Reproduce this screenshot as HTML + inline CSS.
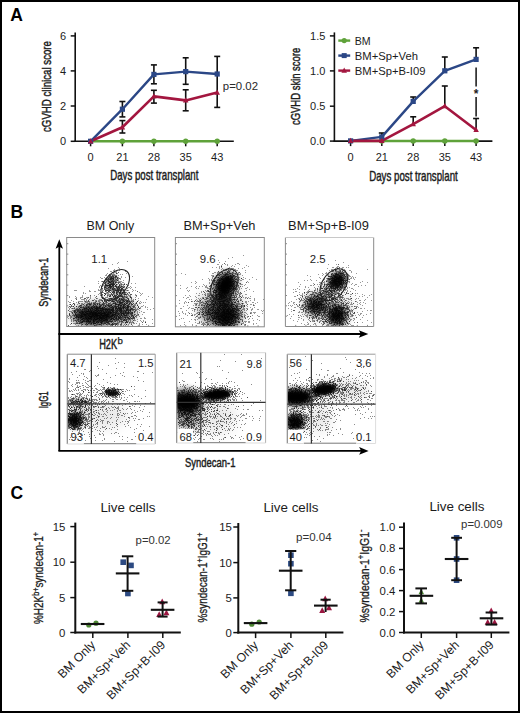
<!DOCTYPE html>
<html><head><meta charset="utf-8"><title>figure</title>
<style>html,body{margin:0;padding:0;background:#fff;}svg{display:block;}text{font-family:"Liberation Sans",sans-serif;}</style>
</head><body>
<svg width="520" height="713" viewBox="0 0 520 713" font-family="Liberation Sans, sans-serif" fill="#1c1c1c">
<defs><filter id="soft" x="-5%" y="-5%" width="110%" height="110%"><feGaussianBlur stdDeviation="0.4"/></filter><filter id="b1_2" x="-50%" y="-50%" width="200%" height="200%"><feGaussianBlur stdDeviation="1.2"/></filter><filter id="b1_4" x="-50%" y="-50%" width="200%" height="200%"><feGaussianBlur stdDeviation="1.4"/></filter><filter id="b1_7" x="-50%" y="-50%" width="200%" height="200%"><feGaussianBlur stdDeviation="1.7"/></filter><filter id="b1_8" x="-50%" y="-50%" width="200%" height="200%"><feGaussianBlur stdDeviation="1.8"/></filter><filter id="b2_0" x="-50%" y="-50%" width="200%" height="200%"><feGaussianBlur stdDeviation="2.0"/></filter><filter id="b2_5" x="-50%" y="-50%" width="200%" height="200%"><feGaussianBlur stdDeviation="2.5"/></filter><filter id="b2_7" x="-50%" y="-50%" width="200%" height="200%"><feGaussianBlur stdDeviation="2.7"/></filter><filter id="b2_9" x="-50%" y="-50%" width="200%" height="200%"><feGaussianBlur stdDeviation="2.9"/></filter><filter id="b3_1" x="-50%" y="-50%" width="200%" height="200%"><feGaussianBlur stdDeviation="3.1"/></filter><filter id="b3_4" x="-50%" y="-50%" width="200%" height="200%"><feGaussianBlur stdDeviation="3.4"/></filter><filter id="b3_6" x="-50%" y="-50%" width="200%" height="200%"><feGaussianBlur stdDeviation="3.6"/></filter><filter id="b4_0" x="-50%" y="-50%" width="200%" height="200%"><feGaussianBlur stdDeviation="4.0"/></filter><filter id="b5_0" x="-50%" y="-50%" width="200%" height="200%"><feGaussianBlur stdDeviation="5.0"/></filter><filter id="b5_4" x="-50%" y="-50%" width="200%" height="200%"><feGaussianBlur stdDeviation="5.4"/></filter><filter id="b5_9" x="-50%" y="-50%" width="200%" height="200%"><feGaussianBlur stdDeviation="5.9"/></filter><filter id="b6_3" x="-50%" y="-50%" width="200%" height="200%"><feGaussianBlur stdDeviation="6.3"/></filter><clipPath id="c66_237"><rect x="66.7" y="237.5" width="87.99999999999999" height="89.0"/></clipPath><clipPath id="c175_237"><rect x="175.4" y="237.5" width="88.9" height="89.30000000000001"/></clipPath><clipPath id="c285_237"><rect x="285.4" y="237.5" width="88.30000000000001" height="89.0"/></clipPath><clipPath id="c67_354"><rect x="67.3" y="354.2" width="87.89999999999999" height="89.80000000000001"/></clipPath><clipPath id="c176_352"><rect x="176.7" y="352.7" width="88.90000000000003" height="90.30000000000001"/></clipPath><clipPath id="c287_354"><rect x="287.3" y="354.2" width="88.30000000000001" height="89.30000000000001"/></clipPath></defs>
<rect x="0" y="0" width="520" height="713" fill="#fff"/>
<text x="10.3" y="20.5" font-size="17.5" font-weight="bold" fill="#000">A</text>
<text x="10.6" y="217.5" font-size="17.5" font-weight="bold" fill="#000">B</text>
<text x="10.6" y="498.6" font-size="17.5" font-weight="bold" fill="#000">C</text>
<line x1="75.2" y1="32.4" x2="75.2" y2="142.10000000000002" stroke="#111" stroke-width="1.6"/>
<line x1="70.7" y1="35.9" x2="75.2" y2="35.9" stroke="#111" stroke-width="1.5"/>
<text x="66.0" y="39.8" font-size="11" text-anchor="end">6</text>
<line x1="70.7" y1="70.9" x2="75.2" y2="70.9" stroke="#111" stroke-width="1.5"/>
<text x="66.0" y="74.80000000000001" font-size="11" text-anchor="end">4</text>
<line x1="70.7" y1="106.0" x2="75.2" y2="106.0" stroke="#111" stroke-width="1.5"/>
<text x="66.0" y="109.9" font-size="11" text-anchor="end">2</text>
<line x1="70.7" y1="141.3" x2="75.2" y2="141.3" stroke="#111" stroke-width="1.5"/>
<text x="66.0" y="145.20000000000002" font-size="11" text-anchor="end">0</text>
<line x1="74.4" y1="141.3" x2="233.8" y2="141.3" stroke="#111" stroke-width="1.6"/>
<line x1="90.6" y1="141.3" x2="90.6" y2="146.3" stroke="#111" stroke-width="1.5"/>
<text x="90.6" y="161.0" font-size="11" text-anchor="middle">0</text>
<line x1="122.4" y1="141.3" x2="122.4" y2="146.3" stroke="#111" stroke-width="1.5"/>
<text x="122.4" y="161.0" font-size="11" text-anchor="middle">21</text>
<line x1="153.9" y1="141.3" x2="153.9" y2="146.3" stroke="#111" stroke-width="1.5"/>
<text x="153.9" y="161.0" font-size="11" text-anchor="middle">28</text>
<line x1="185.7" y1="141.3" x2="185.7" y2="146.3" stroke="#111" stroke-width="1.5"/>
<text x="185.7" y="161.0" font-size="11" text-anchor="middle">35</text>
<line x1="217.2" y1="141.3" x2="217.2" y2="146.3" stroke="#111" stroke-width="1.5"/>
<text x="217.2" y="161.0" font-size="11" text-anchor="middle">43</text>
<text x="110.2" y="180.4" font-size="14.5" textLength="88.2" lengthAdjust="spacingAndGlyphs" stroke="#1c1c1c" stroke-width="0.45">Days post transplant</text>
<text x="50.8" y="86.5" font-size="13.2" text-anchor="middle" textLength="91.0" lengthAdjust="spacingAndGlyphs" transform="rotate(-90 50.8 86.5)" stroke="#1c1c1c" stroke-width="0.45">cGVHD clinical score</text>
<polyline points="90.6,141.2 122.4,141.2 153.9,141.2 185.7,141.2 217.2,141.2" fill="none" stroke="#5fa23a" stroke-width="2.6" stroke-linejoin="round"/>
<circle cx="122.4" cy="141.2" r="2.7" fill="#5fa23a"/>
<circle cx="153.9" cy="141.2" r="2.7" fill="#5fa23a"/>
<circle cx="185.7" cy="141.2" r="2.7" fill="#5fa23a"/>
<circle cx="217.2" cy="141.2" r="2.7" fill="#5fa23a"/>
<line x1="122.4" y1="101.5" x2="122.4" y2="116.9" stroke="#111" stroke-width="1.6"/>
<line x1="119.4" y1="101.5" x2="125.4" y2="101.5" stroke="#111" stroke-width="1.6"/>
<line x1="119.4" y1="116.9" x2="125.4" y2="116.9" stroke="#111" stroke-width="1.6"/>
<line x1="153.9" y1="64.9" x2="153.9" y2="83.8" stroke="#111" stroke-width="1.6"/>
<line x1="150.9" y1="64.9" x2="156.9" y2="64.9" stroke="#111" stroke-width="1.6"/>
<line x1="150.9" y1="83.8" x2="156.9" y2="83.8" stroke="#111" stroke-width="1.6"/>
<line x1="185.7" y1="57.8" x2="185.7" y2="84.3" stroke="#111" stroke-width="1.6"/>
<line x1="182.7" y1="57.8" x2="188.7" y2="57.8" stroke="#111" stroke-width="1.6"/>
<line x1="182.7" y1="84.3" x2="188.7" y2="84.3" stroke="#111" stroke-width="1.6"/>
<line x1="217.2" y1="56.4" x2="217.2" y2="107.4" stroke="#111" stroke-width="1.6"/>
<line x1="214.2" y1="56.4" x2="220.2" y2="56.4" stroke="#111" stroke-width="1.6"/>
<line x1="214.2" y1="107.4" x2="220.2" y2="107.4" stroke="#111" stroke-width="1.6"/>
<line x1="122.4" y1="120.6" x2="122.4" y2="133.0" stroke="#111" stroke-width="1.6"/>
<line x1="119.4" y1="120.6" x2="125.4" y2="120.6" stroke="#111" stroke-width="1.6"/>
<line x1="119.4" y1="133.0" x2="125.4" y2="133.0" stroke="#111" stroke-width="1.6"/>
<line x1="153.9" y1="90.3" x2="153.9" y2="103.1" stroke="#111" stroke-width="1.6"/>
<line x1="150.9" y1="90.3" x2="156.9" y2="90.3" stroke="#111" stroke-width="1.6"/>
<line x1="150.9" y1="103.1" x2="156.9" y2="103.1" stroke="#111" stroke-width="1.6"/>
<line x1="185.7" y1="89.8" x2="185.7" y2="110.8" stroke="#111" stroke-width="1.6"/>
<line x1="182.7" y1="89.8" x2="188.7" y2="89.8" stroke="#111" stroke-width="1.6"/>
<line x1="182.7" y1="110.8" x2="188.7" y2="110.8" stroke="#111" stroke-width="1.6"/>
<polyline points="90.6,141.3 122.4,109.2 153.9,74.4 185.7,71.6 217.2,74.0" fill="none" stroke="#2b4786" stroke-width="2.4" stroke-linejoin="round"/>
<polyline points="90.6,141.3 122.4,127.3 153.9,96.4 185.7,100.4 217.2,92.6" fill="none" stroke="#a3163f" stroke-width="2.6" stroke-linejoin="round"/>
<rect x="88.00" y="138.70" width="5.2" height="5.2" fill="#2b4786"/>
<rect x="119.80" y="106.60" width="5.2" height="5.2" fill="#2b4786"/>
<rect x="151.30" y="71.80" width="5.2" height="5.2" fill="#2b4786"/>
<rect x="183.10" y="69.00" width="5.2" height="5.2" fill="#2b4786"/>
<rect x="214.60" y="71.40" width="5.2" height="5.2" fill="#2b4786"/>
<polygon points="90.60,138.17 93.35,143.39 87.85,143.39" fill="#a3163f"/>
<polygon points="122.40,124.16 125.15,129.39 119.65,129.39" fill="#a3163f"/>
<polygon points="153.90,93.27 156.65,98.49 151.15,98.49" fill="#a3163f"/>
<polygon points="185.70,97.27 188.45,102.49 182.95,102.49" fill="#a3163f"/>
<polygon points="217.20,89.46 219.95,94.69 214.45,94.69" fill="#a3163f"/>
<text x="222.8" y="90.2" font-size="11.2" textLength="35.2" lengthAdjust="spacingAndGlyphs" fill="#2a2a2a">p=0.02</text>
<line x1="334.4" y1="32.4" x2="334.4" y2="141.9" stroke="#111" stroke-width="1.6"/>
<line x1="329.9" y1="35.9" x2="334.4" y2="35.9" stroke="#111" stroke-width="1.5"/>
<text x="325.4" y="39.8" font-size="11" text-anchor="end">1.5</text>
<line x1="329.9" y1="70.9" x2="334.4" y2="70.9" stroke="#111" stroke-width="1.5"/>
<text x="325.4" y="74.80000000000001" font-size="11" text-anchor="end">1.0</text>
<line x1="329.9" y1="106.2" x2="334.4" y2="106.2" stroke="#111" stroke-width="1.5"/>
<text x="325.4" y="110.10000000000001" font-size="11" text-anchor="end">0.5</text>
<line x1="329.9" y1="141.1" x2="334.4" y2="141.1" stroke="#111" stroke-width="1.5"/>
<text x="325.4" y="145.0" font-size="11" text-anchor="end">0.0</text>
<line x1="333.59999999999997" y1="141.1" x2="492.4" y2="141.1" stroke="#111" stroke-width="1.6"/>
<line x1="350.6" y1="141.1" x2="350.6" y2="146.1" stroke="#111" stroke-width="1.5"/>
<text x="350.6" y="161.0" font-size="11" text-anchor="middle">0</text>
<line x1="381.8" y1="141.1" x2="381.8" y2="146.1" stroke="#111" stroke-width="1.5"/>
<text x="381.8" y="161.0" font-size="11" text-anchor="middle">21</text>
<line x1="413.2" y1="141.1" x2="413.2" y2="146.1" stroke="#111" stroke-width="1.5"/>
<text x="413.2" y="161.0" font-size="11" text-anchor="middle">28</text>
<line x1="444.8" y1="141.1" x2="444.8" y2="146.1" stroke="#111" stroke-width="1.5"/>
<text x="444.8" y="161.0" font-size="11" text-anchor="middle">35</text>
<line x1="476.1" y1="141.1" x2="476.1" y2="146.1" stroke="#111" stroke-width="1.5"/>
<text x="476.1" y="161.0" font-size="11" text-anchor="middle">43</text>
<text x="369.2" y="180.6" font-size="14.5" textLength="88.6" lengthAdjust="spacingAndGlyphs" stroke="#1c1c1c" stroke-width="0.45">Days post transplant</text>
<text x="300.3" y="86.4" font-size="13.4" text-anchor="middle" textLength="77.4" lengthAdjust="spacingAndGlyphs" transform="rotate(-90 300.3 86.4)" stroke="#1c1c1c" stroke-width="0.45">cGVHD skin score</text>
<polyline points="350.6,141.0 381.8,141.0 413.2,141.0 444.8,141.0 476.1,141.0" fill="none" stroke="#5fa23a" stroke-width="2.6" stroke-linejoin="round"/>
<circle cx="381.8" cy="141.0" r="2.7" fill="#5fa23a"/>
<circle cx="413.2" cy="141.0" r="2.7" fill="#5fa23a"/>
<circle cx="444.8" cy="141.0" r="2.7" fill="#5fa23a"/>
<circle cx="476.1" cy="141.0" r="2.7" fill="#5fa23a"/>
<line x1="381.8" y1="133.0" x2="381.8" y2="136.9" stroke="#111" stroke-width="1.6"/>
<line x1="378.8" y1="133.0" x2="384.8" y2="133.0" stroke="#111" stroke-width="1.6"/>
<line x1="413.2" y1="97.0" x2="413.2" y2="101.4" stroke="#111" stroke-width="1.6"/>
<line x1="410.2" y1="97.0" x2="416.2" y2="97.0" stroke="#111" stroke-width="1.6"/>
<line x1="444.8" y1="57.0" x2="444.8" y2="70.8" stroke="#111" stroke-width="1.6"/>
<line x1="441.8" y1="57.0" x2="447.8" y2="57.0" stroke="#111" stroke-width="1.6"/>
<line x1="476.1" y1="47.8" x2="476.1" y2="59.4" stroke="#111" stroke-width="1.6"/>
<line x1="473.1" y1="47.8" x2="479.1" y2="47.8" stroke="#111" stroke-width="1.6"/>
<line x1="413.2" y1="116.8" x2="413.2" y2="124.2" stroke="#111" stroke-width="1.6"/>
<line x1="410.2" y1="116.8" x2="416.2" y2="116.8" stroke="#111" stroke-width="1.6"/>
<line x1="444.8" y1="86.0" x2="444.8" y2="106.2" stroke="#111" stroke-width="1.6"/>
<line x1="441.8" y1="86.0" x2="447.8" y2="86.0" stroke="#111" stroke-width="1.6"/>
<line x1="476.1" y1="118.5" x2="476.1" y2="130.0" stroke="#111" stroke-width="1.6"/>
<line x1="473.1" y1="118.5" x2="479.1" y2="118.5" stroke="#111" stroke-width="1.6"/>
<polyline points="350.6,140.9 381.8,136.9 413.2,101.4 444.8,70.8 476.1,59.4" fill="none" stroke="#2b4786" stroke-width="2.4" stroke-linejoin="round"/>
<polyline points="350.6,140.9 381.8,140.9 413.2,124.2 444.8,106.2 476.1,130.0" fill="none" stroke="#a3163f" stroke-width="2.6" stroke-linejoin="round"/>
<rect x="348.00" y="138.30" width="5.2" height="5.2" fill="#2b4786"/>
<rect x="379.20" y="134.30" width="5.2" height="5.2" fill="#2b4786"/>
<rect x="410.60" y="98.80" width="5.2" height="5.2" fill="#2b4786"/>
<rect x="442.20" y="68.20" width="5.2" height="5.2" fill="#2b4786"/>
<rect x="473.50" y="56.80" width="5.2" height="5.2" fill="#2b4786"/>
<polygon points="350.60,137.77 353.35,142.99 347.85,142.99" fill="#a3163f"/>
<polygon points="381.80,137.77 384.55,142.99 379.05,142.99" fill="#a3163f"/>
<polygon points="413.20,121.06 415.95,126.29 410.45,126.29" fill="#a3163f"/>
<polygon points="444.80,103.06 447.55,108.29 442.05,108.29" fill="#a3163f"/>
<polygon points="476.10,126.86 478.85,132.09 473.35,132.09" fill="#a3163f"/>
<line x1="476.1" y1="67.5" x2="476.1" y2="86.5" stroke="#111" stroke-width="1.5"/>
<line x1="476.1" y1="97.0" x2="476.1" y2="116.5" stroke="#111" stroke-width="1.5"/>
<text x="476.1" y="98.2" font-size="12" text-anchor="middle" font-weight="bold">*</text>
<line x1="338.3" y1="40.6" x2="350.2" y2="40.6" stroke="#5fa23a" stroke-width="2.4"/>
<circle cx="344.2" cy="40.6" r="2.6" fill="#5fa23a"/>
<text x="354.8" y="44.5" font-size="11.2" textLength="15.9" lengthAdjust="spacingAndGlyphs">BM</text>
<line x1="338.3" y1="55.6" x2="350.2" y2="55.6" stroke="#2b4786" stroke-width="2.4"/>
<rect x="341.70" y="53.10" width="5" height="5" fill="#2b4786"/>
<text x="354.8" y="59.5" font-size="11.2" textLength="63.2" lengthAdjust="spacingAndGlyphs">BM+Sp+Veh</text>
<line x1="338.3" y1="70.6" x2="350.2" y2="70.6" stroke="#a3163f" stroke-width="2.4"/>
<polygon points="344.20,67.46 346.95,72.69 341.45,72.69" fill="#a3163f"/>
<text x="354.8" y="74.5" font-size="11.2" textLength="70.6" lengthAdjust="spacingAndGlyphs">BM+Sp+B-I09</text>
<text x="86.5" y="230.0" font-size="13" textLength="47.8" lengthAdjust="spacingAndGlyphs">BM Only</text>
<text x="183.4" y="230.0" font-size="13" textLength="72.0" lengthAdjust="spacingAndGlyphs">BM+Sp+Veh</text>
<text x="288.1" y="230.0" font-size="13" textLength="80.8" lengthAdjust="spacingAndGlyphs">BM+Sp+B-I09</text>
<line x1="59.3" y1="245.2" x2="59.3" y2="451.0" stroke="#000" stroke-width="1.8"/>
<path d="M59.3 239.2 L55.599999999999994 248.7 L59.3 246.7 L63.0 248.7 Z" fill="#000"/>
<line x1="58.4" y1="334.0" x2="362.3" y2="334.0" stroke="#000" stroke-width="1.8"/>
<path d="M368.3 334.0 L358.8 330.2 L360.8 334.0 L358.8 337.8 Z" fill="#000"/>
<line x1="58.4" y1="450.9" x2="362.6" y2="450.9" stroke="#000" stroke-width="1.8"/>
<path d="M368.6 450.9 L359.1 447.09999999999997 L361.1 450.9 L359.1 454.7 Z" fill="#000"/>
<text x="47.8" y="282.2" font-size="13.2" text-anchor="middle" textLength="49.0" lengthAdjust="spacingAndGlyphs" transform="rotate(-90 47.8 282.2)" stroke="#1c1c1c" stroke-width="0.45">Syndecan-1</text>
<text x="99.2" y="348.8" font-size="13.8" textLength="18.0" lengthAdjust="spacingAndGlyphs" fill="#1c1c1c" stroke="#1c1c1c" stroke-width="0.45">H2K</text>
<text x="117.4" y="343.6" font-size="9.6" fill="#1c1c1c" stroke="#1c1c1c" stroke-width="0.25">b</text>
<text x="47.9" y="399.8" font-size="13.4" text-anchor="middle" textLength="17.0" lengthAdjust="spacingAndGlyphs" transform="rotate(-90 47.9 399.8)" stroke="#1c1c1c" stroke-width="0.45">IgG1</text>
<text x="185.0" y="467.3" font-size="13.0" textLength="50.4" lengthAdjust="spacingAndGlyphs" stroke="#1c1c1c" stroke-width="0.45">Syndecan-1</text>
<g clip-path="url(#c66_237)">
<ellipse cx="108" cy="309" rx="26.0" ry="11.7" transform="rotate(0 108 309)" fill="#000" fill-opacity="0.12" filter="url(#b4_0)"/>
<ellipse cx="95" cy="315.5" rx="22.5" ry="10.0" transform="rotate(0 95 315.5)" fill="#000" fill-opacity="0.9" filter="url(#b3_6)"/>
<ellipse cx="124" cy="312" rx="10.8" ry="10.8" transform="rotate(0 124 312)" fill="#000" fill-opacity="0.55" filter="url(#b4_0)"/>
<ellipse cx="119" cy="300" rx="9.6" ry="8.4" transform="rotate(0 119 300)" fill="#000" fill-opacity="0.2" filter="url(#b3_1)"/>
<ellipse cx="111" cy="282" rx="8.4" ry="4.6" transform="rotate(-55 111 282)" fill="#000" fill-opacity="0.45" filter="url(#b1_7)"/>
<ellipse cx="119" cy="290" rx="6.6" ry="5.4" transform="rotate(0 119 290)" fill="#000" fill-opacity="0.2" filter="url(#b2_0)"/>
<path d="M108 311h1M102 300h1M98 300h1M109 321h1M98 303h1M117 312h1M110 300h1M107 315h1M81 304h1M69 297h1M71 306h1M82 311h1M111 307h1M107 310h1M77 304h1M88 301h1M129 301h1M107 316h1M96 307h1M110 309h1M83 309h1M135 295h1M125 310h1M123 298h1M109 314h1M104 315h1M106 315h1M136 302h1M112 304h1M110 298h1M125 319h1M81 301h1M120 291h1M98 308h1M133 315h1M101 305h1M102 322h1M99 306h1M115 307h1M104 298h1M107 305h1M131 314h1M101 318h1M107 314h1M82 312h1M74 290h1M101 300h1M91 303h1M112 313h1M104 307h1M122 313h1M87 308h1M108 299h1M113 301h1M127 310h1M109 303h1M105 291h1M85 312h1M73 315h1M91 316h1M110 295h1M132 321h1M106 306h1M104 300h1M129 304h1M106 301h1M95 297h1M133 307h1M127 309h1M94 306h1M96 309h1M100 306h1M80 301h1M141 302h1M86 312h1M136 295h1M103 303h1M72 315h1M107 309h1M92 313h1M97 307h1M85 298h1M134 304h1M113 308h1M99 304h1M120 306h1M104 309h1M131 315h1M115 303h1M80 317h1M127 307h1M118 316h1M124 317h1M98 322h1M83 316h1M117 316h1M145 322h1M85 293h1M124 299h1M75 290h1M113 309h1M103 309h1M90 295h1M75 313h1M106 312h1M88 303h1M111 301h1M115 312h1M148 296h1M125 308h1M107 295h1M98 315h1M106 309h1M102 319h1M107 289h1M94 291h1M134 309h1M84 300h1M130 310h1M108 308h1M108 316h1M119 310h1M87 313h1M94 318h1M82 307h1M107 297h1M142 322h1M115 285h1M109 299h1M102 307h1M131 312h1M107 322h1M96 305h1M71 323h1M127 317h1M121 309h1M112 306h1M138 314h1M106 303h1M95 323h1M118 309h1M101 299h1M106 316h1M76 306h1M90 316h1M92 314h1M138 306h1M95 310h1M107 300h1M87 311h1M83 299h1M133 300h1M129 322h1M113 313h1M147 307h1M96 296h1M108 322h1M127 300h1M90 304h1M113 307h1M112 311h1M102 308h1M112 308h1M119 309h1M74 312h1M69 296h1M125 315h1M105 293h1M100 302h1M112 301h1M84 308h1M130 318h1M118 307h1M100 305h1M82 296h1M123 307h1M112 318h1M73 301h1M111 312h1M100 318h1M112 298h1M89 316h1M117 291h1M134 314h1M134 305h1M102 298h1M139 303h1M111 293h1M100 317h1M82 318h1M114 299h1M97 304h1M107 304h1M91 306h1M87 297h1M77 309h1M95 300h1M125 304h1M137 301h1M115 306h1M104 314h1M107 299h1M105 309h1M107 293h1M121 299h1M71 308h1M130 295h1M86 302h1M91 302h1M119 302h1M116 300h1M83 292h1M145 306h1M111 309h1M146 299h1M76 299h1M81 315h1M124 300h1M80 305h1M135 283h1M118 299h1M128 299h1M102 295h1M88 321h1M124 305h1M90 291h1M100 308h1M106 308h1M85 308h1M107 320h1M145 307h1M92 308h1M95 302h1M106 299h1M120 308h1M93 300h1M103 304h1M80 309h1M81 303h1M102 290h1M109 310h1M104 305h1M100 300h1M102 304h1M109 298h1M112 310h1M105 305h1M119 294h1M117 311h1M113 312h1M120 312h1M112 295h1M118 319h1M128 311h1M76 317h1M105 286h1M115 295h1M82 303h1M133 305h1M113 324h1M139 308h1M103 297h1M94 312h1M115 309h1M127 302h1M119 318h1M115 299h1M75 314h1M106 311h1M74 305h1M96 301h1M125 312h1M95 308h1M123 284h1M105 313h1M121 324h1M130 311h1M114 316h1M97 308h1M104 308h1M111 321h1M88 307h1M104 316h1M128 295h1M89 312h1M94 295h1M128 313h1M117 304h1M128 306h1M129 300h1M90 310h1M93 315h1M113 300h1M109 305h1M126 303h1M99 319h1M138 307h1M88 310h1M117 301h1M75 296h1M121 302h1M105 310h1M120 305h1M117 300h1M100 299h1M130 308h1M93 305h1M103 315h1M103 305h1M132 313h1M121 304h1M146 324h1M119 315h1M104 312h1M121 305h1M93 306h1M95 305h1M113 319h1M147 309h1M71 300h1M83 304h1M109 290h1M114 295h1M101 308h1M97 303h1M74 308h1M134 315h1M94 321h1M102 309h1M99 308h1M86 305h1M153 308h1M103 313h1M122 298h1M103 317h1M113 310h1M139 302h1M109 304h1M137 291h1M94 304h1M121 314h1M135 294h1M123 306h1M94 313h1M89 290h1M100 295h1M95 312h1M114 323h1M104 295h1M92 300h1M83 312h1M95 291h1M121 307h1M120 309h1M132 312h1M78 307h1M102 310h1M80 323h1M73 306h1M106 302h1M107 317h1M98 301h1M88 300h1M98 290h1M79 305h1M110 307h1M72 304h1M123 314h1M120 303h1M84 301h1M136 310h1M131 304h1M123 304h1M132 304h1M108 309h1M134 311h1M123 311h1M111 325h1M89 308h1M117 315h1M99 311h1M105 298h1M88 306h1M111 299h1M131 313h1M98 310h1M99 321h1M95 319h1M97 316h1M113 311h1M82 313h1M116 304h1M116 310h1M88 322h1M116 312h1M102 321h1M83 318h1M94 311h1M86 316h1M87 324h1M116 320h1M135 308h1M109 312h1M106 321h1M108 314h1M103 320h1M93 323h1M76 323h1M90 308h1M78 302h1M94 319h1M113 314h1M113 315h1M93 320h1M114 312h1M90 314h1M96 308h1M103 308h1M88 318h1M96 315h1M89 301h1M90 297h1M101 309h1M106 304h1M100 312h1M126 317h1M109 315h1M126 299h1M89 322h1M88 309h1M79 312h1M82 322h1M110 312h1M74 303h1M82 297h1M108 310h1M116 306h1M110 324h1M81 307h1M93 302h1M121 296h1M99 313h1M115 298h1M94 309h1M97 317h1M78 310h1M109 318h1M136 303h1M109 317h1M91 311h1M108 312h1M87 305h1M94 308h1M91 323h1M101 319h1M101 315h1M108 306h1M81 311h1M82 316h1M82 324h1M80 297h1M81 299h1M94 323h1M100 315h1M101 320h1M83 307h1M95 307h1M93 316h1M137 308h1M102 323h1M86 308h1M76 312h1M84 313h1M124 297h1M88 317h1M85 317h1M106 322h1M86 322h1M116 324h1M120 314h1M91 322h1M70 317h1M94 322h1M112 314h1M91 308h1M102 313h1M94 303h1M79 303h1M99 303h1M106 324h1M119 320h1M106 317h1M111 324h1M101 295h1M77 317h1M116 311h1M99 318h1M82 321h1M98 321h1M94 314h1M117 318h1M84 311h1M104 320h1M120 318h1M73 303h1M123 308h1M117 320h1M125 323h1M93 313h1M96 316h1M85 315h1M123 301h1M93 321h1M84 320h1M98 294h1M81 317h1M122 317h1M95 313h1M143 321h1M117 319h1M72 313h1M100 322h1M102 318h1M81 305h1M71 305h1M86 300h1M70 302h1M98 318h1M131 303h1M91 312h1M74 304h1M101 317h1M70 307h1M83 320h1M105 301h1M89 318h1M84 298h1M89 321h1M123 297h1M142 306h1M112 325h1M112 316h1M74 320h1M82 295h1M145 321h1M127 308h1M122 315h1M73 314h1M94 325h1M80 312h1M111 305h1M89 304h1M78 306h1M137 319h1M87 301h1M87 304h1M92 307h1M96 319h1M69 308h1M78 321h1M125 322h1M83 293h1M76 316h1M68 310h1M116 316h1M137 309h1M99 300h1M78 319h1M93 307h1M88 311h1M86 321h1M106 310h1M78 317h1M79 308h1M87 321h1M90 321h1M143 305h1M118 310h1M82 310h1M92 316h1M131 324h1M93 319h1M102 301h1M101 314h1M97 311h1M75 311h1M112 315h1M95 314h1M95 306h1M106 314h1M82 315h1M109 311h1M134 320h1M96 314h1M89 311h1M94 316h1M73 320h1M85 324h1M99 324h1M97 318h1M81 316h1M125 318h1M83 314h1M110 308h1M91 324h1M76 308h1M84 314h1M132 317h1M121 317h1M105 303h1M90 298h1M90 318h1M72 308h1M100 316h1M79 315h1M116 307h1M122 322h1M68 301h1M71 312h1M96 298h1M76 315h1M105 320h1M86 309h1M101 323h1M97 325h1M117 314h1M120 316h1M71 320h1M107 313h1M109 308h1M90 307h1M82 301h1M109 324h1M79 314h1M70 304h1M136 316h1M83 321h1M127 319h1M73 318h1M119 311h1M81 323h1M97 306h1M115 321h1M111 319h1M77 322h1M75 298h1M79 317h1M86 323h1M81 324h1M81 312h1M129 318h1M115 325h1M84 310h1M77 320h1M105 314h1M77 316h1M123 313h1M75 323h1M100 324h1M95 325h1M110 321h1M104 318h1M99 317h1M126 314h1M89 305h1M133 317h1M105 317h1M90 296h1M105 319h1M85 321h1M115 316h1M100 314h1M120 315h1M132 308h1M107 307h1M127 312h1M93 322h1M117 306h1M88 304h1M97 314h1M87 319h1M77 314h1M76 321h1M101 313h1M75 309h1M81 306h1M83 311h1M111 310h1M126 320h1M75 315h1M107 319h1M85 314h1M71 317h1M86 304h1M80 320h1M107 312h1M118 324h1M99 301h1M125 317h1M117 310h1M91 315h1M102 303h1M101 310h1M133 316h1M76 309h1M101 311h1M104 319h1M121 315h1M128 307h1M88 319h1M121 310h1M105 312h1M74 323h1M126 308h1M89 323h1M84 319h1M81 297h1M129 312h1M94 320h1M116 323h1M93 309h1M90 319h1M108 317h1M99 302h1M107 292h1M95 303h1M85 316h1M78 309h1M86 315h1M115 305h1M122 319h1M110 320h1M118 313h1M89 307h1M82 319h1M82 309h1M74 311h1M69 313h1M78 316h1M128 320h1M89 302h1M69 302h1M96 310h1M80 322h1M77 323h1M90 313h1M100 310h1M97 322h1M112 323h1M69 314h1M80 310h1M112 309h1M128 305h1M100 309h1M122 307h1M91 307h1M89 306h1M91 310h1M87 316h1M86 311h1M109 316h1M109 309h1M115 313h1M84 286h1M96 300h1M99 312h1M91 314h1M85 310h1M78 325h1M91 319h1M124 313h1M114 319h1M91 304h1M70 318h1M89 303h1M106 320h1M98 320h1M121 306h1M108 305h1M98 313h1M96 313h1M110 317h1M89 314h1M87 322h1M90 317h1M87 303h1M107 318h1M73 321h1M87 317h1M105 315h1M86 306h1M90 309h1M101 294h1M97 309h1M119 313h1M81 313h1M130 321h1M114 314h1M99 316h1M80 298h1M82 299h1M110 316h1M73 323h1M81 314h1M68 307h1M80 311h1M111 315h1M95 315h1M107 311h1M115 319h1M97 315h1M104 323h1M96 306h1M132 319h1M76 297h1M96 312h1M87 298h1M84 321h1M85 301h1M84 318h1M96 324h1M86 319h1M105 306h1M99 307h1M95 304h1M121 313h1M123 315h1M101 322h1M99 305h1M118 312h1M89 291h1M113 322h1M109 323h1M88 323h1M80 318h1M87 302h1M67 317h1M72 312h1M97 321h1M83 306h1M102 316h1M110 305h1M75 317h1M133 320h1M79 321h1M141 318h1M121 319h1M106 319h1M104 321h1M73 319h1M92 322h1M112 320h1M73 308h1M104 313h1M108 321h1M75 310h1M69 304h1M113 323h1M88 320h1M116 313h1M74 318h1M103 307h1M129 310h1M130 306h1M70 316h1M116 309h1M124 319h1M87 307h1M123 312h1M84 303h1M73 311h1M91 318h1M104 317h1M98 307h1M77 310h1M90 305h1M97 310h1M128 310h1M121 308h1M131 316h1M114 306h1M126 305h1M115 311h1M81 322h1M80 315h1M76 314h1M77 315h1M77 311h1M87 309h1M70 306h1M115 310h1M114 317h1M94 299h1M71 321h1M120 317h1M90 312h1M105 318h1M99 315h1M121 323h1M80 307h1M91 317h1M85 309h1M108 301h1M107 302h1M141 294h1M111 313h1M109 306h1M90 323h1M115 318h1M67 315h1M81 310h1M110 311h1M85 306h1M105 323h1M79 309h1M119 317h1M90 324h1M88 313h1M86 299h1M84 309h1M93 303h1M97 313h1M112 324h1M101 312h1M100 320h1M90 303h1M76 302h1M99 320h1M103 306h1M74 310h1M111 316h1M111 304h1M93 311h1M136 315h1M127 305h1M105 316h1M92 306h1M70 324h1M81 319h1M94 317h1M116 318h1M119 322h1M76 310h1M132 314h1M152 323h1M103 311h1M112 321h1M114 315h1M119 321h1M84 305h1M81 321h1M108 313h1M110 313h1M96 318h1M104 322h1M96 322h1M118 323h1M103 323h1M89 313h1M102 315h1M124 320h1M79 323h1M142 314h1M68 325h1M96 317h1M106 318h1M123 320h1M101 325h1M99 299h1M95 320h1M117 309h1M72 306h1M116 317h1M73 310h1M78 314h1M115 323h1M86 325h1M78 303h1M93 312h1M81 325h1M122 304h1M118 314h1M69 306h1M84 307h1M92 310h1M121 318h1M103 312h1M77 308h1M126 301h1M94 315h1M93 314h1M86 314h1M94 307h1M98 309h1M104 301h1M93 324h1M134 306h1M78 315h1M102 317h1M98 312h1M87 318h1M76 320h1M97 324h1M78 320h1M71 316h1M88 315h1M130 296h1M101 321h1M88 297h1M115 315h1M126 312h1M70 315h1M86 313h1M86 318h1M80 313h1M110 319h1M85 318h1M78 301h1M111 318h1M87 320h1M100 307h1M92 312h1M108 303h1M76 318h1M117 324h1M105 321h1M79 306h1M79 316h1M76 298h1M100 321h1M103 316h1M78 323h1M137 312h1M74 315h1M96 311h1M95 316h1M79 322h1M110 310h1M115 304h1M75 324h1M91 313h1M108 315h1M103 310h1M106 293h1M69 311h1M83 308h1M132 315h1M121 312h1M126 321h1M90 311h1M141 321h1M86 320h1M72 310h1M103 318h1M79 310h1M80 306h1M115 308h1M107 321h1M104 304h1M114 307h1M110 302h1M80 316h1M86 297h1M75 320h1M108 323h1M105 311h1M101 324h1M78 318h1M126 324h1M110 306h1M87 306h1M118 317h1M86 310h1M85 302h1M89 299h1M122 316h1M85 311h1M126 322h1M97 319h1M95 301h1M132 325h1M98 324h1M118 318h1M69 309h1M88 314h1M100 313h1M96 325h1M82 314h1M124 307h1M90 322h1M90 320h1M111 308h1M79 301h1M99 310h1M114 298h1M111 306h1M86 317h1M124 324h1M93 304h1M137 305h1M86 324h1M92 309h1M71 319h1M108 324h1M86 307h1M95 317h1M89 315h1M69 315h1M79 311h1M93 317h1M89 319h1M85 307h1M136 309h1M74 316h1M127 322h1M97 323h1M82 304h1M83 313h1M113 303h1M108 318h1M122 321h1M116 308h1M105 308h1M102 320h1M127 318h1M92 315h1M70 311h1M110 325h1M68 318h1M76 322h1M84 315h1M78 311h1M75 312h1M112 299h1M97 298h1M87 314h1M76 290h1M84 299h1M80 321h1M110 304h1M74 307h1M71 311h1M117 322h1M96 321h1M86 301h1M94 310h1M85 319h1M128 318h1M126 307h1M127 321h1M131 308h1M130 307h1M136 317h1M125 302h1M128 312h1M125 306h1M123 309h1M126 296h1M114 297h1M127 306h1M115 324h1M111 322h1M135 309h1M123 317h1M126 310h1M127 313h1M114 303h1M126 294h1M116 297h1M114 310h1M130 322h1M117 325h1M130 313h1M130 319h1M112 312h1M117 323h1M128 304h1M123 300h1M123 316h1M125 294h1M117 313h1M123 325h1M132 318h1M127 315h1M139 324h1M122 302h1M141 306h1M133 309h1M120 302h1M145 318h1M130 297h1M130 309h1M123 310h1M118 297h1M125 311h1M131 294h1M119 316h1M133 290h1M124 298h1M113 317h1M107 308h1M118 304h1M126 313h1M107 324h1M120 310h1M103 319h1M132 306h1M124 315h1M138 309h1M100 304h1M116 314h1M128 317h1M116 319h1M140 307h1M118 308h1M135 316h1M129 313h1M144 312h1M128 294h1M118 305h1M125 300h1M124 314h1M114 296h1M117 308h1M107 323h1M118 306h1M105 322h1M127 316h1M122 318h1M129 319h1M128 300h1M130 302h1M119 301h1M124 311h1M121 325h1M131 305h1M132 301h1M130 317h1M114 321h1M108 304h1M126 300h1M137 321h1M111 298h1M136 323h1M119 308h1M120 321h1M125 299h1M116 299h1M113 318h1M105 294h1M132 309h1M117 298h1M127 301h1M113 306h1M128 301h1M122 292h1M131 301h1M133 318h1M123 299h1M114 320h1M109 320h1M128 315h1M134 307h1M140 320h1M120 325h1M128 321h1M124 304h1M142 293h1M121 321h1M142 324h1M134 318h1M130 312h1M140 308h1M126 315h1M101 304h1M114 305h1M129 316h1M123 305h1M129 296h1M140 318h1M134 312h1M123 280h1M129 306h1M134 323h1M120 324h1M139 316h1M122 308h1M125 307h1M134 317h1M150 309h1M118 322h1M131 318h1M96 303h1M125 320h1M138 315h1M121 320h1M120 307h1M124 303h1M121 311h1M122 312h1M124 312h1M117 321h1M132 310h1M105 290h1M137 311h1M114 324h1M122 290h1M121 322h1M135 320h1M129 309h1M129 303h1M137 315h1M109 313h1M124 316h1M126 297h1M124 301h1M122 311h1M131 322h1M130 320h1M144 317h1M132 322h1M129 323h1M119 303h1M125 325h1M126 295h1M135 305h1M116 303h1M120 319h1M119 299h1M111 317h1M135 304h1M126 302h1M128 324h1M126 316h1M126 309h1M124 293h1M104 303h1M115 314h1M115 317h1M112 307h1M124 310h1M123 322h1M116 315h1M122 297h1M135 314h1M133 323h1M133 299h1M139 325h1M127 293h1M126 319h1M139 310h1M139 323h1M121 303h1M136 296h1M120 295h1M120 311h1M130 303h1M125 313h1M133 322h1M145 302h1M135 310h1M135 303h1M135 299h1M109 307h1M135 297h1M101 292h1M122 296h1M125 316h1M132 316h1M131 297h1M134 319h1M138 298h1M131 309h1M137 314h1M110 296h1M141 311h1M129 295h1M140 301h1M118 320h1M113 305h1M119 304h1M128 308h1M131 298h1M123 318h1M103 302h1M128 298h1M130 301h1M120 313h1M143 312h1M115 320h1M131 323h1M140 303h1M140 295h1M119 314h1M131 300h1M122 303h1M130 314h1M128 314h1M128 319h1M123 319h1M126 311h1M137 313h1M143 302h1M103 321h1M119 300h1M138 300h1M119 293h1M143 320h1M116 298h1M113 289h1M115 300h1M118 291h1M105 302h1M112 303h1M116 289h1M124 296h1M127 303h1M122 300h1M119 298h1M120 292h1M132 302h1M114 291h1M112 300h1M113 296h1M121 293h1M130 294h1M122 299h1M105 300h1M114 284h1M117 293h1M120 304h1M110 294h1M120 289h1M124 306h1M125 293h1M128 302h1M122 301h1M124 294h1M115 297h1M114 302h1M128 309h1M115 296h1M116 291h1M124 295h1M118 288h1M101 286h1M131 287h1M122 310h1M133 306h1M137 304h1M115 290h1M117 297h1M113 302h1M135 307h1M133 303h1M118 290h1M119 285h1M116 290h1M113 297h1M109 300h1M110 287h1M133 301h1M123 302h1M117 302h1M128 285h1M116 286h1M117 296h1M105 297h1M104 293h1M109 295h1M114 294h1M132 300h1M94 302h1M127 314h1M119 288h1M123 296h1M125 292h1M139 292h1M118 301h1M119 296h1M107 296h1M119 305h1M120 300h1M121 289h1M116 301h1M118 300h1M117 292h1M114 292h1M122 289h1M101 297h1M113 298h1M115 302h1M125 277h1M114 301h1M116 295h1M108 295h1M118 292h1M129 292h1M109 301h1M135 290h1M132 291h1M129 302h1M120 296h1M123 290h1M106 305h1M122 288h1M123 294h1M116 293h1M120 301h1M131 283h1M118 302h1M128 292h1M122 306h1M116 287h1M116 292h1M110 303h1M131 299h1M129 287h1M108 293h1M127 297h1M116 294h1M108 294h1M110 292h1M119 307h1M125 296h1M121 283h1M133 310h1M140 293h1M121 298h1M127 298h1M121 300h1M120 299h1M113 299h1M114 300h1M108 280h1M111 291h1M124 291h1M109 289h1M135 287h1M120 293h1M110 299h1M124 292h1M122 295h1M112 294h1M127 296h1M101 293h1M112 288h1M106 290h1M117 294h1M130 288h1M125 297h1M116 296h1M113 291h1M114 288h1M121 288h1M135 311h1M111 278h1M109 277h1M115 282h1M105 275h1M113 278h1M111 290h1M109 296h1M112 289h1M106 279h1M112 282h1M116 281h1M108 288h1M112 277h1M103 285h1M116 279h1M103 284h1M110 271h1M108 279h1M103 292h1M114 286h1M119 268h1M117 278h1M105 283h1M115 272h1M109 281h1M108 281h1M117 280h1M104 281h1M106 278h1M111 288h1M121 269h1M108 289h1M99 293h1M118 275h1M99 286h1M113 277h1M109 286h1M102 281h1M111 276h1M102 285h1M109 279h1M112 278h1M113 275h1M101 281h1M108 290h1M118 262h1M107 288h1M110 278h1M105 278h1M112 285h1M116 272h1M110 284h1M116 276h1M108 287h1M112 275h1M105 282h1M112 287h1M105 289h1M110 279h1M114 277h1M113 288h1M118 281h1M117 277h1M107 279h1M104 283h1M113 272h1M105 281h1M103 281h1M113 285h1M108 282h1M109 275h1M112 283h1M105 284h1M111 280h1M110 283h1M108 278h1M119 278h1M110 289h1M115 281h1M114 269h1M110 275h1M110 282h1M117 284h1M116 271h1M104 282h1M115 276h1M113 279h1M107 281h1M109 287h1M116 284h1M106 285h1M110 290h1M116 273h1M107 273h1M104 280h1M111 281h1M110 288h1M111 286h1M111 279h1M102 291h1M114 274h1M111 277h1M102 278h1M110 286h1M102 289h1M113 276h1M107 286h1M110 276h1M108 283h1M104 277h1M105 280h1M121 277h1M120 274h1M111 284h1M105 285h1M118 283h1M117 287h1M117 263h1M107 280h1M113 284h1M115 277h1M111 282h1M113 282h1M108 291h1M118 272h1M109 292h1M100 277h1M116 282h1M99 290h1M104 286h1M106 275h1M102 292h1M107 290h1M111 283h1M118 280h1M111 287h1M108 285h1M114 275h1M114 283h1M115 278h1M112 291h1M106 291h1M106 289h1M106 288h1M117 282h1M112 264h1M127 261h1M122 274h1M110 285h1M113 281h1M102 288h1M106 286h1M109 282h1M107 278h1M119 287h1M102 294h1M101 278h1M112 272h1M104 287h1M109 284h1M107 285h1M112 290h1M115 283h1M108 298h1M106 280h1M118 286h1M109 276h1M113 287h1M104 289h1M116 288h1M113 286h1M116 277h1M112 281h1M107 283h1M120 281h1M111 271h1M116 275h1M118 282h1M106 282h1M114 281h1M101 287h1M110 281h1M115 279h1M113 280h1M113 270h1M112 274h1M112 276h1M117 273h1M104 285h1M106 281h1M109 278h1M112 286h1M105 288h1M110 277h1M109 285h1M104 288h1M125 271h1M115 280h1M113 273h1M107 277h1M118 267h1M100 285h1M112 284h1M122 282h1M115 286h1M106 284h1M112 280h1M120 279h1M113 274h1M103 290h1M113 283h1M114 272h1M98 289h1M99 287h1M112 279h1M106 287h1M109 288h1M119 270h1M108 268h1M118 278h1M115 275h1M126 273h1M102 286h1M105 287h1M114 280h1M111 274h1M109 291h1M108 275h1M98 283h1M121 276h1M116 280h1M110 280h1M106 292h1M108 277h1M109 274h1M118 279h1M114 270h1M118 277h1M106 274h1M107 294h1M126 287h1M119 289h1M119 282h1M117 288h1M120 282h1M120 286h1M117 290h1M122 284h1M124 283h1M119 284h1M115 288h1M126 284h1M112 292h1M124 289h1M119 295h1M124 287h1M111 294h1M113 294h1M124 286h1M113 293h1M126 292h1M115 289h1M121 281h1M124 284h1M120 290h1M121 286h1M118 289h1M117 289h1M121 295h1M120 287h1M123 287h1M120 278h1M113 292h1M126 290h1M119 292h1M120 298h1M119 290h1M113 290h1M132 289h1M127 288h1M120 285h1M128 287h1M109 294h1M118 295h1M120 284h1M118 287h1M114 289h1M117 279h1M106 297h1M114 290h1M127 290h1M123 289h1M122 287h1M121 292h1M117 286h1M121 284h1M108 292h1M116 285h1M121 290h1M122 286h1M127 294h1M119 281h1M123 285h1M111 289h1M123 291h1M114 293h1M123 282h1M121 287h1M124 290h1M121 285h1M120 283h1M123 293h1M128 290h1M119 286h1M123 286h1M129 293h1M121 291h1M130 286h1M103 324h1M152 297h1M144 318h1M152 319h1M98 281h1M68 316h1M100 289h1M139 312h1M77 319h1M132 276h1M102 297h1" stroke="#000" stroke-width="1" stroke-opacity="0.4" transform="translate(0 .5)" filter="url(#soft)"/>
<path d="M108 311h1M102 300h1M109 321h1M110 300h1M107 315h1M71 306h1M82 311h1M111 307h1M107 310h1M88 301h1M129 301h1M107 316h1M96 307h1M110 309h1M123 298h1M104 315h1M106 315h1M136 302h1M110 298h1M120 291h1M98 308h1M101 305h1M99 306h1M115 307h1M104 298h1M107 305h1M131 314h1M101 318h1M107 314h1M82 312h1M101 300h1M91 303h1M104 307h1M122 313h1M113 301h1M127 310h1M109 303h1M105 291h1M85 312h1M91 316h1M110 295h1M104 300h1M129 304h1M106 301h1M133 307h1M127 309h1M94 306h1M96 309h1M100 306h1M136 295h1M103 303h1M107 309h1M92 313h1M97 307h1M85 298h1M113 308h1M99 304h1M120 306h1M104 309h1M131 315h1M115 303h1M80 317h1M127 307h1M118 316h1M124 317h1M98 322h1M145 322h1M124 299h1M113 309h1M103 309h1M90 295h1M75 313h1M106 312h1M88 303h1M111 301h1M115 312h1M125 308h1M107 295h1M98 315h1M106 309h1M102 319h1M134 309h1M130 310h1M108 308h1M108 316h1M119 310h1M87 313h1M94 318h1M142 322h1M115 285h1M109 299h1M102 307h1M131 312h1M107 322h1M71 323h1M127 317h1M121 309h1M112 306h1M138 314h1M95 323h1M106 316h1M76 306h1M90 316h1M92 314h1M138 306h1M95 310h1M107 300h1M87 311h1M129 322h1M96 296h1M108 322h1M127 300h1M90 304h1M113 307h1M112 311h1M102 308h1M112 308h1M119 309h1M74 312h1M125 315h1M105 293h1M112 301h1M84 308h1M118 307h1M100 305h1M123 307h1M112 318h1M111 312h1M100 318h1M112 298h1M89 316h1M117 291h1M134 314h1M102 298h1M111 293h1M100 317h1M114 299h1M97 304h1M77 309h1M125 304h1M137 301h1M115 306h1M104 314h1M107 299h1M105 309h1M121 299h1M119 302h1M116 300h1M111 309h1M76 299h1M81 315h1M80 305h1M128 299h1M88 321h1M124 305h1M100 308h1M106 308h1M85 308h1M107 320h1M92 308h1M95 302h1M120 308h1M93 300h1M103 304h1M80 309h1M109 310h1M102 304h1M109 298h1M112 310h1M105 305h1M119 294h1M117 311h1M113 312h1M120 312h1M112 295h1M118 319h1M128 311h1M76 317h1M105 286h1M115 295h1M113 324h1M139 308h1M94 312h1M115 309h1M127 302h1M119 318h1M115 299h1M75 314h1M106 311h1M96 301h1M125 312h1M95 308h1M105 313h1M121 324h1M130 311h1M114 316h1M97 308h1M111 321h1M88 307h1M104 316h1M128 313h1M117 304h1M128 306h1M90 310h1M93 315h1M109 305h1M126 303h1M99 319h1M138 307h1M88 310h1M117 301h1M121 302h1M105 310h1M120 305h1M93 305h1M103 315h1M103 305h1M132 313h1M119 315h1M104 312h1M121 305h1M113 319h1M83 304h1M109 290h1M114 295h1M101 308h1M97 303h1M74 308h1M94 321h1M102 309h1M99 308h1M86 305h1M103 313h1M103 317h1M113 310h1M137 291h1M94 304h1M121 314h1M123 306h1M94 313h1M95 312h1M114 323h1M104 295h1M92 300h1M83 312h1M120 309h1M132 312h1M102 310h1M73 306h1M106 302h1M88 300h1M110 307h1M123 314h1M120 303h1M131 304h1M123 304h1M132 304h1M108 309h1M134 311h1M123 311h1M89 308h1M117 315h1M88 306h1M111 299h1M131 313h1M98 310h1M95 319h1M97 316h1M113 311h1M82 313h1M116 304h1M116 310h1M116 312h1M102 321h1M83 318h1M87 324h1M116 320h1M109 312h1M106 321h1M108 314h1M103 320h1M93 323h1M76 323h1M78 302h1M113 314h1M113 315h1M93 320h1M114 312h1M90 314h1M96 308h1M103 308h1M88 318h1M96 315h1M106 304h1M100 312h1M89 322h1M88 309h1M79 312h1M82 322h1M110 312h1M116 306h1M81 307h1M121 296h1M99 313h1M78 310h1M136 303h1M109 317h1M91 311h1M108 312h1M91 323h1M101 319h1M101 315h1M108 306h1M81 311h1M82 316h1M82 324h1M94 323h1M101 320h1M83 307h1M86 308h1M76 312h1M88 317h1M85 317h1M106 322h1M116 324h1M112 314h1M91 308h1M102 313h1M94 303h1M79 303h1M99 303h1M106 324h1M106 317h1M111 324h1M101 295h1M116 311h1M82 321h1M94 314h1M84 311h1M104 320h1M120 318h1M73 303h1M123 308h1M93 313h1M96 316h1M85 315h1M123 301h1M93 321h1M81 317h1M95 313h1M117 319h1M72 313h1M100 322h1M102 318h1M81 305h1M71 305h1M98 318h1M131 303h1M91 312h1M74 304h1M101 317h1M70 307h1M83 320h1M105 301h1M89 318h1M84 298h1M89 321h1M123 297h1M112 325h1M112 316h1M127 308h1M94 325h1M80 312h1M111 305h1M89 304h1M87 304h1M96 319h1M78 321h1M125 322h1M76 316h1M68 310h1M116 316h1M78 319h1M93 307h1M88 311h1M86 321h1M78 317h1M79 308h1M87 321h1M90 321h1M118 310h1M92 316h1M131 324h1M93 319h1M102 301h1M101 314h1M97 311h1M75 311h1M112 315h1M95 314h1M106 314h1M109 311h1M96 314h1M89 311h1M94 316h1M85 324h1M99 324h1M97 318h1M81 316h1M125 318h1M83 314h1M84 314h1M121 317h1M90 318h1M72 308h1M100 316h1M116 307h1M96 298h1M76 315h1M105 320h1M101 323h1M120 316h1M107 313h1M109 308h1M109 324h1M70 304h1M83 321h1M73 318h1M119 311h1M115 321h1M111 319h1M86 323h1M129 318h1M115 325h1M105 314h1M77 316h1M123 313h1M100 324h1M110 321h1M104 318h1M99 317h1M126 314h1M133 317h1M105 317h1M105 319h1M100 314h1M132 308h1M127 312h1M93 322h1M117 306h1M97 314h1M87 319h1M76 321h1M101 313h1M111 310h1M126 320h1M107 319h1M85 314h1M86 304h1M80 320h1M125 317h1M117 310h1M101 310h1M133 316h1M76 309h1M101 311h1M121 315h1M128 307h1M121 310h1M129 312h1M116 323h1M107 292h1M78 309h1M115 305h1M118 313h1M82 319h1M82 309h1M74 311h1M69 313h1M96 310h1M80 322h1M77 323h1M90 313h1M100 310h1M112 323h1M69 314h1M112 309h1M128 305h1M122 307h1M91 307h1M86 311h1M109 309h1M115 313h1M91 319h1M124 313h1M114 319h1M89 303h1M106 320h1M108 305h1M98 313h1M96 313h1M90 317h1M105 315h1M90 309h1M97 309h1M119 313h1M81 313h1M114 314h1M99 316h1M110 316h1M81 314h1M111 315h1M95 315h1M97 315h1M104 323h1M96 306h1M96 312h1M84 321h1M85 301h1M105 306h1M99 307h1M95 304h1M121 313h1M101 322h1M109 323h1M88 323h1M72 312h1M97 321h1M102 316h1M110 305h1M75 317h1M133 320h1M121 319h1M106 319h1M104 313h1M108 321h1M75 310h1M88 320h1M116 313h1M74 318h1M129 310h1M124 319h1M123 312h1M98 307h1M77 310h1M128 310h1M121 308h1M131 316h1M114 306h1M115 311h1M81 322h1M80 315h1M77 311h1M114 317h1M120 317h1M90 312h1M99 315h1M121 323h1M80 307h1M91 317h1M109 306h1M115 318h1M110 311h1M105 323h1M119 317h1M84 309h1M93 303h1M97 313h1M112 324h1M100 320h1M74 310h1M111 316h1M111 304h1M93 311h1M136 315h1M127 305h1M92 306h1M81 319h1M116 318h1M103 311h1M112 321h1M119 321h1M108 313h1M110 313h1M96 322h1M89 313h1M102 315h1M124 320h1M79 323h1M68 325h1M106 318h1M123 320h1M117 309h1M116 317h1M115 323h1M93 312h1M122 304h1M118 314h1M69 306h1M126 301h1M93 314h1M94 307h1M104 301h1M134 306h1M102 317h1M98 312h1M88 315h1M130 296h1M101 321h1M88 297h1M115 315h1M126 312h1M86 313h1M86 318h1M110 319h1M111 318h1M87 320h1M92 312h1M108 303h1M79 306h1M103 316h1M74 315h1M110 310h1M115 304h1M132 315h1M121 312h1M126 321h1M103 318h1M115 308h1M75 320h1M108 323h1M126 324h1M118 317h1M122 316h1M126 322h1M118 318h1M124 307h1M114 298h1M137 305h1M86 307h1M69 315h1M127 322h1M113 303h1M122 321h1M116 308h1M105 308h1M92 315h1M84 315h1M128 318h1M126 307h1M131 308h1M130 307h1M128 312h1M125 306h1M127 306h1M115 324h1M126 310h1M127 313h1M114 303h1M126 294h1M116 297h1M130 313h1M117 323h1M128 304h1M123 300h1M125 294h1M117 313h1M132 318h1M122 302h1M133 309h1M120 302h1M130 297h1M130 309h1M118 297h1M125 311h1M131 294h1M118 304h1M126 313h1M120 310h1M124 315h1M128 317h1M116 319h1M118 308h1M135 316h1M118 305h1M125 300h1M124 314h1M114 296h1M117 308h1M118 306h1M129 319h1M128 300h1M130 302h1M119 301h1M130 317h1M108 304h1M126 300h1M111 298h1M119 308h1M116 299h1M113 318h1M105 294h1M132 309h1M117 298h1M127 301h1M128 301h1M122 292h1M131 301h1M133 318h1M123 299h1M124 304h1M121 321h1M134 318h1M126 315h1M129 316h1M123 305h1M134 312h1M129 306h1M120 324h1M134 317h1M131 318h1M125 320h1M120 307h1M124 303h1M121 311h1M105 290h1M129 303h1M126 297h1M124 301h1M119 303h1M120 319h1M119 299h1M126 309h1M124 293h1M104 303h1M115 314h1M112 307h1M124 310h1M116 315h1M122 297h1M127 293h1M126 319h1M121 303h1M120 295h1M120 311h1M125 313h1M133 322h1M135 310h1M135 299h1M101 292h1M122 296h1M131 297h1M131 309h1M110 296h1M119 304h1M131 298h1M103 302h1M128 298h1M119 293h1M116 298h1M113 289h1M115 300h1M118 291h1M124 296h1M127 303h1M122 300h1M119 298h1M120 292h1M114 291h1M112 300h1M113 296h1M130 294h1M122 299h1M114 284h1M120 289h1M124 294h1M115 297h1M128 309h1M115 296h1M116 291h1M118 288h1M101 286h1M133 306h1M115 290h1M117 297h1M133 303h1M118 290h1M119 285h1M116 290h1M113 297h1M110 287h1M133 301h1M117 302h1M116 286h1M117 296h1M104 293h1M119 288h1M125 292h1M120 300h1M121 289h1M118 300h1M117 292h1M114 292h1M122 289h1M115 302h1M114 301h1M116 295h1M129 292h1M120 296h1M123 290h1M122 288h1M116 293h1M120 301h1M116 287h1M116 292h1M110 292h1M119 307h1M121 298h1M127 298h1M108 280h1M109 289h1M120 293h1M124 292h1M112 294h1M112 288h1M106 290h1M117 294h1M113 291h1M114 288h1M121 288h1M111 278h1M109 277h1M115 282h1M113 278h1M109 296h1M112 289h1M106 279h1M116 279h1M108 279h1M117 278h1M105 283h1M109 281h1M108 281h1M117 280h1M104 281h1M106 278h1M108 289h1M113 277h1M109 286h1M102 281h1M111 276h1M109 279h1M112 278h1M108 290h1M107 288h1M110 278h1M112 285h1M110 284h1M116 276h1M108 287h1M112 275h1M105 282h1M105 289h1M110 279h1M113 288h1M117 277h1M107 279h1M104 283h1M113 285h1M112 283h1M105 284h1M108 278h1M119 278h1M110 275h1M110 282h1M115 276h1M113 279h1M109 287h1M116 284h1M106 285h1M110 290h1M116 273h1M111 281h1M110 288h1M111 286h1M111 279h1M102 291h1M111 277h1M110 286h1M113 276h1M110 276h1M108 283h1M111 284h1M105 285h1M118 283h1M117 287h1M107 280h1M113 284h1M115 277h1M113 282h1M108 291h1M118 272h1M116 282h1M104 286h1M102 292h1M107 290h1M111 283h1M111 287h1M108 285h1M106 288h1M110 285h1M113 281h1M102 288h1M109 282h1M119 287h1M102 294h1M104 287h1M109 284h1M107 285h1M118 286h1M109 276h1M113 287h1M104 289h1M113 286h1M112 281h1M118 282h1M112 276h1M106 281h1M112 286h1M110 277h1M109 285h1M104 288h1M112 284h1M115 286h1M112 280h1M113 283h1M105 287h1M109 291h1M109 274h1M119 289h1M119 282h1M117 288h1M117 290h1M119 284h1M126 284h1M112 292h1M111 294h1M124 286h1M113 293h1M115 289h1M124 284h1M120 290h1M121 286h1M118 289h1M117 289h1M121 295h1M120 287h1M123 287h1M113 292h1M119 292h1M119 290h1M113 290h1M118 295h1M118 287h1M114 289h1M114 290h1M127 290h1M123 289h1M121 284h1M121 290h1M122 286h1M124 290h1M119 286h1" stroke="#000" stroke-width="1" stroke-opacity="0.4" transform="translate(0 .5)" filter="url(#soft)"/>
<path d="M107 315h1M82 311h1M111 307h1M107 310h1M129 301h1M107 316h1M96 307h1M106 315h1M110 298h1M120 291h1M99 306h1M101 318h1M107 314h1M82 312h1M104 307h1M122 313h1M113 301h1M85 312h1M91 316h1M110 295h1M104 300h1M106 301h1M127 309h1M94 306h1M96 309h1M100 306h1M107 309h1M92 313h1M97 307h1M113 308h1M99 304h1M115 303h1M127 307h1M118 316h1M98 322h1M145 322h1M113 309h1M103 309h1M98 315h1M106 309h1M130 310h1M108 316h1M87 313h1M94 318h1M115 285h1M102 307h1M107 322h1M71 323h1M127 317h1M121 309h1M112 306h1M95 323h1M106 316h1M76 306h1M90 316h1M92 314h1M95 310h1M87 311h1M127 300h1M90 304h1M113 307h1M112 311h1M102 308h1M112 308h1M119 309h1M74 312h1M125 315h1M112 301h1M84 308h1M118 307h1M123 307h1M112 318h1M111 312h1M100 318h1M89 316h1M100 317h1M97 304h1M125 304h1M137 301h1M115 306h1M105 309h1M121 299h1M119 302h1M116 300h1M111 309h1M80 305h1M128 299h1M88 321h1M100 308h1M107 320h1M92 308h1M120 308h1M102 304h1M112 310h1M117 311h1M113 312h1M120 312h1M112 295h1M118 319h1M128 311h1M113 324h1M139 308h1M119 318h1M75 314h1M125 312h1M95 308h1M114 316h1M97 308h1M111 321h1M88 307h1M128 313h1M128 306h1M93 315h1M126 303h1M99 319h1M138 307h1M88 310h1M121 302h1M120 305h1M93 305h1M103 315h1M132 313h1M104 312h1M121 305h1M113 319h1M109 290h1M114 295h1M101 308h1M86 305h1M113 310h1M121 314h1M123 306h1M95 312h1M104 295h1M120 309h1M132 312h1M73 306h1M123 314h1M120 303h1M132 304h1M108 309h1M89 308h1M117 315h1M98 310h1M95 319h1M116 304h1M116 310h1M116 312h1M102 321h1M83 318h1M87 324h1M108 314h1M103 320h1M93 323h1M113 315h1M93 320h1M96 308h1M88 318h1M96 315h1M88 309h1M79 312h1M82 322h1M110 312h1M121 296h1M99 313h1M136 303h1M91 311h1M108 312h1M91 323h1M82 316h1M94 323h1M86 308h1M116 324h1M112 314h1M102 313h1M106 317h1M111 324h1M82 321h1M104 320h1M73 303h1M123 308h1M93 321h1M81 317h1M95 313h1M98 318h1M91 312h1M74 304h1M101 317h1M89 318h1M127 308h1M111 305h1M89 304h1M96 319h1M125 322h1M76 316h1M86 321h1M78 317h1M90 321h1M101 314h1M97 311h1M112 315h1M95 314h1M106 314h1M96 314h1M94 316h1M99 324h1M97 318h1M81 316h1M84 314h1M90 318h1M116 307h1M76 315h1M101 323h1M120 316h1M70 304h1M73 318h1M111 319h1M129 318h1M123 313h1M104 318h1M99 317h1M133 317h1M105 319h1M87 319h1M111 310h1M85 314h1M125 317h1M133 316h1M121 315h1M128 307h1M121 310h1M82 319h1M82 309h1M74 311h1M100 310h1M112 323h1M69 314h1M112 309h1M91 307h1M109 309h1M115 313h1M114 319h1M108 305h1M105 315h1M90 309h1M114 314h1M95 315h1M97 315h1M96 306h1M105 306h1M99 307h1M121 313h1M101 322h1M110 305h1M106 319h1M104 313h1M88 320h1M124 319h1M121 308h1M81 322h1M80 307h1M91 317h1M109 306h1M119 317h1M112 324h1M74 310h1M127 305h1M116 318h1M110 313h1M96 322h1M79 323h1M123 320h1M117 309h1M116 317h1M118 314h1M126 301h1M86 318h1M115 304h1M132 315h1M126 321h1M115 308h1M126 324h1M118 317h1M124 307h1M114 298h1M137 305h1M127 322h1M113 303h1M116 308h1M128 318h1M131 308h1M128 312h1M127 306h1M126 310h1M127 313h1M123 300h1M125 294h1M122 302h1M120 302h1M130 297h1M130 309h1M118 297h1M125 311h1M118 304h1M120 310h1M124 315h1M118 308h1M118 305h1M130 302h1M119 301h1M111 298h1M119 308h1M105 294h1M127 301h1M122 292h1M126 315h1M123 305h1M131 318h1M120 307h1M124 303h1M121 311h1M105 290h1M129 303h1M126 297h1M124 301h1M119 299h1M126 309h1M115 314h1M122 296h1M119 304h1M103 302h1M119 293h1M113 289h1M118 291h1M119 298h1M120 292h1M113 296h1M122 299h1M114 284h1M124 294h1M115 297h1M115 296h1M115 290h1M118 290h1M119 285h1M116 290h1M110 287h1M116 286h1M117 296h1M104 293h1M119 288h1M121 289h1M114 292h1M123 290h1M122 288h1M116 293h1M116 287h1M116 292h1M108 280h1M120 293h1M124 292h1M112 288h1M106 290h1M117 294h1M113 291h1M114 288h1M121 288h1M111 278h1M115 282h1M113 278h1M109 296h1M112 289h1M106 279h1M117 278h1M109 281h1M108 281h1M117 280h1M109 286h1M112 278h1M110 278h1M112 285h1M110 284h1M116 276h1M108 287h1M105 282h1M110 279h1M113 285h1M105 284h1M108 278h1M110 282h1M115 276h1M113 279h1M116 284h1M106 285h1M110 290h1M116 273h1M111 281h1M110 288h1M111 286h1M111 277h1M110 286h1M108 283h1M111 284h1M105 285h1M113 284h1M113 282h1M108 291h1M107 290h1M108 285h1M110 285h1M109 282h1M104 287h1M109 284h1M107 285h1M118 286h1M113 287h1M109 285h1M112 284h1M115 286h1M113 283h1M105 287h1M117 288h1M117 290h1M112 292h1M124 284h1M120 290h1M121 286h1M118 289h1M117 289h1M120 287h1M123 287h1M119 292h1M118 287h1M121 290h1" stroke="#000" stroke-width="1" stroke-opacity="0.4" transform="translate(0 .5)" filter="url(#soft)"/>
</g>
<g clip-path="url(#c175_237)">
<ellipse cx="221" cy="306" rx="22.1" ry="16.9" transform="rotate(0 221 306)" fill="#000" fill-opacity="0.2" filter="url(#b5_9)"/>
<ellipse cx="225.5" cy="285" rx="13.3" ry="10.5" transform="rotate(-60 225.5 285)" fill="#000" fill-opacity="1.0" filter="url(#b3_4)"/>
<ellipse cx="220" cy="312" rx="18.0" ry="13.2" transform="rotate(0 220 312)" fill="#000" fill-opacity="0.65" filter="url(#b5_0)"/>
<ellipse cx="227" cy="317" rx="12.0" ry="10.8" transform="rotate(0 227 317)" fill="#000" fill-opacity="0.9" filter="url(#b4_0)"/>
<ellipse cx="222" cy="299" rx="9.6" ry="7.2" transform="rotate(0 222 299)" fill="#000" fill-opacity="0.55" filter="url(#b2_7)"/>
<path d="M202 297h1M230 286h1M235 317h1M215 292h1M213 283h1M243 306h1M209 294h1M230 324h1M200 298h1M192 314h1M219 300h1M209 316h1M194 315h1M224 299h1M206 318h1M250 300h1M211 302h1M201 304h1M209 286h1M199 293h1M231 299h1M207 314h1M230 296h1M210 314h1M226 295h1M224 305h1M239 295h1M235 311h1M204 319h1M235 289h1M253 291h1M206 302h1M233 313h1M219 322h1M227 323h1M179 300h1M203 307h1M222 290h1M202 302h1M217 273h1M236 306h1M220 309h1M204 305h1M238 319h1M228 302h1M207 322h1M229 300h1M185 295h1M189 321h1M224 296h1M241 288h1M218 290h1M192 308h1M221 301h1M224 319h1M196 282h1M252 309h1M247 309h1M245 298h1M238 300h1M235 297h1M197 312h1M244 316h1M199 317h1M232 300h1M179 319h1M235 312h1M191 286h1M238 316h1M229 302h1M227 299h1M215 294h1M225 300h1M237 315h1M202 311h1M239 322h1M183 318h1M241 324h1M183 297h1M243 297h1M241 313h1M196 293h1M213 307h1M237 303h1M236 285h1M228 301h1M203 311h1M253 304h1M208 295h1M254 305h1M231 321h1M239 294h1M237 316h1M229 319h1M211 305h1M212 315h1M209 311h1M202 304h1M214 304h1M223 303h1M217 279h1M239 297h1M216 295h1M237 294h1M229 321h1M248 321h1M231 290h1M242 321h1M235 316h1M222 299h1M203 317h1M225 317h1M225 320h1M238 317h1M197 316h1M222 291h1M233 288h1M212 318h1M228 314h1M198 314h1M223 315h1M221 320h1M226 315h1M244 308h1M238 309h1M230 299h1M234 322h1M220 316h1M228 292h1M224 298h1M253 305h1M221 298h1M225 299h1M206 305h1M208 323h1M202 305h1M210 288h1M249 279h1M245 288h1M186 288h1M243 308h1M212 306h1M205 308h1M246 301h1M223 321h1M254 298h1M226 299h1M210 301h1M211 284h1M188 297h1M212 304h1M232 315h1M219 305h1M252 302h1M213 285h1M228 303h1M253 302h1M235 318h1M249 289h1M247 306h1M219 302h1M215 302h1M182 312h1M222 294h1M227 301h1M250 296h1M219 299h1M217 315h1M231 297h1M219 307h1M214 305h1M209 297h1M222 293h1M206 298h1M213 304h1M207 324h1M236 307h1M237 310h1M217 307h1M238 301h1M228 319h1M242 314h1M229 298h1M223 323h1M213 306h1M208 306h1M215 313h1M219 298h1M216 304h1M213 318h1M232 308h1M201 312h1M200 308h1M222 298h1M207 297h1M255 303h1M218 318h1M201 292h1M216 308h1M237 291h1M226 305h1M212 295h1M181 318h1M197 301h1M248 301h1M231 303h1M232 306h1M213 323h1M217 289h1M216 313h1M203 316h1M194 301h1M223 311h1M220 305h1M211 300h1M226 313h1M231 318h1M240 283h1M210 319h1M233 304h1M223 322h1M236 312h1M244 310h1M233 299h1M206 306h1M178 311h1M237 307h1M217 319h1M220 318h1M257 315h1M225 309h1M222 319h1M195 303h1M232 295h1M219 297h1M228 317h1M245 312h1M209 309h1M230 323h1M186 310h1M191 315h1M228 312h1M210 310h1M240 304h1M221 291h1M240 300h1M209 300h1M207 303h1M242 316h1M244 324h1M206 312h1M198 288h1M205 311h1M208 278h1M221 307h1M231 317h1M224 303h1M210 285h1M214 318h1M218 284h1M234 319h1M202 286h1M203 302h1M208 291h1M199 307h1M215 297h1M205 304h1M202 310h1M196 307h1M218 317h1M203 298h1M197 309h1M231 307h1M211 303h1M208 302h1M233 310h1M182 311h1M220 304h1M199 312h1M239 318h1M219 314h1M241 307h1M222 308h1M233 297h1M208 310h1M187 315h1M228 308h1M250 298h1M222 295h1M203 322h1M235 295h1M240 308h1M212 302h1M206 307h1M221 315h1M222 287h1M207 323h1M239 304h1M218 303h1M221 285h1M223 274h1M224 322h1M184 324h1M228 296h1M195 320h1M225 313h1M216 296h1M235 294h1M235 285h1M205 287h1M242 284h1M202 314h1M250 313h1M232 283h1M206 301h1M218 288h1M205 295h1M238 311h1M225 297h1M216 284h1M226 311h1M224 289h1M203 314h1M238 315h1M234 308h1M196 297h1M191 301h1M198 307h1M218 281h1M232 302h1M238 308h1M218 312h1M233 309h1M213 296h1M214 298h1M224 307h1M223 325h1M240 298h1M180 308h1M240 294h1M225 295h1M181 308h1M218 274h1M231 305h1M224 310h1M213 292h1M213 300h1M212 300h1M225 312h1M209 293h1M252 318h1M195 283h1M206 308h1M229 301h1M193 308h1M230 305h1M212 312h1M219 291h1M222 289h1M236 311h1M204 308h1M241 278h1M194 303h1M196 304h1M180 285h1M211 307h1M226 310h1M239 314h1M232 293h1M258 316h1M232 318h1M256 279h1M226 283h1M209 304h1M214 307h1M207 304h1M200 300h1M197 313h1M213 301h1M240 306h1M188 312h1M213 287h1M254 299h1M253 323h1M210 295h1M242 303h1M223 302h1M204 285h1M247 304h1M222 312h1M243 309h1M209 279h1M234 304h1M222 321h1M221 288h1M187 305h1M200 309h1M198 301h1M195 300h1M212 313h1M243 303h1M237 314h1M233 294h1M210 304h1M222 305h1M225 306h1M213 284h1M234 313h1M205 312h1M227 306h1M189 290h1M205 301h1M201 299h1M226 278h1M221 297h1M237 318h1M184 303h1M239 296h1M215 318h1M216 290h1M208 288h1M229 283h1M237 284h1M221 286h1M224 313h1M213 319h1M226 320h1M208 300h1M217 316h1M218 322h1M238 272h1M216 324h1M179 315h1M204 299h1M224 281h1M223 297h1M229 304h1M208 308h1M246 308h1M235 302h1M230 312h1M225 291h1M201 302h1M202 312h1M237 298h1M208 296h1M262 311h1M219 318h1M259 320h1M199 300h1M201 309h1M221 287h1M191 299h1M231 311h1M219 262h1M211 295h1M214 289h1M212 296h1M217 304h1M218 307h1M213 305h1M225 322h1M224 292h1M190 296h1M219 310h1M238 297h1M206 315h1M240 299h1M226 323h1M225 304h1M184 322h1M212 289h1M218 304h1M239 289h1M244 305h1M240 292h1M226 321h1M222 286h1M214 312h1M196 286h1M224 293h1M189 295h1M245 294h1M220 308h1M191 282h1M216 314h1M245 302h1M215 311h1M246 294h1M231 302h1M214 316h1M206 291h1M215 303h1M228 300h1M245 322h1M234 302h1M222 297h1M213 293h1M215 293h1M235 277h1M225 284h1M220 277h1M224 282h1M216 285h1M215 287h1M229 282h1M225 281h1M236 296h1M224 304h1M227 282h1M210 289h1M213 279h1M236 282h1M227 283h1M228 285h1M234 282h1M233 270h1M218 271h1M216 281h1M246 282h1M219 275h1M224 286h1M233 287h1M212 267h1M228 272h1M231 295h1M215 282h1M219 296h1M239 283h1M221 284h1M229 270h1M233 273h1M223 280h1M221 290h1M224 291h1M223 283h1M222 285h1M220 288h1M227 278h1M216 275h1M203 284h1M232 274h1M230 275h1M214 280h1M225 290h1M221 279h1M223 285h1M227 288h1M226 296h1M217 299h1M221 278h1M221 300h1M227 293h1M228 278h1M231 288h1M220 278h1M229 285h1M227 284h1M211 287h1M226 273h1M216 277h1M220 280h1M232 257h1M216 267h1M232 286h1M220 286h1M218 286h1M228 277h1M229 273h1M235 292h1M227 290h1M233 285h1M220 297h1M213 276h1M217 296h1M229 271h1M226 279h1M215 288h1M231 293h1M224 275h1M229 276h1M210 286h1M219 267h1M217 275h1M223 284h1M209 280h1M224 285h1M220 292h1M225 274h1M219 278h1M231 284h1M242 268h1M236 286h1M227 297h1M218 287h1M231 277h1M222 268h1M211 280h1M230 278h1M212 288h1M230 297h1M222 284h1M227 281h1M231 285h1M232 285h1M220 294h1M224 288h1M221 283h1M229 291h1M214 284h1M234 283h1M224 287h1M220 291h1M235 279h1M234 285h1M237 270h1M222 273h1M236 278h1M236 276h1M237 286h1M226 292h1M225 273h1M229 286h1M223 276h1M234 286h1M225 264h1M215 290h1M230 285h1M231 287h1M219 279h1M239 277h1M228 281h1M218 260h1M222 300h1M218 283h1M235 274h1M240 284h1M218 301h1M212 281h1M233 295h1M233 283h1M230 281h1M222 272h1M229 290h1M219 289h1M241 280h1M217 286h1M228 280h1M248 266h1M246 265h1M222 282h1M228 283h1M222 283h1M219 272h1M229 278h1M212 273h1M222 264h1M226 294h1M212 301h1M226 287h1M223 278h1M234 298h1M229 296h1M226 291h1M226 281h1M222 279h1M217 294h1M219 282h1M234 275h1M225 275h1M230 291h1M223 282h1M219 280h1M209 282h1M209 313h1M232 278h1M222 276h1M236 289h1M229 281h1M214 299h1M221 294h1M239 264h1M225 294h1M236 279h1M228 309h1M232 281h1M230 300h1M213 280h1M242 279h1M235 276h1M227 295h1M239 272h1M228 268h1M208 290h1M223 290h1M226 280h1M224 280h1M226 276h1M233 271h1M225 288h1M215 300h1M209 295h1M234 278h1M214 278h1M227 265h1M226 274h1M224 272h1M226 277h1M230 282h1M238 274h1M211 304h1M220 274h1M235 293h1M231 268h1M219 281h1M232 273h1M217 287h1M220 296h1M217 264h1M220 299h1M240 286h1M227 273h1M220 290h1M225 286h1M227 292h1M230 283h1M236 283h1M231 279h1M240 296h1M217 300h1M238 278h1M223 269h1M236 293h1M222 281h1M218 277h1M218 282h1M225 261h1M229 267h1M228 276h1M235 299h1M234 273h1M226 288h1M234 288h1M222 292h1M234 269h1M238 285h1M219 283h1M234 277h1M235 291h1M235 269h1M228 287h1M248 282h1M214 290h1M218 289h1M223 270h1M207 290h1M240 280h1M234 287h1M232 276h1M231 280h1M214 282h1M238 268h1M216 282h1M218 293h1M229 288h1M233 301h1M237 279h1M234 296h1M236 294h1M225 272h1M236 295h1M222 277h1M230 279h1M235 281h1M230 289h1M230 298h1M226 290h1M232 288h1M215 299h1M218 264h1M222 296h1M231 283h1M221 274h1M225 289h1M219 286h1M227 277h1M237 288h1M214 272h1M222 278h1M213 291h1M224 263h1M231 294h1M218 272h1M221 265h1M227 289h1M216 292h1M221 296h1M231 276h1M218 279h1M233 276h1M221 272h1M244 285h1M219 274h1M226 284h1M225 278h1M228 291h1M219 290h1M233 291h1M230 295h1M218 296h1M213 288h1M225 277h1M241 293h1M239 274h1M221 266h1M228 282h1M234 297h1M220 295h1M212 275h1M236 281h1M230 280h1M217 303h1M247 281h1M221 293h1M226 298h1M219 293h1M224 278h1M220 279h1M228 270h1M245 284h1M208 301h1M233 290h1M226 297h1M199 302h1M236 270h1M236 300h1M238 280h1M228 290h1M217 274h1M227 279h1M219 287h1M223 287h1M233 275h1M210 305h1M234 299h1M227 280h1M231 286h1M241 297h1M247 287h1M244 306h1M232 289h1M223 307h1M223 295h1M223 279h1M225 283h1M214 292h1M235 273h1M232 275h1M238 292h1M229 293h1M232 268h1M216 310h1M217 272h1M216 291h1M231 298h1M213 273h1M235 271h1M207 301h1M217 283h1M230 276h1M225 308h1M214 295h1M232 279h1M231 281h1M212 277h1M199 295h1M224 284h1M226 286h1M205 290h1M238 277h1M217 295h1M238 287h1M224 290h1M219 268h1M236 299h1M231 278h1M213 282h1M235 270h1M235 264h1M211 275h1M227 272h1M218 280h1M227 274h1M236 297h1M209 283h1M234 281h1M218 292h1M234 280h1M217 282h1M220 301h1M232 282h1M235 288h1M209 271h1M229 279h1M231 292h1M233 280h1M234 266h1M220 303h1M230 273h1M245 278h1M219 288h1M233 281h1M228 279h1M223 289h1M227 298h1M220 300h1M224 274h1M215 284h1M227 287h1M228 258h1M215 295h1M212 291h1M228 295h1M245 272h1M202 294h1M228 288h1M229 272h1M227 285h1M219 295h1M203 291h1M237 285h1M237 292h1M215 272h1M223 296h1M225 292h1M227 302h1M228 298h1M233 289h1M221 299h1M213 275h1M221 276h1M243 279h1M218 294h1M232 299h1M217 288h1M217 280h1M222 288h1M234 276h1M216 294h1M224 276h1M229 289h1M220 282h1M242 286h1M224 294h1M237 282h1M227 291h1M219 266h1M216 276h1M245 270h1M209 299h1M228 271h1M239 279h1M221 271h1M224 314h1M223 286h1M235 287h1M238 290h1M242 275h1M213 294h1M243 255h1M219 285h1M207 288h1M232 272h1M232 284h1M217 298h1M232 277h1M225 270h1M224 300h1M218 275h1M214 281h1M227 276h1M240 273h1M227 264h1M244 267h1M228 289h1M225 282h1M231 291h1M206 286h1M242 295h1M236 274h1M243 277h1M230 294h1M232 290h1M226 285h1M231 269h1M201 291h1M221 267h1M212 280h1M236 287h1M240 274h1M233 268h1M232 265h1M212 278h1M223 291h1M227 271h1M237 274h1M238 286h1M231 301h1M212 276h1M219 292h1M233 272h1M216 286h1M230 277h1M239 293h1M221 295h1M215 298h1M236 284h1M225 298h1M238 263h1M228 274h1M231 266h1M206 287h1M217 284h1M233 286h1M237 263h1M223 288h1M229 287h1M207 293h1M230 288h1M230 284h1M227 294h1M231 275h1M230 270h1M216 289h1M211 286h1M231 273h1M239 287h1M237 277h1M213 281h1M233 284h1M239 288h1M231 282h1M204 292h1M211 285h1M234 284h1M218 285h1M233 293h1M233 292h1M238 293h1M234 295h1M218 316h1M221 269h1M215 278h1M227 286h1M224 270h1M225 287h1M226 270h1M230 269h1M229 280h1M211 279h1M238 291h1M238 273h1M223 281h1M217 277h1M238 282h1M241 284h1M204 312h1M208 309h1M224 311h1M217 310h1M217 322h1M204 320h1M235 319h1M217 312h1M194 310h1M224 321h1M222 307h1M207 311h1M222 325h1M220 306h1M218 306h1M216 288h1M196 299h1M227 311h1M222 324h1M204 324h1M242 296h1M203 309h1M188 308h1M240 313h1M204 315h1M225 307h1M223 308h1M208 314h1M228 321h1M242 317h1M237 321h1M214 306h1M237 299h1M229 307h1M248 297h1M226 309h1M227 309h1M200 317h1M215 322h1M226 325h1M189 313h1M207 319h1M207 305h1M245 301h1M207 287h1M245 325h1M231 310h1M232 316h1M208 293h1M234 300h1M233 306h1M194 311h1M219 321h1M224 301h1M242 320h1M224 318h1M215 307h1M191 313h1M213 309h1M245 318h1M209 318h1M197 323h1M223 309h1M251 312h1M242 304h1M225 305h1M229 309h1M216 302h1M201 305h1M212 321h1M199 318h1M226 307h1M214 300h1M209 325h1M188 302h1M211 320h1M228 311h1M179 313h1M225 293h1M216 321h1M207 318h1M231 304h1M262 313h1M225 303h1M198 295h1M180 288h1M212 310h1M234 318h1M221 323h1M221 322h1M227 320h1M218 298h1M225 316h1M217 306h1M263 299h1M219 311h1M209 308h1M212 320h1M202 316h1M202 279h1M232 317h1M213 313h1M236 314h1M197 319h1M229 306h1M251 304h1M255 312h1M237 313h1M207 316h1M240 319h1M253 324h1M228 325h1M232 323h1M223 320h1M238 310h1M228 307h1M194 309h1M218 324h1M199 322h1M209 314h1M198 305h1M246 303h1M237 309h1M251 310h1M218 315h1M210 297h1M195 319h1M220 324h1M208 307h1M219 308h1M210 293h1M195 304h1M216 323h1M254 300h1M241 305h1M201 314h1M234 317h1M223 317h1M212 317h1M211 297h1M226 301h1M203 324h1M199 323h1M206 303h1M207 315h1M192 325h1M205 286h1M224 306h1M218 313h1M236 303h1M215 323h1M230 309h1M224 317h1M238 322h1M211 316h1M241 312h1M239 308h1M223 300h1M230 318h1M205 303h1M213 295h1M223 306h1M211 313h1M199 286h1M235 305h1M242 312h1M208 318h1M216 312h1M206 319h1M246 305h1M223 294h1M194 314h1M224 302h1M213 312h1M233 314h1M214 321h1M207 307h1M229 324h1M227 322h1M223 310h1M229 311h1M199 303h1M233 308h1M229 313h1M204 307h1M202 309h1M241 319h1M234 314h1M259 316h1M222 315h1M205 322h1M222 320h1M227 324h1M200 301h1M215 309h1M192 315h1M249 321h1M237 301h1M249 318h1M188 291h1M227 313h1M250 316h1M192 310h1M200 303h1M207 317h1M216 316h1M215 320h1M217 311h1M209 312h1M205 299h1M246 297h1M203 313h1M196 313h1M192 301h1M230 311h1M230 310h1M217 314h1M208 319h1M208 321h1M257 302h1M196 303h1M205 297h1M201 321h1M230 306h1M212 308h1M220 313h1M232 312h1M215 291h1M249 322h1M195 309h1M184 302h1M200 311h1M225 301h1M215 314h1M217 309h1M183 306h1M231 314h1M197 308h1M214 310h1M252 308h1M185 314h1M216 297h1M195 305h1M196 316h1M232 304h1M195 307h1M222 306h1M220 323h1M230 308h1M203 325h1M224 309h1M232 314h1M233 325h1M216 318h1M214 317h1M213 311h1M208 324h1M228 322h1M199 314h1M207 312h1M238 314h1M185 301h1M208 298h1M189 307h1M197 303h1M185 313h1M195 281h1M236 317h1M224 315h1M203 323h1M180 325h1M202 301h1M213 297h1M212 309h1M210 309h1M244 309h1M196 301h1M222 309h1M183 313h1M254 312h1M204 318h1M200 302h1M222 304h1M231 323h1M207 291h1M244 291h1M219 303h1M246 302h1M197 300h1M230 325h1M209 301h1M204 323h1M187 297h1M231 313h1M198 312h1M233 321h1M215 312h1M235 321h1M191 319h1M209 317h1M201 324h1M198 318h1M233 311h1M237 305h1M193 305h1M253 312h1M232 307h1M213 317h1M220 322h1M246 288h1M252 315h1M215 286h1M221 309h1M247 308h1M236 324h1M251 309h1M202 308h1M247 314h1M227 304h1M199 305h1M203 297h1M209 289h1M227 310h1M215 305h1M223 312h1M228 306h1M226 316h1M230 314h1M241 314h1M233 312h1M211 301h1M217 318h1M239 310h1M211 306h1M239 313h1M199 313h1M202 323h1M245 297h1M221 319h1M254 307h1M250 312h1M187 287h1M233 320h1M198 317h1M220 314h1M207 306h1M229 294h1M224 324h1M219 319h1M205 320h1M196 288h1M228 310h1M221 316h1M208 312h1M236 308h1M229 303h1M226 304h1M207 313h1M195 317h1M229 299h1M202 298h1M199 310h1M241 303h1M214 297h1M217 305h1M228 293h1M195 296h1M210 324h1M221 310h1M179 303h1M207 325h1M214 314h1M231 322h1M203 303h1M235 306h1M233 279h1M241 316h1M226 293h1M258 309h1M217 324h1M217 302h1M239 315h1M250 304h1M248 319h1M232 303h1M207 298h1M222 322h1M238 313h1M212 323h1M187 290h1M199 304h1M208 313h1M208 304h1M206 309h1M211 315h1M223 301h1M249 298h1M241 315h1M221 305h1M239 303h1M236 305h1M228 299h1M191 308h1M235 322h1M216 319h1M226 317h1M218 299h1M203 305h1M231 309h1M230 322h1M230 313h1M216 305h1M205 293h1M207 294h1M228 318h1M208 311h1M210 312h1M194 319h1M200 316h1M236 290h1M221 317h1M223 324h1M240 311h1M209 305h1M196 325h1M214 315h1M210 298h1M211 298h1M245 315h1M189 299h1M229 308h1M224 320h1M202 315h1M218 309h1M204 306h1M241 299h1M229 322h1M236 310h1M220 315h1M207 300h1M229 297h1M207 321h1M226 306h1M241 306h1M216 309h1M241 310h1M247 298h1M242 305h1M237 306h1M186 298h1M197 315h1M212 319h1M206 314h1M205 310h1M207 310h1M220 319h1M221 324h1M240 293h1M224 312h1M186 302h1M213 303h1M221 292h1M231 320h1M237 317h1M250 307h1M219 316h1M213 316h1M210 313h1M246 313h1M205 315h1M199 301h1M237 289h1M207 295h1M210 320h1M212 307h1M211 317h1M229 325h1M204 317h1M211 309h1M257 309h1M251 313h1M195 314h1M236 318h1M216 317h1M248 316h1M204 303h1M229 316h1M245 321h1M223 305h1M245 324h1M196 305h1M232 309h1M235 314h1M201 307h1M215 317h1M234 316h1M219 306h1M234 325h1M237 312h1M247 316h1M229 295h1M246 290h1M197 310h1M218 319h1M234 324h1M231 315h1M232 324h1M218 310h1M227 316h1M240 312h1M223 319h1M227 319h1M226 319h1M247 317h1M244 325h1M234 311h1M220 302h1M233 315h1M202 324h1M243 305h1M244 312h1M234 315h1M246 310h1M227 305h1M211 310h1M254 313h1M219 315h1M206 310h1M221 303h1M234 309h1M232 319h1M233 316h1M232 310h1M220 325h1M223 299h1M240 315h1M232 305h1M232 297h1M233 322h1M222 323h1M242 309h1M205 324h1M228 316h1M215 325h1M225 321h1M225 323h1M220 320h1M238 318h1M228 313h1M228 315h1M242 306h1M228 304h1M234 307h1M219 301h1M222 311h1M229 312h1M244 321h1M225 319h1M228 320h1M221 312h1M225 311h1M222 317h1M232 321h1M248 322h1M222 313h1M229 317h1M215 316h1M228 324h1M218 321h1M223 318h1M215 321h1M206 313h1M231 312h1M226 303h1M234 320h1M238 304h1M227 321h1M237 324h1M213 308h1M231 325h1M227 314h1M256 323h1M244 317h1M219 312h1M245 317h1M217 317h1M231 319h1M218 314h1M195 322h1M222 316h1M205 313h1M238 321h1M217 308h1M236 321h1M226 322h1M215 301h1M231 306h1M243 307h1M242 311h1M235 313h1M239 306h1M235 324h1M235 320h1M241 300h1M243 322h1M244 315h1M224 325h1M215 310h1M246 321h1M230 303h1M253 320h1M216 315h1M213 321h1M222 314h1M234 323h1M227 317h1M224 323h1M230 317h1M225 325h1M213 315h1M206 322h1M205 307h1M229 314h1M222 301h1M236 320h1M201 322h1M218 320h1M226 324h1M239 321h1M198 323h1M227 318h1M222 318h1M235 309h1M226 312h1M236 309h1M224 308h1M233 317h1M223 304h1M226 314h1M239 317h1M233 323h1M221 314h1M209 321h1M231 300h1M215 308h1M238 302h1M241 323h1M219 324h1M223 314h1M192 324h1M229 305h1M225 318h1M236 315h1M217 313h1M235 308h1M229 320h1M220 321h1M236 304h1M243 323h1M225 314h1M242 319h1M219 320h1M224 316h1M234 310h1M207 320h1M199 321h1M214 313h1M238 306h1M244 314h1M213 324h1M237 308h1M225 324h1M242 323h1M230 315h1M213 322h1M236 322h1M238 303h1M218 325h1M230 319h1M242 301h1M223 313h1M221 313h1M224 295h1M228 305h1M213 298h1M223 298h1M216 300h1M213 299h1M224 297h1M217 297h1M205 294h1M209 296h1M214 302h1M219 294h1M210 299h1M220 293h1M217 291h1M215 296h1M230 304h1M220 298h1M221 289h1M222 303h1M237 304h1M225 296h1M210 308h1M228 294h1M210 294h1M206 299h1M227 303h1M230 293h1M218 311h1M222 302h1M223 292h1M221 304h1M209 291h1M212 303h1M220 285h1M232 311h1M227 308h1M216 299h1M217 301h1M216 287h1M226 302h1M223 293h1M214 301h1M218 308h1M209 288h1M206 285h1M210 307h1M207 296h1M236 291h1M209 292h1M215 280h1M198 298h1M235 301h1M216 298h1M211 299h1M216 303h1M227 300h1M212 294h1M237 280h1M218 300h1M199 299h1M229 292h1M231 296h1M208 294h1M214 303h1M204 294h1M219 304h1M206 297h1M230 301h1M226 300h1M261 310h1M212 283h1M205 309h1M236 288h1M213 290h1M210 315h1M257 319h1M195 287h1M252 277h1M181 273h1M263 310h1M185 274h1" stroke="#000" stroke-width="1" stroke-opacity="0.4" transform="translate(0 .5)" filter="url(#soft)"/>
<path d="M230 286h1M235 317h1M215 292h1M213 283h1M230 324h1M219 300h1M224 299h1M211 302h1M209 286h1M231 299h1M207 314h1M230 296h1M210 314h1M226 295h1M224 305h1M239 295h1M235 311h1M204 319h1M235 289h1M206 302h1M219 322h1M227 323h1M203 307h1M222 290h1M236 306h1M220 309h1M204 305h1M238 319h1M228 302h1M229 300h1M224 296h1M221 301h1M224 319h1M247 309h1M235 297h1M244 316h1M229 302h1M227 299h1M225 300h1M239 322h1M241 324h1M213 307h1M236 285h1M228 301h1M203 311h1M231 321h1M237 316h1M229 319h1M212 315h1M214 304h1M223 303h1M216 295h1M237 294h1M231 290h1M242 321h1M235 316h1M222 299h1M225 317h1M225 320h1M222 291h1M233 288h1M212 318h1M228 314h1M198 314h1M223 315h1M221 320h1M226 315h1M238 309h1M230 299h1M220 316h1M228 292h1M224 298h1M253 305h1M221 298h1M225 299h1M206 305h1M210 288h1M212 306h1M223 321h1M226 299h1M210 301h1M212 304h1M232 315h1M219 305h1M228 303h1M235 318h1M219 302h1M215 302h1M222 294h1M227 301h1M219 299h1M219 307h1M214 305h1M222 293h1M206 298h1M213 304h1M207 324h1M236 307h1M237 310h1M217 307h1M238 301h1M228 319h1M229 298h1M223 323h1M213 306h1M208 306h1M215 313h1M219 298h1M216 304h1M213 318h1M232 308h1M222 298h1M218 318h1M226 305h1M212 295h1M231 303h1M217 289h1M216 313h1M194 301h1M223 311h1M220 305h1M211 300h1M226 313h1M240 283h1M210 319h1M233 304h1M236 312h1M233 299h1M206 306h1M220 318h1M225 309h1M219 297h1M228 317h1M209 309h1M230 323h1M191 315h1M228 312h1M210 310h1M240 300h1M207 303h1M242 316h1M206 312h1M205 311h1M221 307h1M231 317h1M224 303h1M210 285h1M214 318h1M218 284h1M208 291h1M196 307h1M218 317h1M203 298h1M231 307h1M211 303h1M233 310h1M220 304h1M199 312h1M239 318h1M241 307h1M222 308h1M233 297h1M208 310h1M228 308h1M222 295h1M240 308h1M212 302h1M221 315h1M221 285h1M224 322h1M225 313h1M216 296h1M202 314h1M250 313h1M218 288h1M205 295h1M225 297h1M216 284h1M226 311h1M224 289h1M203 314h1M238 315h1M234 308h1M191 301h1M198 307h1M232 302h1M218 312h1M213 296h1M214 298h1M224 307h1M223 325h1M225 295h1M231 305h1M224 310h1M213 292h1M213 300h1M212 300h1M230 305h1M212 312h1M222 289h1M241 278h1M196 304h1M211 307h1M226 310h1M232 293h1M232 318h1M226 283h1M207 304h1M200 300h1M213 301h1M242 303h1M223 302h1M247 304h1M222 312h1M234 304h1M222 321h1M221 288h1M198 301h1M195 300h1M212 313h1M237 314h1M210 304h1M222 305h1M225 306h1M213 284h1M227 306h1M205 301h1M226 278h1M221 297h1M237 318h1M215 318h1M216 290h1M221 286h1M224 313h1M213 319h1M226 320h1M217 316h1M218 322h1M216 324h1M224 281h1M223 297h1M235 302h1M225 291h1M201 302h1M202 312h1M237 298h1M208 296h1M219 318h1M221 287h1M231 311h1M214 289h1M212 296h1M218 307h1M213 305h1M225 322h1M224 292h1M219 310h1M226 323h1M225 304h1M244 305h1M240 292h1M226 321h1M222 286h1M214 312h1M224 293h1M220 308h1M215 311h1M231 302h1M214 316h1M215 303h1M228 300h1M234 302h1M222 297h1M215 293h1M225 284h1M224 282h1M216 285h1M229 282h1M225 281h1M236 296h1M224 304h1M227 282h1M236 282h1M227 283h1M228 285h1M234 282h1M233 270h1M218 271h1M246 282h1M219 275h1M224 286h1M233 287h1M228 272h1M231 295h1M219 296h1M223 280h1M221 290h1M224 291h1M223 283h1M222 285h1M220 288h1M227 278h1M216 275h1M232 274h1M230 275h1M214 280h1M225 290h1M221 279h1M223 285h1M227 288h1M226 296h1M217 299h1M221 278h1M221 300h1M227 293h1M228 278h1M231 288h1M229 285h1M227 284h1M226 273h1M220 280h1M232 286h1M220 286h1M228 277h1M229 273h1M227 290h1M220 297h1M213 276h1M229 271h1M226 279h1M231 293h1M223 284h1M220 292h1M225 274h1M219 278h1M231 284h1M236 286h1M218 287h1M231 277h1M230 278h1M212 288h1M230 297h1M227 281h1M231 285h1M232 285h1M220 294h1M224 288h1M221 283h1M214 284h1M235 279h1M222 273h1M236 276h1M226 292h1M229 286h1M223 276h1M234 286h1M215 290h1M230 285h1M222 300h1M218 283h1M218 301h1M233 295h1M233 283h1M230 281h1M222 272h1M219 289h1M217 286h1M228 280h1M222 282h1M228 283h1M222 283h1M212 301h1M229 296h1M226 291h1M226 281h1M222 279h1M217 294h1M219 282h1M234 275h1M225 275h1M230 291h1M223 282h1M219 280h1M236 289h1M229 281h1M214 299h1M221 294h1M225 294h1M236 279h1M228 309h1M232 281h1M230 300h1M235 276h1M239 272h1M228 268h1M208 290h1M223 290h1M226 280h1M226 276h1M225 288h1M209 295h1M234 278h1M214 278h1M226 274h1M226 277h1M230 282h1M220 274h1M235 293h1M220 296h1M220 299h1M240 286h1M220 290h1M225 286h1M227 292h1M240 296h1M217 300h1M222 281h1M218 277h1M218 282h1M228 276h1M226 288h1M234 288h1M222 292h1M238 285h1M219 283h1M228 287h1M214 290h1M207 290h1M232 276h1M216 282h1M218 293h1M229 288h1M234 296h1M222 277h1M230 279h1M235 281h1M230 289h1M230 298h1M226 290h1M215 299h1M222 296h1M225 289h1M219 286h1M227 277h1M213 291h1M224 263h1M231 294h1M227 289h1M216 292h1M221 296h1M231 276h1M218 279h1M233 276h1M226 284h1M225 278h1M228 291h1M218 296h1M225 277h1M241 293h1M221 266h1M234 297h1M220 295h1M217 303h1M221 293h1M226 298h1M219 293h1M228 270h1M226 297h1M236 300h1M228 290h1M217 274h1M223 287h1M233 275h1M234 299h1M241 297h1M244 306h1M232 289h1M223 307h1M223 295h1M214 292h1M235 273h1M216 310h1M216 291h1M207 301h1M217 283h1M230 276h1M225 308h1M232 279h1M224 284h1M226 286h1M224 290h1M231 278h1M227 272h1M227 274h1M220 301h1M229 279h1M220 303h1M230 273h1M219 288h1M233 281h1M223 289h1M227 298h1M227 287h1M215 295h1M228 295h1M228 288h1M227 285h1M219 295h1M203 291h1M223 296h1M225 292h1M228 298h1M233 289h1M221 299h1M218 294h1M217 280h1M216 294h1M229 289h1M224 294h1M224 314h1M223 286h1M213 294h1M232 272h1M232 277h1M224 300h1M214 281h1M225 282h1M226 285h1M223 291h1M227 271h1M231 301h1M219 292h1M221 295h1M215 298h1M225 298h1M217 284h1M230 284h1M233 284h1M231 282h1M204 292h1M211 285h1M218 285h1M233 293h1M233 292h1M218 316h1M225 287h1M208 309h1M224 311h1M217 322h1M217 312h1M222 307h1M222 325h1M220 306h1M218 306h1M227 311h1M222 324h1M203 309h1M204 315h1M208 314h1M228 321h1M237 299h1M229 307h1M226 309h1M227 309h1M200 317h1M215 322h1M226 325h1M189 313h1M207 319h1M231 310h1M232 316h1M233 306h1M219 321h1M224 301h1M242 320h1M224 318h1M215 307h1M213 309h1M245 318h1M209 318h1M223 309h1M225 305h1M229 309h1M201 305h1M226 307h1M188 302h1M228 311h1M225 293h1M216 321h1M231 304h1M225 303h1M212 310h1M221 323h1M227 320h1M218 298h1M225 316h1M219 311h1M209 308h1M212 320h1M236 314h1M240 319h1M228 325h1M232 323h1M223 320h1M238 310h1M228 307h1M194 309h1M218 324h1M199 322h1M209 314h1M237 309h1M210 297h1M219 308h1M216 323h1M241 305h1M223 317h1M212 317h1M226 301h1M224 306h1M218 313h1M215 323h1M230 309h1M238 322h1M211 316h1M239 308h1M223 300h1M230 318h1M205 303h1M223 306h1M211 313h1M235 305h1M242 312h1M216 312h1M233 314h1M214 321h1M229 324h1M227 322h1M223 310h1M233 308h1M229 313h1M234 314h1M222 315h1M222 320h1M227 324h1M192 315h1M237 301h1M227 313h1M250 316h1M216 316h1M209 312h1M203 313h1M230 311h1M230 310h1M217 314h1M208 319h1M230 306h1M220 313h1M232 312h1M215 314h1M217 309h1M214 310h1M216 297h1M196 316h1M232 304h1M195 307h1M203 325h1M224 309h1M232 314h1M233 325h1M214 317h1M213 311h1M208 324h1M228 322h1M199 314h1M236 317h1M224 315h1M212 309h1M222 304h1M231 323h1M219 303h1M231 313h1M233 321h1M215 312h1M235 321h1M209 317h1M233 311h1M237 305h1M220 322h1M221 309h1M202 308h1M227 304h1M227 310h1M223 312h1M228 306h1M226 316h1M230 314h1M233 312h1M239 310h1M199 313h1M221 319h1M233 320h1M229 294h1M224 324h1M219 319h1M228 310h1M221 316h1M208 312h1M226 304h1M229 299h1M214 297h1M217 305h1M231 322h1M241 316h1M226 293h1M232 303h1M207 298h1M238 313h1M212 323h1M208 304h1M223 301h1M221 305h1M235 322h1M216 319h1M226 317h1M218 299h1M230 322h1M230 313h1M228 318h1M208 311h1M221 317h1M223 324h1M209 305h1M214 315h1M210 298h1M229 308h1M218 309h1M229 322h1M236 310h1M220 315h1M229 297h1M226 306h1M241 306h1M241 310h1M247 298h1M237 306h1M220 319h1M224 312h1M213 303h1M231 320h1M237 317h1M219 316h1M205 315h1M229 325h1M216 317h1M248 316h1M229 316h1M223 305h1M245 324h1M232 309h1M235 314h1M234 316h1M219 306h1M234 325h1M218 319h1M231 315h1M218 310h1M223 319h1M233 315h1M227 305h1M232 319h1M233 316h1M232 310h1M223 299h1M232 297h1M233 322h1M222 323h1M225 323h1M228 313h1M228 304h1M219 301h1M222 311h1M229 312h1M225 319h1M221 312h1M222 317h1M232 321h1M223 318h1M215 321h1M237 324h1M213 308h1M231 325h1M231 319h1M222 316h1M238 321h1M217 308h1M215 301h1M231 306h1M235 320h1M224 325h1M222 314h1M227 317h1M206 322h1M222 301h1M226 324h1M235 309h1M236 309h1M229 305h1M225 318h1M235 308h1M234 310h1M237 308h1M242 301h1M223 298h1M213 299h1M224 297h1M219 294h1M210 299h1M215 296h1M222 303h1M210 294h1M230 293h1M223 292h1M209 291h1M216 299h1M216 298h1M227 300h1" stroke="#000" stroke-width="1" stroke-opacity="0.4" transform="translate(0 .5)" filter="url(#soft)"/>
<path d="M230 286h1M215 292h1M219 300h1M224 299h1M207 314h1M210 314h1M224 305h1M235 311h1M206 302h1M219 322h1M227 323h1M236 306h1M220 309h1M238 319h1M228 302h1M224 296h1M221 301h1M224 319h1M229 302h1M225 300h1M239 322h1M241 324h1M237 316h1M229 319h1M212 315h1M214 304h1M223 303h1M216 295h1M235 316h1M222 299h1M225 317h1M225 320h1M233 288h1M228 314h1M198 314h1M223 315h1M228 292h1M224 298h1M221 298h1M226 299h1M212 304h1M219 305h1M219 302h1M215 302h1M227 301h1M219 299h1M219 307h1M213 304h1M236 307h1M238 301h1M228 319h1M229 298h1M213 306h1M215 313h1M219 298h1M216 304h1M213 318h1M232 308h1M222 298h1M212 295h1M216 313h1M223 311h1M220 305h1M226 313h1M233 304h1M236 312h1M233 299h1M219 297h1M228 317h1M230 323h1M228 312h1M210 310h1M206 312h1M231 317h1M224 303h1M214 318h1M208 291h1M203 298h1M231 307h1M233 310h1M241 307h1M222 308h1M228 308h1M222 295h1M240 308h1M224 322h1M216 296h1M218 288h1M225 297h1M216 284h1M226 311h1M224 289h1M234 308h1M198 307h1M213 296h1M224 307h1M225 295h1M231 305h1M224 310h1M213 292h1M212 300h1M212 312h1M241 278h1M211 307h1M232 318h1M207 304h1M200 300h1M213 301h1M242 303h1M223 302h1M222 321h1M221 288h1M212 313h1M210 304h1M222 305h1M225 306h1M227 306h1M221 297h1M215 318h1M216 290h1M221 286h1M224 313h1M213 319h1M226 320h1M224 281h1M223 297h1M235 302h1M225 291h1M202 312h1M219 318h1M225 322h1M224 292h1M219 310h1M226 323h1M225 304h1M244 305h1M222 286h1M214 312h1M224 293h1M215 311h1M215 303h1M234 302h1M225 284h1M224 282h1M216 285h1M225 281h1M224 304h1M227 282h1M236 282h1M228 285h1M233 270h1M224 286h1M233 287h1M231 295h1M223 280h1M221 290h1M224 291h1M223 283h1M222 285h1M220 288h1M216 275h1M232 274h1M230 275h1M214 280h1M223 285h1M226 296h1M217 299h1M221 278h1M221 300h1M227 293h1M228 278h1M229 285h1M227 284h1M232 286h1M228 277h1M220 297h1M226 279h1M231 293h1M223 284h1M225 274h1M218 287h1M231 277h1M230 278h1M230 297h1M231 285h1M220 294h1M214 284h1M222 273h1M226 292h1M229 286h1M234 286h1M215 290h1M218 301h1M233 283h1M219 289h1M222 282h1M228 283h1M222 283h1M229 296h1M226 281h1M222 279h1M219 282h1M230 291h1M223 282h1M219 280h1M232 281h1M230 300h1M228 268h1M223 290h1M226 280h1M230 282h1M220 296h1M220 299h1M220 290h1M227 292h1M217 300h1M218 277h1M218 282h1M228 276h1M226 288h1M234 288h1M222 292h1M228 287h1M214 290h1M229 288h1M230 279h1M235 281h1M226 290h1M215 299h1M225 289h1M227 277h1M213 291h1M231 294h1M221 296h1M228 291h1M221 266h1M220 295h1M221 293h1M228 290h1M233 275h1M234 299h1M241 297h1M244 306h1M223 307h1M223 295h1M214 292h1M216 291h1M225 308h1M224 290h1M220 301h1M220 303h1M227 287h1M223 296h1M233 289h1M221 299h1M218 294h1M216 294h1M224 294h1M223 286h1M232 277h1M224 300h1M219 292h1M221 295h1M225 298h1M233 293h1M218 316h1M208 309h1M217 322h1M217 312h1M222 325h1M220 306h1M227 311h1M228 321h1M227 309h1M215 322h1M231 310h1M232 316h1M233 306h1M219 321h1M224 318h1M215 307h1M213 309h1M223 309h1M225 305h1M226 307h1M228 311h1M231 304h1M212 310h1M221 323h1M227 320h1M225 316h1M212 320h1M232 323h1M223 320h1M209 314h1M219 308h1M216 323h1M218 313h1M215 323h1M211 316h1M223 300h1M211 313h1M235 305h1M216 312h1M229 324h1M227 322h1M223 310h1M233 308h1M229 313h1M234 314h1M222 320h1M227 313h1M216 316h1M203 313h1M230 311h1M217 314h1M217 309h1M214 310h1M216 297h1M232 304h1M228 322h1M236 317h1M224 315h1M231 323h1M235 321h1M233 311h1M220 322h1M227 304h1M227 310h1M230 314h1M233 320h1M228 310h1M221 316h1M208 312h1M226 304h1M229 299h1M238 313h1M223 301h1M221 305h1M235 322h1M218 299h1M230 313h1M208 311h1M221 317h1M223 324h1M209 305h1M218 309h1M229 322h1M220 319h1M224 312h1M229 325h1M216 317h1M229 316h1M232 309h1M235 314h1M234 316h1M218 319h1M231 315h1M218 310h1M233 315h1M227 305h1M233 316h1M222 323h1M225 323h1M228 304h1M229 312h1M232 321h1M223 318h1M215 321h1M222 316h1M215 301h1M224 325h1M222 301h1M224 297h1M219 294h1M223 292h1M216 299h1" stroke="#000" stroke-width="1" stroke-opacity="0.4" transform="translate(0 .5)" filter="url(#soft)"/>
</g>
<g clip-path="url(#c285_237)">
<ellipse cx="328" cy="307" rx="26.0" ry="15.6" transform="rotate(0 328 307)" fill="#000" fill-opacity="0.1" filter="url(#b5_4)"/>
<ellipse cx="337.5" cy="280.5" rx="9.1" ry="7.8" transform="rotate(-60 337.5 280.5)" fill="#000" fill-opacity="0.95" filter="url(#b2_7)"/>
<ellipse cx="329" cy="291" rx="8.4" ry="7.2" transform="rotate(-60 329 291)" fill="#000" fill-opacity="0.3" filter="url(#b2_7)"/>
<ellipse cx="316" cy="305" rx="10.2" ry="9.6" transform="rotate(0 316 305)" fill="#000" fill-opacity="0.85" filter="url(#b3_6)"/>
<ellipse cx="337" cy="315.5" rx="9.6" ry="10.8" transform="rotate(0 337 315.5)" fill="#000" fill-opacity="0.95" filter="url(#b3_6)"/>
<path d="M333 311h1M354 306h1M344 301h1M340 313h1M317 288h1M302 295h1M339 305h1M322 312h1M342 323h1M316 313h1M342 295h1M330 296h1M323 311h1M294 296h1M311 308h1M313 311h1M310 300h1M339 310h1M330 306h1M347 323h1M320 298h1M310 291h1M333 319h1M303 305h1M299 298h1M360 308h1M322 307h1M333 305h1M304 292h1M367 297h1M351 298h1M353 315h1M309 304h1M310 297h1M320 295h1M293 292h1M309 301h1M348 315h1M337 309h1M305 306h1M332 304h1M311 291h1M322 298h1M318 294h1M354 312h1M364 300h1M329 304h1M328 303h1M324 283h1M322 315h1M289 302h1M339 322h1M326 312h1M362 322h1M319 299h1M348 309h1M317 304h1M334 304h1M322 304h1M352 325h1M325 308h1M339 316h1M291 311h1M308 306h1M338 306h1M355 306h1M313 304h1M320 307h1M344 305h1M326 319h1M333 318h1M330 291h1M305 287h1M350 311h1M318 295h1M335 305h1M334 296h1M309 306h1M354 285h1M341 307h1M325 310h1M304 280h1M365 303h1M345 320h1M333 312h1M337 321h1M322 301h1M329 311h1M344 307h1M367 310h1M335 312h1M321 294h1M330 303h1M310 308h1M324 299h1M292 305h1M362 317h1M349 306h1M348 299h1M319 313h1M299 307h1M314 312h1M315 300h1M350 313h1M338 292h1M324 306h1M359 296h1M336 318h1M312 308h1M288 308h1M362 311h1M329 308h1M370 313h1M348 301h1M319 294h1M324 298h1M347 314h1M325 300h1M334 314h1M331 294h1M323 301h1M339 285h1M316 318h1M332 297h1M337 310h1M310 315h1M341 305h1M346 293h1M343 304h1M309 299h1M351 300h1M321 299h1M312 318h1M371 322h1M338 316h1M321 301h1M304 324h1M321 298h1M315 309h1M317 307h1M331 322h1M303 310h1M314 301h1M360 314h1M320 312h1M327 320h1M318 312h1M324 307h1M325 299h1M330 318h1M316 302h1M335 298h1M345 315h1M306 316h1M346 292h1M314 306h1M320 315h1M349 318h1M326 301h1M313 316h1M345 319h1M321 302h1M333 321h1M335 309h1M311 312h1M338 295h1M362 296h1M346 304h1M331 297h1M317 315h1M324 303h1M331 309h1M362 305h1M300 284h1M330 317h1M332 300h1M315 316h1M322 288h1M341 309h1M335 319h1M354 313h1M324 282h1M334 305h1M354 322h1M337 323h1M326 306h1M311 303h1M332 319h1M323 307h1M352 306h1M311 306h1M327 310h1M310 325h1M314 315h1M332 294h1M329 307h1M324 316h1M350 296h1M333 308h1M308 290h1M359 300h1M365 285h1M341 315h1M311 301h1M307 307h1M354 318h1M336 320h1M327 291h1M320 299h1M329 310h1M362 294h1M357 322h1M300 315h1M308 292h1M350 314h1M328 308h1M313 300h1M316 306h1M328 291h1M334 291h1M321 304h1M323 324h1M360 319h1M359 303h1M356 306h1M332 310h1M301 299h1M324 311h1M325 296h1M304 307h1M325 309h1M311 285h1M333 316h1M319 302h1M306 315h1M316 305h1M324 285h1M330 297h1M323 323h1M290 305h1M337 308h1M295 291h1M319 315h1M330 309h1M332 286h1M339 293h1M303 308h1M328 300h1M367 282h1M307 324h1M338 297h1M310 304h1M307 309h1M315 324h1M333 322h1M336 310h1M307 301h1M335 301h1M317 311h1M326 298h1M355 308h1M349 302h1M299 292h1M329 313h1M303 309h1M303 298h1M356 317h1M357 304h1M339 291h1M317 312h1M364 295h1M356 298h1M309 309h1M348 298h1M313 301h1M313 309h1M313 303h1M358 307h1M344 311h1M334 322h1M291 316h1M331 298h1M301 300h1M343 288h1M320 278h1M316 311h1M326 307h1M305 313h1M309 317h1M332 302h1M357 302h1M348 308h1M328 319h1M336 306h1M329 303h1M307 275h1M325 304h1M352 312h1M344 299h1M322 324h1M339 320h1M301 307h1M350 291h1M332 311h1M313 305h1M361 285h1M337 301h1M328 297h1M355 293h1M335 313h1M326 303h1M322 319h1M337 306h1M306 308h1M356 284h1M305 286h1M345 313h1M323 306h1M331 301h1M351 314h1M325 287h1M355 301h1M307 322h1M338 282h1M294 302h1M302 305h1M327 316h1M345 305h1M298 319h1M324 312h1M342 297h1M361 308h1M332 301h1M342 319h1M317 314h1M319 292h1M321 314h1M314 303h1M329 314h1M325 295h1M297 321h1M349 299h1M357 306h1M337 322h1M318 297h1M293 310h1M337 317h1M340 308h1M351 294h1M336 313h1M346 305h1M367 320h1M328 305h1M307 305h1M323 309h1M319 314h1M326 288h1M318 296h1M302 304h1M288 305h1M333 302h1M345 324h1M325 321h1M306 309h1M302 309h1M316 310h1M305 310h1M330 300h1M312 292h1M353 303h1M334 317h1M338 311h1M326 302h1M356 307h1M330 315h1M340 309h1M363 302h1M370 310h1M324 288h1M297 288h1M345 314h1M291 306h1M335 289h1M347 291h1M351 309h1M314 287h1M321 306h1M324 317h1M337 307h1M321 309h1M341 293h1M355 284h1M323 295h1M300 300h1M347 312h1M355 299h1M321 303h1M331 312h1M363 315h1M331 323h1M312 291h1M321 305h1M335 315h1M333 278h1M352 288h1M321 288h1M360 300h1M324 305h1M342 316h1M325 320h1M315 315h1M357 293h1M304 314h1M307 303h1M331 295h1M327 312h1M309 320h1M305 305h1M349 309h1M299 311h1M298 315h1M353 313h1M340 299h1M311 300h1M320 309h1M318 304h1M313 321h1M333 306h1M296 304h1M361 313h1M298 298h1M355 295h1M312 320h1M335 308h1M321 310h1M313 306h1M341 294h1M323 293h1M342 314h1M346 319h1M333 314h1M303 319h1M351 288h1M316 301h1M315 323h1M371 294h1M348 303h1M355 277h1M319 321h1M312 321h1M317 320h1M339 301h1M312 304h1M351 306h1M338 294h1M327 301h1M298 312h1M305 297h1M352 293h1M340 321h1M323 290h1M330 312h1M317 295h1M345 294h1M336 301h1M299 305h1M333 297h1M360 282h1M341 284h1M296 291h1M339 298h1M314 295h1M297 295h1M307 302h1M319 277h1M314 321h1M317 305h1M312 298h1M325 290h1M323 286h1M333 287h1M339 318h1M293 314h1M318 319h1M315 302h1M320 321h1M287 315h1M327 299h1M321 317h1M313 283h1M371 310h1M290 318h1M342 310h1M324 309h1M341 313h1M367 269h1M310 298h1M342 308h1M342 288h1M321 313h1M324 300h1M331 325h1M339 306h1M332 314h1M324 313h1M313 318h1M315 297h1M323 305h1M309 315h1M323 312h1M295 289h1M320 293h1M348 323h1M341 297h1M336 299h1M336 293h1M352 310h1M320 289h1M331 299h1M315 313h1M355 290h1M322 310h1M322 300h1M369 295h1M333 299h1M324 278h1M343 303h1M309 318h1M299 294h1M332 305h1M310 279h1M341 300h1M299 312h1M299 304h1M327 284h1M345 290h1M353 309h1M322 309h1M314 305h1M358 298h1M325 317h1M301 309h1M317 316h1M340 294h1M323 308h1M294 310h1M353 320h1M314 300h1M307 299h1M320 313h1M327 294h1M313 302h1M328 313h1M364 308h1M320 304h1M338 315h1M308 308h1M339 281h1M343 305h1M331 316h1M320 292h1M312 294h1M324 321h1M318 302h1M341 314h1M337 290h1M322 317h1M330 316h1M366 314h1M313 324h1M312 317h1M339 295h1M312 303h1M344 298h1M314 307h1M342 309h1M346 298h1M309 289h1M291 301h1M328 304h1M305 303h1M301 312h1M341 299h1M315 292h1M339 311h1M342 307h1M348 312h1M291 309h1M343 307h1M356 301h1M341 292h1M327 300h1M307 291h1M314 291h1M303 320h1M319 297h1M299 317h1M325 301h1M319 309h1M328 320h1M298 306h1M325 311h1M348 293h1M371 300h1M307 316h1M349 321h1M357 312h1M318 286h1M289 314h1M362 281h1M304 289h1M358 314h1M345 304h1M316 316h1M359 315h1M321 308h1M345 323h1M317 289h1M336 307h1M337 299h1M310 276h1M319 301h1M333 307h1M318 303h1M337 285h1M345 300h1M300 297h1M339 317h1M315 314h1M345 312h1M334 279h1M326 281h1M350 270h1M342 277h1M344 282h1M336 287h1M337 281h1M337 286h1M328 274h1M354 279h1M341 288h1M332 284h1M345 270h1M345 271h1M341 273h1M352 276h1M337 274h1M332 279h1M343 278h1M340 287h1M346 289h1M349 279h1M330 281h1M335 293h1M341 290h1M343 281h1M331 286h1M335 288h1M336 280h1M346 280h1M344 285h1M336 286h1M335 287h1M335 285h1M335 273h1M331 290h1M341 277h1M339 288h1M339 270h1M340 283h1M330 276h1M331 276h1M326 272h1M353 277h1M335 274h1M342 284h1M346 275h1M338 275h1M334 278h1M335 277h1M342 273h1M340 279h1M332 273h1M343 272h1M331 280h1M333 282h1M334 277h1M339 279h1M347 290h1M338 279h1M347 280h1M329 270h1M338 278h1M331 273h1M331 279h1M325 289h1M341 279h1M334 285h1M329 284h1M330 283h1M335 281h1M340 288h1M344 287h1M335 270h1M333 270h1M344 272h1M323 279h1M329 278h1M339 283h1M338 281h1M340 284h1M337 287h1M334 288h1M345 280h1M327 288h1M340 289h1M338 287h1M328 279h1M332 276h1M344 278h1M336 269h1M347 273h1M337 267h1M331 274h1M332 277h1M342 280h1M343 283h1M335 269h1M328 275h1M334 284h1M339 282h1M337 293h1M330 286h1M338 289h1M341 287h1M336 285h1M327 275h1M340 280h1M338 272h1M349 282h1M333 281h1M328 278h1M333 285h1M344 275h1M336 278h1M340 276h1M331 269h1M335 279h1M339 276h1M344 283h1M339 272h1M344 274h1M350 276h1M327 278h1M331 285h1M343 270h1M336 281h1M328 276h1M334 273h1M342 282h1M328 287h1M334 282h1M337 284h1M342 275h1M346 277h1M336 284h1M339 284h1M335 282h1M342 269h1M332 290h1M336 277h1M332 278h1M346 286h1M324 286h1M336 264h1M345 276h1M332 267h1M345 283h1M348 276h1M344 280h1M330 284h1M343 290h1M320 288h1M341 276h1M342 285h1M328 290h1M342 286h1M346 282h1M343 274h1M336 274h1M338 285h1M333 275h1M342 287h1M331 284h1M340 277h1M331 275h1M332 283h1M344 269h1M333 289h1M349 276h1M331 282h1M343 287h1M343 280h1M330 293h1M328 280h1M338 293h1M336 273h1M340 273h1M336 283h1M348 278h1M334 290h1M337 278h1M337 271h1M333 279h1M347 278h1M333 280h1M339 296h1M351 284h1M341 274h1M326 291h1M343 289h1M343 279h1M342 270h1M336 290h1M346 273h1M338 264h1M332 275h1M330 282h1M339 277h1M342 267h1M349 281h1M339 278h1M338 268h1M342 283h1M341 278h1M337 289h1M331 288h1M341 280h1M335 296h1M338 284h1M333 276h1M341 283h1M347 288h1M347 287h1M338 286h1M348 277h1M340 270h1M329 276h1M329 279h1M340 272h1M340 275h1M332 271h1M323 287h1M334 286h1M328 281h1M343 276h1M342 271h1M344 276h1M348 275h1M338 277h1M317 284h1M329 280h1M337 268h1M334 280h1M341 282h1M339 275h1M331 287h1M323 280h1M336 292h1M335 284h1M334 293h1M329 289h1M333 277h1M346 278h1M331 281h1M333 274h1M341 268h1M341 289h1M335 271h1M342 279h1M332 291h1M340 290h1M340 281h1M339 289h1M343 282h1M339 271h1M338 273h1M348 265h1M332 280h1M337 288h1M326 296h1M330 277h1M335 283h1M333 283h1M329 285h1M339 267h1M341 281h1M329 282h1M338 271h1M330 290h1M325 276h1M327 268h1M332 281h1M336 272h1M347 279h1M338 266h1M331 278h1M351 272h1M331 277h1M336 270h1M337 279h1M347 274h1M345 281h1M336 279h1M331 283h1M330 285h1M326 286h1M327 279h1M334 281h1M344 277h1M342 278h1M343 267h1M351 278h1M335 276h1M336 291h1M335 260h1M337 283h1M345 278h1M349 275h1M342 296h1M334 276h1M345 279h1M347 277h1M345 274h1M342 272h1M342 268h1M343 295h1M350 278h1M341 275h1M322 273h1M346 283h1M335 275h1M330 279h1M337 276h1M333 271h1M344 284h1M335 280h1M345 282h1M340 282h1M326 278h1M346 285h1M340 296h1M344 292h1M333 286h1M336 267h1M329 294h1M327 281h1M332 288h1M341 286h1M346 267h1M337 275h1M343 284h1M334 300h1M353 289h1M328 296h1M331 292h1M340 271h1M347 276h1M323 298h1M333 288h1M340 286h1M337 277h1M335 268h1M343 273h1M338 274h1M343 275h1M344 270h1M333 290h1M324 284h1M339 294h1M348 274h1M333 284h1M340 295h1M343 277h1M336 276h1M334 297h1M332 282h1M323 282h1M322 284h1M339 287h1M346 276h1M330 295h1M346 272h1M339 280h1M333 298h1M336 288h1M338 290h1M334 283h1M328 286h1M326 289h1M346 279h1M348 279h1M333 267h1M326 284h1M336 271h1M338 280h1M331 270h1M328 264h1M343 286h1M349 270h1M339 290h1M345 284h1M328 284h1M325 273h1M340 274h1M337 266h1M341 269h1M340 298h1M332 274h1M341 272h1M334 292h1M332 269h1M349 287h1M334 269h1M343 262h1M339 273h1M330 278h1M348 267h1M352 283h1M333 293h1M334 275h1M344 286h1M326 273h1M324 281h1M339 269h1M327 285h1M338 283h1M351 277h1M339 297h1M339 286h1M336 282h1M345 277h1M342 274h1M351 271h1M348 281h1M321 286h1M329 283h1M329 286h1M328 292h1M316 299h1M338 300h1M329 299h1M331 271h1M323 296h1M325 297h1M330 287h1M331 291h1M332 298h1M328 288h1M329 290h1M313 294h1M317 299h1M332 287h1M324 289h1M329 300h1M322 292h1M347 293h1M337 292h1M329 293h1M324 292h1M326 285h1M326 294h1M320 286h1M321 293h1M332 295h1M340 297h1M316 280h1M321 296h1M335 297h1M340 278h1M320 283h1M322 283h1M342 291h1M317 296h1M331 300h1M332 285h1M333 303h1M335 300h1M332 292h1M322 296h1M329 288h1M330 288h1M326 292h1M326 287h1M325 291h1M327 292h1M327 297h1M326 305h1M336 275h1M334 303h1M321 290h1M318 274h1M316 296h1M315 289h1M326 290h1M329 297h1M322 275h1M319 298h1M335 286h1M328 295h1M327 280h1M335 292h1M334 294h1M324 290h1M322 299h1M319 290h1M325 293h1M322 281h1M321 295h1M335 294h1M333 291h1M317 298h1M328 282h1M325 288h1M328 293h1M324 291h1M316 293h1M329 292h1M332 299h1M323 292h1M320 287h1M324 279h1M334 298h1M326 280h1M332 293h1M322 293h1M328 283h1M327 296h1M322 290h1M317 293h1M328 306h1M334 295h1M321 282h1M326 297h1M331 293h1M327 290h1M319 282h1M323 291h1M326 299h1M323 274h1M325 284h1M315 288h1M326 300h1M325 298h1M339 299h1M331 289h1M326 293h1M341 285h1M330 294h1M321 287h1M337 298h1M325 292h1M331 296h1M329 296h1M316 297h1M318 293h1M327 283h1M334 289h1M329 281h1M336 294h1M325 305h1M327 287h1M310 303h1M306 305h1M313 299h1M309 295h1M311 307h1M311 317h1M301 306h1M338 312h1M308 305h1M310 302h1M313 293h1M288 303h1M320 301h1M320 310h1M321 291h1M328 311h1M322 305h1M319 312h1M311 311h1M312 309h1M314 311h1M332 306h1M323 300h1M303 304h1M313 310h1M314 298h1M311 313h1M319 284h1M312 312h1M317 309h1M305 307h1M310 285h1M330 307h1M329 302h1M325 319h1M312 313h1M301 305h1M318 311h1M319 306h1M313 308h1M302 312h1M315 307h1M324 308h1M303 311h1M328 316h1M320 318h1M311 302h1M323 304h1M317 306h1M307 317h1M312 305h1M308 312h1M308 297h1M308 307h1M305 311h1M313 312h1M307 296h1M321 300h1M301 316h1M317 291h1M327 318h1M319 304h1M307 298h1M313 285h1M332 308h1M318 298h1M315 290h1M323 314h1M328 294h1M318 308h1M320 303h1M303 302h1M293 302h1M309 311h1M293 320h1M313 292h1M319 308h1M319 322h1M309 307h1M318 314h1M324 310h1M302 307h1M312 314h1M314 320h1M305 308h1M308 319h1M302 296h1M316 309h1M312 307h1M318 307h1M306 306h1M317 321h1M309 297h1M310 299h1M331 305h1M329 306h1M327 307h1M314 308h1M332 303h1M327 309h1M319 310h1M308 299h1M314 302h1M320 297h1M330 305h1M326 315h1M307 306h1M319 295h1M314 309h1M309 291h1M314 296h1M308 296h1M305 298h1M309 305h1M342 300h1M314 313h1M314 294h1M301 298h1M313 317h1M303 306h1M318 317h1M304 293h1M317 308h1M317 294h1M293 289h1M312 293h1M315 293h1M319 303h1M311 280h1M323 299h1M306 292h1M306 294h1M308 309h1M296 299h1M323 310h1M312 306h1M313 314h1M315 304h1M320 311h1M330 302h1M329 298h1M308 287h1M322 316h1M305 302h1M316 307h1M311 296h1M304 304h1M320 282h1M318 318h1M305 315h1M301 323h1M304 302h1M310 294h1M300 307h1M325 312h1M315 296h1M310 311h1M299 302h1M312 319h1M313 307h1M331 311h1M321 285h1M326 308h1M325 306h1M297 306h1M300 309h1M334 318h1M304 299h1M327 306h1M324 304h1M311 297h1M299 301h1M304 301h1M295 296h1M306 312h1M305 312h1M315 299h1M300 295h1M322 294h1M313 296h1M310 307h1M319 311h1M319 307h1M308 291h1M316 312h1M307 292h1M323 302h1M305 304h1M323 317h1M307 297h1M302 297h1M306 298h1M325 313h1M318 301h1M311 294h1M316 304h1M299 299h1M306 311h1M301 295h1M314 284h1M307 293h1M307 314h1M310 309h1M322 297h1M315 295h1M297 305h1M319 318h1M321 307h1M314 290h1M321 312h1M307 304h1M312 310h1M308 323h1M311 298h1M315 311h1M310 321h1M316 320h1M311 315h1M314 318h1M306 299h1M324 323h1M311 304h1M329 312h1M309 298h1M322 302h1M328 307h1M329 295h1M306 300h1M333 317h1M306 301h1M320 305h1M300 301h1M300 308h1M306 310h1M307 312h1M303 316h1M327 303h1M322 308h1M319 317h1M298 317h1M320 300h1M322 321h1M316 317h1M324 295h1M309 308h1M325 307h1M314 292h1M326 314h1M302 294h1M311 310h1M299 289h1M310 306h1M330 308h1M318 313h1M323 297h1M319 305h1M330 304h1M315 306h1M301 318h1M304 308h1M308 300h1M295 307h1M324 319h1M299 286h1M305 300h1M341 312h1M308 313h1M305 296h1M318 310h1M333 309h1M318 305h1M294 307h1M317 300h1M309 303h1M311 295h1M302 314h1M304 295h1M306 296h1M308 304h1M312 316h1M321 316h1M325 314h1M326 309h1M312 299h1M309 300h1M321 297h1M294 304h1M310 301h1M324 296h1M324 294h1M313 320h1M320 308h1M302 306h1M331 314h1M311 299h1M329 316h1M303 300h1M320 302h1M316 292h1M302 293h1M314 323h1M315 317h1M327 311h1M317 303h1M308 310h1M307 315h1M313 297h1M311 305h1M327 304h1M308 324h1M316 303h1M305 301h1M323 318h1M315 303h1M324 293h1M298 282h1M312 311h1M293 303h1M310 312h1M302 300h1M317 319h1M318 292h1M346 321h1M337 314h1M325 294h1M338 313h1M341 320h1M331 310h1M337 304h1M338 307h1M334 310h1M339 312h1M339 323h1M346 306h1M346 307h1M347 311h1M344 310h1M335 316h1M343 311h1M341 304h1M346 308h1M350 312h1M334 309h1M331 319h1M346 316h1M329 317h1M337 300h1M332 315h1M333 313h1M349 323h1M348 317h1M332 318h1M338 318h1M341 316h1M343 308h1M340 306h1M335 310h1M344 313h1M326 295h1M351 304h1M336 308h1M354 308h1M330 320h1M346 303h1M325 303h1M338 317h1M329 309h1M323 322h1M339 321h1M340 323h1M346 314h1M345 317h1M351 302h1M332 316h1M343 319h1M338 323h1M351 316h1M328 314h1M336 311h1M342 321h1M334 307h1M339 314h1M336 319h1M334 324h1M346 312h1M345 302h1M340 311h1M343 318h1M342 317h1M341 324h1M332 309h1M338 310h1M349 307h1M343 313h1M347 298h1M338 304h1M344 312h1M343 299h1M326 316h1M326 321h1M347 315h1M347 306h1M353 325h1M340 318h1M343 302h1M340 324h1M342 315h1M337 319h1M332 313h1M328 312h1M333 320h1M351 319h1M334 308h1M341 303h1M342 311h1M346 300h1M347 305h1M345 308h1M318 315h1M340 322h1M342 312h1M335 314h1M351 311h1M329 319h1M330 319h1M329 323h1M349 310h1M335 321h1M336 323h1M329 322h1M320 320h1M330 321h1M339 308h1M328 302h1M335 306h1M321 318h1M323 321h1M338 308h1M347 307h1M335 322h1M342 303h1M331 303h1M347 322h1M347 319h1M335 320h1M342 318h1M356 308h1M330 310h1M327 322h1M325 316h1M347 308h1M335 304h1M336 312h1M341 310h1M343 321h1M350 324h1M349 311h1M338 314h1M339 319h1M348 307h1M346 309h1M332 320h1M339 315h1M340 314h1M344 320h1M342 324h1M351 310h1M336 316h1M343 297h1M341 302h1M327 315h1M328 317h1M327 308h1M340 312h1M344 318h1M347 303h1M339 313h1M340 307h1M321 320h1M324 314h1M333 325h1M341 308h1M341 318h1M314 317h1M336 324h1M350 320h1M337 302h1M348 319h1M334 315h1M351 303h1M335 318h1M329 315h1M323 315h1M348 324h1M336 317h1M360 313h1M344 315h1M322 325h1M330 311h1M351 315h1M352 316h1M331 317h1M332 321h1M328 321h1M352 314h1M342 301h1M335 299h1M337 315h1M340 305h1M331 320h1M333 304h1M348 316h1M343 309h1M344 314h1M341 321h1M347 309h1M352 304h1M324 315h1M345 316h1M329 318h1M336 309h1M342 313h1M327 314h1M343 306h1M348 314h1M347 302h1M348 311h1M342 325h1M333 315h1M323 319h1M343 320h1M326 310h1M328 325h1M352 315h1M341 317h1M321 315h1M344 308h1M338 302h1M325 315h1M342 322h1M336 322h1M344 319h1M333 295h1M343 324h1M345 289h1M331 318h1M335 307h1M346 313h1M345 309h1M350 298h1M339 325h1M321 323h1M339 307h1M346 318h1M343 312h1M352 311h1M335 317h1M327 324h1M346 322h1M334 316h1M334 323h1M345 310h1M354 319h1M341 319h1M355 315h1M328 301h1M337 318h1M324 297h1M344 322h1M338 320h1M330 323h1M353 318h1M319 319h1M351 325h1M341 323h1M333 301h1M339 324h1M350 304h1M335 303h1M350 299h1M327 325h1M347 313h1M350 310h1M338 321h1M326 322h1M329 321h1M322 318h1M343 317h1M331 302h1M350 319h1M350 294h1M347 318h1M332 325h1M332 317h1M336 304h1M346 320h1M338 305h1M314 310h1M340 300h1M350 316h1M337 316h1M331 321h1M342 298h1M330 313h1M331 313h1M340 315h1M335 302h1M323 313h1M331 315h1M336 302h1M336 315h1M341 296h1M346 317h1M332 322h1M341 306h1M334 313h1M340 302h1M335 291h1M324 322h1M341 311h1M325 302h1M326 318h1M343 323h1M340 317h1M328 324h1M337 324h1M333 324h1M335 325h1M335 311h1M341 322h1M360 302h1M353 278h1M356 273h1M307 280h1M336 325h1M360 304h1M308 303h1M348 305h1M317 290h1M358 286h1M365 299h1" stroke="#000" stroke-width="1" stroke-opacity="0.4" transform="translate(0 .5)" filter="url(#soft)"/>
<path d="M354 306h1M340 313h1M317 288h1M322 312h1M342 323h1M316 313h1M342 295h1M330 296h1M313 311h1M310 300h1M339 310h1M330 306h1M347 323h1M320 298h1M333 319h1M322 307h1M304 292h1M351 298h1M309 304h1M320 295h1M309 301h1M348 315h1M337 309h1M305 306h1M322 298h1M318 294h1M354 312h1M322 315h1M339 322h1M326 312h1M319 299h1M348 309h1M317 304h1M334 304h1M322 304h1M325 308h1M339 316h1M308 306h1M338 306h1M313 304h1M344 305h1M326 319h1M330 291h1M335 305h1M334 296h1M309 306h1M341 307h1M325 310h1M345 320h1M333 312h1M337 321h1M322 301h1M329 311h1M344 307h1M335 312h1M321 294h1M310 308h1M324 299h1M319 313h1M314 312h1M315 300h1M350 313h1M336 318h1M312 308h1M329 308h1M319 294h1M347 314h1M325 300h1M334 314h1M331 294h1M323 301h1M339 285h1M316 318h1M332 297h1M337 310h1M310 315h1M346 293h1M309 299h1M321 299h1M312 318h1M338 316h1M321 301h1M321 298h1M315 309h1M317 307h1M331 322h1M303 310h1M314 301h1M320 312h1M327 320h1M318 312h1M324 307h1M325 299h1M330 318h1M316 302h1M335 298h1M345 315h1M346 292h1M349 318h1M313 316h1M335 309h1M338 295h1M317 315h1M331 309h1M330 317h1M315 316h1M322 288h1M341 309h1M335 319h1M354 313h1M334 305h1M337 323h1M326 306h1M311 303h1M332 319h1M323 307h1M311 306h1M332 294h1M329 307h1M324 316h1M350 296h1M333 308h1M341 315h1M311 301h1M336 320h1M327 291h1M329 310h1M357 322h1M308 292h1M316 306h1M334 291h1M321 304h1M323 324h1M332 310h1M301 299h1M324 311h1M325 296h1M304 307h1M325 309h1M333 316h1M319 302h1M316 305h1M324 285h1M330 297h1M337 308h1M319 315h1M330 309h1M332 286h1M339 293h1M303 308h1M328 300h1M310 304h1M307 309h1M336 310h1M307 301h1M335 301h1M317 311h1M326 298h1M355 308h1M329 313h1M303 309h1M356 317h1M339 291h1M317 312h1M313 301h1M313 309h1M313 303h1M344 311h1M334 322h1M331 298h1M326 307h1M309 317h1M348 308h1M336 306h1M329 303h1M339 320h1M332 311h1M313 305h1M328 297h1M335 313h1M326 303h1M322 319h1M345 313h1M323 306h1M331 301h1M355 301h1M338 282h1M302 305h1M327 316h1M345 305h1M324 312h1M342 297h1M332 301h1M342 319h1M317 314h1M319 292h1M321 314h1M314 303h1M329 314h1M337 322h1M318 297h1M293 310h1M337 317h1M340 308h1M336 313h1M328 305h1M323 309h1M326 288h1M318 296h1M333 302h1M345 324h1M325 321h1M306 309h1M302 309h1M305 310h1M330 300h1M353 303h1M334 317h1M338 311h1M326 302h1M356 307h1M324 288h1M335 289h1M321 306h1M321 309h1M300 300h1M347 312h1M321 303h1M331 312h1M331 323h1M321 305h1M333 278h1M321 288h1M342 316h1M325 320h1M315 315h1M307 303h1M331 295h1M327 312h1M298 315h1M353 313h1M311 300h1M318 304h1M296 304h1M335 308h1M313 306h1M341 294h1M323 293h1M333 314h1M316 301h1M348 303h1M317 320h1M339 301h1M312 304h1M338 294h1M305 297h1M352 293h1M340 321h1M323 290h1M330 312h1M317 295h1M345 294h1M299 305h1M333 297h1M341 284h1M314 295h1M297 295h1M307 302h1M314 321h1M317 305h1M312 298h1M323 286h1M333 287h1M315 302h1M341 313h1M310 298h1M342 308h1M324 300h1M339 306h1M332 314h1M324 313h1M309 315h1M323 312h1M320 293h1M341 297h1M336 299h1M352 310h1M331 299h1M322 310h1M322 300h1M333 299h1M343 303h1M309 318h1M332 305h1M341 300h1M299 304h1M327 284h1M322 309h1M314 305h1M325 317h1M301 309h1M323 308h1M294 310h1M314 300h1M307 299h1M327 294h1M313 302h1M328 313h1M320 304h1M338 315h1M308 308h1M339 281h1M343 305h1M331 316h1M320 292h1M312 294h1M318 302h1M341 314h1M337 290h1M339 295h1M314 307h1M342 309h1M328 304h1M305 303h1M341 299h1M315 292h1M342 307h1M348 312h1M343 307h1M341 292h1M327 300h1M319 297h1M325 301h1M325 311h1M348 293h1M349 321h1M345 304h1M316 316h1M321 308h1M317 289h1M336 307h1M337 299h1M319 301h1M333 307h1M318 303h1M337 285h1M345 300h1M339 317h1M315 314h1M345 312h1M334 279h1M326 281h1M342 277h1M344 282h1M336 287h1M337 281h1M337 286h1M341 288h1M332 284h1M345 271h1M341 273h1M337 274h1M332 279h1M340 287h1M349 279h1M330 281h1M343 281h1M331 286h1M335 288h1M346 280h1M336 286h1M335 287h1M335 285h1M335 273h1M331 290h1M341 277h1M339 288h1M340 283h1M330 276h1M331 276h1M335 274h1M342 284h1M334 278h1M335 277h1M342 273h1M340 279h1M332 273h1M343 272h1M331 280h1M333 282h1M334 277h1M339 279h1M338 279h1M347 280h1M338 278h1M325 289h1M341 279h1M334 285h1M329 284h1M330 283h1M335 281h1M344 287h1M335 270h1M333 270h1M329 278h1M339 283h1M338 281h1M340 284h1M337 287h1M334 288h1M345 280h1M327 288h1M340 289h1M338 287h1M328 279h1M344 278h1M331 274h1M332 277h1M342 280h1M343 283h1M335 269h1M334 284h1M339 282h1M337 293h1M330 286h1M338 289h1M341 287h1M336 285h1M340 280h1M333 281h1M328 278h1M333 285h1M344 275h1M336 278h1M340 276h1M335 279h1M339 276h1M339 272h1M344 274h1M327 278h1M331 285h1M343 270h1M336 281h1M328 276h1M334 282h1M337 284h1M342 275h1M336 284h1M339 284h1M335 282h1M332 290h1M336 277h1M332 278h1M346 286h1M345 276h1M345 283h1M344 280h1M330 284h1M343 290h1M341 276h1M342 285h1M328 290h1M342 286h1M346 282h1M343 274h1M336 274h1M338 285h1M333 275h1M342 287h1M331 284h1M340 277h1M332 283h1M331 282h1M343 280h1M330 293h1M338 293h1M336 273h1M340 273h1M336 283h1M334 290h1M337 278h1M347 278h1M333 280h1M326 291h1M343 279h1M336 290h1M346 273h1M338 264h1M330 282h1M339 277h1M339 278h1M338 268h1M341 278h1M337 289h1M331 288h1M341 280h1M341 283h1M338 286h1M340 270h1M329 276h1M329 279h1M332 271h1M342 271h1M348 275h1M338 277h1M337 268h1M334 280h1M341 282h1M339 275h1M331 287h1M335 284h1M329 289h1M342 279h1M343 282h1M332 280h1M337 288h1M335 283h1M333 283h1M329 285h1M339 267h1M341 281h1M329 282h1M330 290h1M332 281h1M347 279h1M331 278h1M347 274h1M345 281h1M336 279h1M331 283h1M326 286h1M334 281h1M335 276h1M337 283h1M334 276h1M347 277h1M335 275h1M330 279h1M335 280h1M340 296h1M333 286h1M329 294h1M332 288h1M334 300h1M331 292h1M340 271h1M323 298h1M333 288h1M340 286h1M343 273h1M338 274h1M333 290h1M324 284h1M333 284h1M336 276h1M334 297h1M332 282h1M333 298h1M334 283h1M328 286h1M326 289h1M326 284h1M339 290h1M328 284h1M330 278h1M333 293h1M334 275h1M327 285h1M339 297h1M329 286h1M328 292h1M316 299h1M329 299h1M323 296h1M330 287h1M331 291h1M332 298h1M329 290h1M317 299h1M329 300h1M322 292h1M326 294h1M320 286h1M321 293h1M332 295h1M340 297h1M321 296h1M317 296h1M332 285h1M332 292h1M322 296h1M329 288h1M326 292h1M325 291h1M326 305h1M316 296h1M329 297h1M319 298h1M335 286h1M328 295h1M322 299h1M321 295h1M335 294h1M317 298h1M328 293h1M324 291h1M316 293h1M329 292h1M332 299h1M322 293h1M322 290h1M328 306h1M334 295h1M326 297h1M323 291h1M326 300h1M325 298h1M331 296h1M329 296h1M310 303h1M313 299h1M311 307h1M338 312h1M320 301h1M320 310h1M319 312h1M314 311h1M332 306h1M323 300h1M314 298h1M317 309h1M329 302h1M318 311h1M319 306h1M313 308h1M315 307h1M303 311h1M328 316h1M311 302h1M323 304h1M317 306h1M312 305h1M308 312h1M308 307h1M305 311h1M321 300h1M327 318h1M319 304h1M323 314h1M328 294h1M318 308h1M320 303h1M313 292h1M319 308h1M319 322h1M318 314h1M324 310h1M305 308h1M302 296h1M316 309h1M312 307h1M318 307h1M306 306h1M310 299h1M329 306h1M327 307h1M314 308h1M327 309h1M319 310h1M308 299h1M326 315h1M309 291h1M314 296h1M314 313h1M313 317h1M317 308h1M306 294h1M308 309h1M312 306h1M315 304h1M322 316h1M316 307h1M318 318h1M304 302h1M310 294h1M325 312h1M310 311h1M331 311h1M325 306h1M334 318h1M304 299h1M324 304h1M305 304h1M306 298h1M318 301h1M311 294h1M316 304h1M299 299h1M314 284h1M321 307h1M314 290h1M312 310h1M315 311h1M310 321h1M324 323h1M329 312h1M333 317h1M306 301h1M322 321h1M316 317h1M324 295h1M325 307h1M311 310h1M310 306h1M330 308h1M308 300h1M324 319h1M305 300h1M341 312h1M318 305h1M325 314h1M309 300h1M329 316h1M327 311h1M313 297h1M327 304h1M323 318h1M346 321h1M337 314h1M338 313h1M341 320h1M338 307h1M334 310h1M339 312h1M339 323h1M347 311h1M335 316h1M341 304h1M346 308h1M334 309h1M331 319h1M329 317h1M332 315h1M333 313h1M348 317h1M332 318h1M338 318h1M341 316h1M343 308h1M335 310h1M336 308h1M346 303h1M329 309h1M323 322h1M339 321h1M340 323h1M346 314h1M345 317h1M332 316h1M343 319h1M328 314h1M336 311h1M336 319h1M334 324h1M346 312h1M340 311h1M343 318h1M341 324h1M332 309h1M338 310h1M338 304h1M344 312h1M326 321h1M347 315h1M347 306h1M340 318h1M342 315h1M332 313h1M333 320h1M334 308h1M342 311h1M345 308h1M340 322h1M342 312h1M335 314h1M329 319h1M329 323h1M349 310h1M335 321h1M329 322h1M339 308h1M321 318h1M323 321h1M347 307h1M335 322h1M342 303h1M347 322h1M342 318h1M327 322h1M347 308h1M335 304h1M336 312h1M341 310h1M338 314h1M339 319h1M332 320h1M339 315h1M340 314h1M344 320h1M342 324h1M336 316h1M341 302h1M327 315h1M328 317h1M344 318h1M339 313h1M340 307h1M341 308h1M341 318h1M334 315h1M329 315h1M323 315h1M330 311h1M335 299h1M337 315h1M331 320h1M348 316h1M347 309h1M329 318h1M336 309h1M342 313h1M327 314h1M348 311h1M333 315h1M326 310h1M352 315h1M338 302h1M336 322h1M343 324h1M335 307h1M339 325h1M339 307h1M334 316h1M341 319h1M337 318h1M338 320h1M330 323h1M347 313h1M329 321h1M343 317h1M338 305h1M336 302h1M336 315h1" stroke="#000" stroke-width="1" stroke-opacity="0.4" transform="translate(0 .5)" filter="url(#soft)"/>
<path d="M340 313h1M342 323h1M316 313h1M313 311h1M310 300h1M339 310h1M347 323h1M320 298h1M333 319h1M304 292h1M351 298h1M322 298h1M354 312h1M339 322h1M319 299h1M334 304h1M322 304h1M325 308h1M339 316h1M308 306h1M338 306h1M313 304h1M326 319h1M330 291h1M335 305h1M334 296h1M309 306h1M325 310h1M333 312h1M322 301h1M329 311h1M344 307h1M321 294h1M310 308h1M324 299h1M319 313h1M314 312h1M336 318h1M329 308h1M319 294h1M325 300h1M331 294h1M339 285h1M337 310h1M310 315h1M321 299h1M312 318h1M338 316h1M321 298h1M314 301h1M324 307h1M325 299h1M316 302h1M335 298h1M345 315h1M317 315h1M322 288h1M341 309h1M335 319h1M337 323h1M326 306h1M332 319h1M323 307h1M341 315h1M311 301h1M336 320h1M327 291h1M329 310h1M316 306h1M334 291h1M321 304h1M332 310h1M324 311h1M325 296h1M304 307h1M325 309h1M333 316h1M316 305h1M337 308h1M330 309h1M332 286h1M336 310h1M307 301h1M335 301h1M326 298h1M329 313h1M313 301h1M313 309h1M331 298h1M336 306h1M329 303h1M339 320h1M332 311h1M313 305h1M326 303h1M322 319h1M345 313h1M323 306h1M338 282h1M302 305h1M324 312h1M332 301h1M317 314h1M321 314h1M314 303h1M329 314h1M337 317h1M336 313h1M328 305h1M326 288h1M325 321h1M330 300h1M338 311h1M326 302h1M335 289h1M347 312h1M321 303h1M331 312h1M321 305h1M333 278h1M321 288h1M342 316h1M307 303h1M331 295h1M335 308h1M313 306h1M341 294h1M333 314h1M316 301h1M312 304h1M352 293h1M340 321h1M323 290h1M317 295h1M341 284h1M314 295h1M317 305h1M315 302h1M341 313h1M310 298h1M324 300h1M339 306h1M332 314h1M324 313h1M323 312h1M320 293h1M336 299h1M322 310h1M333 299h1M343 303h1M332 305h1M341 300h1M322 309h1M314 305h1M325 317h1M323 308h1M327 294h1M328 313h1M320 304h1M338 315h1M308 308h1M339 281h1M331 316h1M318 302h1M341 314h1M314 307h1M342 309h1M328 304h1M342 307h1M343 307h1M327 300h1M325 301h1M349 321h1M316 316h1M321 308h1M336 307h1M319 301h1M333 307h1M318 303h1M337 285h1M339 317h1M315 314h1M334 279h1M326 281h1M336 287h1M337 281h1M337 286h1M332 284h1M341 273h1M337 274h1M340 287h1M330 281h1M343 281h1M331 286h1M335 288h1M346 280h1M335 287h1M341 277h1M340 283h1M331 276h1M335 274h1M335 277h1M342 273h1M340 279h1M331 280h1M333 282h1M338 279h1M338 278h1M341 279h1M330 283h1M335 281h1M344 287h1M335 270h1M339 283h1M338 281h1M340 284h1M337 287h1M334 288h1M340 289h1M344 278h1M331 274h1M332 277h1M342 280h1M343 283h1M339 282h1M330 286h1M338 289h1M336 285h1M333 281h1M328 278h1M333 285h1M344 275h1M336 278h1M340 276h1M335 279h1M339 276h1M331 285h1M336 281h1M328 276h1M334 282h1M336 284h1M339 284h1M332 278h1M346 286h1M345 276h1M345 283h1M343 290h1M342 285h1M346 282h1M336 274h1M338 285h1M333 275h1M340 277h1M332 283h1M331 282h1M338 293h1M336 273h1M340 273h1M336 283h1M334 290h1M337 278h1M333 280h1M346 273h1M330 282h1M339 277h1M339 278h1M331 288h1M341 280h1M341 283h1M338 286h1M329 276h1M329 279h1M337 268h1M334 280h1M341 282h1M331 287h1M335 284h1M329 289h1M332 280h1M337 288h1M335 283h1M329 282h1M330 290h1M331 278h1M347 274h1M345 281h1M336 279h1M331 283h1M326 286h1M334 281h1M335 276h1M334 276h1M334 300h1M331 292h1M333 288h1M340 286h1M324 284h1M332 282h1M333 298h1M328 286h1M326 289h1M328 284h1M316 299h1M329 299h1M323 296h1M330 287h1M331 291h1M332 298h1M329 290h1M317 299h1M329 300h1M332 295h1M317 296h1M322 296h1M326 292h1M325 291h1M326 305h1M316 296h1M329 297h1M335 294h1M317 298h1M326 297h1M326 300h1M331 296h1M329 296h1M311 307h1M320 310h1M319 312h1M314 311h1M332 306h1M317 309h1M329 302h1M319 306h1M311 302h1M323 304h1M308 312h1M319 304h1M318 308h1M320 303h1M318 314h1M302 296h1M316 309h1M327 309h1M319 310h1M308 299h1M306 294h1M312 306h1M322 316h1M316 307h1M310 311h1M324 304h1M318 301h1M316 304h1M321 307h1M329 312h1M333 317h1M341 312h1M318 305h1M346 321h1M337 314h1M338 313h1M341 320h1M339 312h1M339 323h1M335 316h1M346 308h1M334 309h1M333 313h1M343 308h1M335 310h1M336 308h1M346 303h1M345 317h1M336 311h1M334 324h1M340 311h1M343 318h1M341 324h1M332 309h1M338 310h1M344 312h1M326 321h1M347 315h1M332 313h1M333 320h1M334 308h1M340 322h1M329 319h1M349 310h1M339 308h1M347 307h1M335 322h1M338 314h1M339 319h1M339 315h1M336 316h1M339 313h1M340 307h1M341 308h1M341 318h1M334 315h1M337 315h1M336 309h1M342 313h1M333 315h1M343 324h1M335 307h1M339 307h1" stroke="#000" stroke-width="1" stroke-opacity="0.4" transform="translate(0 .5)" filter="url(#soft)"/>
</g>
<rect x="66.7" y="237.5" width="87.99999999999999" height="89.0" fill="none" stroke="#8a8a8a" stroke-width="1"/>
<path d="M66.7 316.2h1.6M66.7 305.8h1.6M66.7 295.5h1.6M66.7 285.1h1.6M66.7 274.8h1.6M66.7 264.4h1.6M66.7 254.1h1.6M66.7 243.7h1.6M76.9 326.5v-1.6M87.2 326.5v-1.6M97.4 326.5v-1.6M107.6 326.5v-1.6M117.9 326.5v-1.6M128.1 326.5v-1.6M138.3 326.5v-1.6M148.6 326.5v-1.6" stroke="#8a8a8a" stroke-width="1"/>
<rect x="175.4" y="237.5" width="88.9" height="89.30000000000001" fill="none" stroke="#8a8a8a" stroke-width="1"/>
<path d="M175.4 316.4h1.6M175.4 306.0h1.6M175.4 295.6h1.6M175.4 285.3h1.6M175.4 274.9h1.6M175.4 264.5h1.6M175.4 254.1h1.6M175.4 243.7h1.6M185.7 326.8v-1.6M196.1 326.8v-1.6M206.4 326.8v-1.6M216.7 326.8v-1.6M227.1 326.8v-1.6M237.4 326.8v-1.6M247.8 326.8v-1.6M258.1 326.8v-1.6" stroke="#8a8a8a" stroke-width="1"/>
<path d="M373.7 237.5V326.5H285.4V237.5" fill="none" stroke="#8a8a8a" stroke-width="1"/>
<path d="M285.4 237.5H373.7" stroke="#c8c8c8" stroke-width="1"/>
<path d="M285.4 316.2h1.6M285.4 305.8h1.6M285.4 295.5h1.6M285.4 285.1h1.6M285.4 274.8h1.6M285.4 264.4h1.6M285.4 254.1h1.6M285.4 243.7h1.6M295.7 326.5v-1.6M305.9 326.5v-1.6M316.2 326.5v-1.6M326.5 326.5v-1.6M336.7 326.5v-1.6M347.0 326.5v-1.6M357.3 326.5v-1.6M367.5 326.5v-1.6" stroke="#8a8a8a" stroke-width="1"/>
<ellipse cx="115.2" cy="285.0" rx="18" ry="11" transform="rotate(-50 115.2 285.0)" fill="none" stroke="#222" stroke-width="1.1"/>
<ellipse cx="224.4" cy="284.7" rx="17.5" ry="11.5" transform="rotate(-55 224.4 284.7)" fill="none" stroke="#222" stroke-width="1.1"/>
<ellipse cx="333.8" cy="284.6" rx="17.5" ry="11.5" transform="rotate(-55 333.8 284.6)" fill="none" stroke="#222" stroke-width="1.1"/>
<text x="91.3" y="263.0" font-size="11.4">1.1</text>
<text x="199.8" y="262.8" font-size="11.4">9.6</text>
<text x="309.8" y="262.8" font-size="11.4">2.5</text>
<g clip-path="url(#c67_354)">
<ellipse cx="74.5" cy="420.5" rx="7.2" ry="7.2" transform="rotate(0 74.5 420.5)" fill="#000" fill-opacity="0.9" filter="url(#b2_5)"/>
<ellipse cx="78" cy="412" rx="8.8" ry="13.2" transform="rotate(0 78 412)" fill="#000" fill-opacity="0.12" filter="url(#b3_6)"/>
<ellipse cx="112" cy="392.5" rx="7.2" ry="3.4" transform="rotate(0 112 392.5)" fill="#000" fill-opacity="0.75" filter="url(#b1_2)"/>
<ellipse cx="102" cy="415" rx="26.4" ry="14.4" transform="rotate(0 102 415)" fill="#000" fill-opacity="0.08" filter="url(#b5_4)"/>
<ellipse cx="78" cy="402" rx="10.8" ry="3.6" transform="rotate(0 78 402)" fill="#000" fill-opacity="0.3" filter="url(#b1_4)"/>
<path d="M74 409h1M77 420h1M75 415h1M80 417h1M73 421h1M69 419h1M73 427h1M82 421h1M74 425h1M71 419h1M73 416h1M76 416h1M73 422h1M85 410h1M74 423h1M72 425h1M77 423h1M72 419h1M73 415h1M75 414h1M69 413h1M69 424h1M72 422h1M75 409h1M82 425h1M81 425h1M79 431h1M72 416h1M81 422h1M73 425h1M72 426h1M85 419h1M73 426h1M69 412h1M74 422h1M74 420h1M79 426h1M80 419h1M74 428h1M76 427h1M72 420h1M71 420h1M76 418h1M84 412h1M79 414h1M70 414h1M70 420h1M78 428h1M76 424h1M76 420h1M74 426h1M68 415h1M82 419h1M80 416h1M76 417h1M69 423h1M77 412h1M68 418h1M71 421h1M77 430h1M76 425h1M79 412h1M81 423h1M75 419h1M68 414h1M71 418h1M80 415h1M71 411h1M75 420h1M77 415h1M75 421h1M74 414h1M76 414h1M73 418h1M85 418h1M71 425h1M75 417h1M71 423h1M69 417h1M70 423h1M72 415h1M76 409h1M84 417h1M76 413h1M77 416h1M84 415h1M82 414h1M78 427h1M71 415h1M78 421h1M77 424h1M72 424h1M69 418h1M74 421h1M73 417h1M71 422h1M69 422h1M68 421h1M68 426h1M70 413h1M79 424h1M77 414h1M80 424h1M71 407h1M70 419h1M82 422h1M77 426h1M70 422h1M84 424h1M84 426h1M73 429h1M77 429h1M73 424h1M73 420h1M75 422h1M77 413h1M72 414h1M75 425h1M76 419h1M81 415h1M74 415h1M71 414h1M84 434h1M75 424h1M74 418h1M78 414h1M70 424h1M81 420h1M79 423h1M70 425h1M81 417h1M74 427h1M71 424h1M86 420h1M70 417h1M79 416h1M72 417h1M80 425h1M70 418h1M75 411h1M74 417h1M80 429h1M68 425h1M81 418h1M75 427h1M76 421h1M74 424h1M70 427h1M72 429h1M82 424h1M74 419h1M76 426h1M79 428h1M72 428h1M75 428h1M70 421h1M74 408h1M68 420h1M75 423h1M71 427h1M72 431h1M79 420h1M81 421h1M72 413h1M84 422h1M78 418h1M75 418h1M79 419h1M83 423h1M72 410h1M78 420h1M76 415h1M73 402h1M71 428h1M79 422h1M80 418h1M78 419h1M93 418h1M78 416h1M69 420h1M73 423h1M82 417h1M76 410h1M78 432h1M71 426h1M70 415h1M68 416h1M82 429h1M71 433h1M74 407h1M68 424h1M73 419h1M68 422h1M79 413h1M78 422h1M71 417h1M80 420h1M80 414h1M80 427h1M68 423h1M78 413h1M76 408h1M73 405h1M72 418h1M77 418h1M69 426h1M85 422h1M81 427h1M76 423h1M73 414h1M77 421h1M78 425h1M68 419h1M77 407h1M78 424h1M86 408h1M70 410h1M79 425h1M72 407h1M86 425h1M71 409h1M74 412h1M70 429h1M80 422h1M80 412h1M83 418h1M83 428h1M87 422h1M73 412h1M80 413h1M78 426h1M72 403h1M69 421h1M85 423h1M79 430h1M83 417h1M74 413h1M80 421h1M69 427h1M76 422h1M81 412h1M83 419h1M85 426h1M79 417h1M70 408h1M74 410h1M77 427h1M74 416h1M89 420h1M89 408h1M72 421h1M68 428h1M75 410h1M75 416h1M68 427h1M78 415h1M69 416h1M79 418h1M69 411h1M69 414h1M75 426h1M68 409h1M78 417h1M81 411h1M82 420h1M77 425h1M71 413h1M70 416h1M75 413h1M83 422h1M84 418h1M86 419h1M80 406h1M84 420h1M81 419h1M79 408h1M85 405h1M92 401h1M88 409h1M96 417h1M69 409h1M82 383h1M69 404h1M85 404h1M69 410h1M84 413h1M74 429h1M88 392h1M68 400h1M81 396h1M87 414h1M75 396h1M89 407h1M78 397h1M80 434h1M83 414h1M86 404h1M86 410h1M74 398h1M83 401h1M78 423h1M72 400h1M84 407h1M74 390h1M77 406h1M79 432h1M73 428h1M79 407h1M92 414h1M80 410h1M83 416h1M91 413h1M69 425h1M79 421h1M76 387h1M88 423h1M89 398h1M81 428h1M89 403h1M76 407h1M73 404h1M73 398h1M68 406h1M83 406h1M90 412h1M71 401h1M71 385h1M87 398h1M85 406h1M80 407h1M77 417h1M76 401h1M95 385h1M78 429h1M80 395h1M76 412h1M73 397h1M93 411h1M77 393h1M82 410h1M73 403h1M87 424h1M78 387h1M83 421h1M70 405h1M78 406h1M81 413h1M75 412h1M96 410h1M86 421h1M88 432h1M82 400h1M75 429h1M94 427h1M96 420h1M80 423h1M84 402h1M87 405h1M73 410h1M69 382h1M78 401h1M78 399h1M85 401h1M68 413h1M84 401h1M82 412h1M82 390h1M78 409h1M79 404h1M77 386h1M77 428h1M80 428h1M72 394h1M85 424h1M76 406h1M92 419h1M74 403h1M94 415h1M69 390h1M74 411h1M85 400h1M75 395h1M68 388h1M69 391h1M82 435h1M75 397h1M81 405h1M88 425h1M85 389h1M92 426h1M87 402h1M89 434h1M76 393h1M79 429h1M85 427h1M85 414h1M89 421h1M85 402h1M72 411h1M89 399h1M84 411h1M75 404h1M82 402h1M82 397h1M72 423h1M79 415h1M72 398h1M94 411h1M79 392h1M70 437h1M73 413h1M68 405h1M97 400h1M76 396h1M90 380h1M78 434h1M83 398h1M80 393h1M88 419h1M86 418h1M100 428h1M73 389h1M85 417h1M80 408h1M77 404h1M88 428h1M79 406h1M88 417h1M76 404h1M73 406h1M79 411h1M94 418h1M80 411h1M71 402h1M81 394h1M91 431h1M87 426h1M71 406h1M83 413h1M86 409h1M71 410h1M68 397h1M86 424h1M88 407h1M87 394h1M71 416h1M84 395h1M77 396h1M87 421h1M77 377h1M69 379h1M114 390h1M115 392h1M117 397h1M111 396h1M111 394h1M113 390h1M113 391h1M115 389h1M106 394h1M115 394h1M115 395h1M114 395h1M108 393h1M108 389h1M112 397h1M116 393h1M112 389h1M112 392h1M121 390h1M111 390h1M113 388h1M113 392h1M113 399h1M111 393h1M112 395h1M124 397h1M114 389h1M114 388h1M107 391h1M106 392h1M110 390h1M119 394h1M109 393h1M108 391h1M117 388h1M114 397h1M99 398h1M101 386h1M100 389h1M108 387h1M107 392h1M115 397h1M110 393h1M116 389h1M113 393h1M121 395h1M105 396h1M108 390h1M118 391h1M102 394h1M114 394h1M104 394h1M108 394h1M105 390h1M101 390h1M118 393h1M108 396h1M113 394h1M114 392h1M112 393h1M118 394h1M117 389h1M101 393h1M111 392h1M120 393h1M116 394h1M121 398h1M113 396h1M98 390h1M102 396h1M114 393h1M114 391h1M100 393h1M111 391h1M107 389h1M115 396h1M104 389h1M106 393h1M108 395h1M110 392h1M121 397h1M105 392h1M106 391h1M105 391h1M104 387h1M101 395h1M120 389h1M113 387h1M109 392h1M112 388h1M110 394h1M115 393h1M113 395h1M124 394h1M116 396h1M110 389h1M104 395h1M102 391h1M103 389h1M112 394h1M107 388h1M105 395h1M106 390h1M109 397h1M106 389h1M119 392h1M118 389h1M115 391h1M109 389h1M111 388h1M117 392h1M103 392h1M123 391h1M116 392h1M108 392h1M103 385h1M103 396h1M116 397h1M107 390h1M121 392h1M117 395h1M115 390h1M110 398h1M127 390h1M112 390h1M109 391h1M110 395h1M121 389h1M119 395h1M111 395h1M96 392h1M107 394h1M103 393h1M112 391h1M102 387h1M122 391h1M102 393h1M114 384h1M99 393h1M117 393h1M102 389h1M113 397h1M119 397h1M116 391h1M104 393h1M109 395h1M117 384h1M109 394h1M122 393h1M110 387h1M102 392h1M109 390h1M120 394h1M119 396h1M108 388h1M123 393h1M118 390h1M106 396h1M115 398h1M123 389h1M119 389h1M99 390h1M113 389h1M117 394h1M104 391h1M103 400h1M107 393h1M89 416h1M94 400h1M106 397h1M81 414h1M116 432h1M128 425h1M112 399h1M82 404h1M89 413h1M80 409h1M126 409h1M98 410h1M149 426h1M139 407h1M118 417h1M99 404h1M134 389h1M105 405h1M87 411h1M127 423h1M104 439h1M98 407h1M88 403h1M95 414h1M92 428h1M90 427h1M128 417h1M90 395h1M89 404h1M102 433h1M143 418h1M104 413h1M107 412h1M140 405h1M103 407h1M122 436h1M116 417h1M102 421h1M91 434h1M140 426h1M119 410h1M141 398h1M85 440h1M92 405h1M85 425h1M134 420h1M111 433h1M139 401h1M112 401h1M85 428h1M129 420h1M97 404h1M147 416h1M103 427h1M106 399h1M103 420h1M106 428h1M122 421h1M99 416h1M145 396h1M127 421h1M88 415h1M116 399h1M107 422h1M133 418h1M84 397h1M99 414h1M141 424h1M135 401h1M116 423h1M79 405h1M108 407h1M118 408h1M106 415h1M104 388h1M99 433h1M108 401h1M103 402h1M91 416h1M69 428h1M87 420h1M117 404h1M111 417h1M112 410h1M124 424h1M136 428h1M112 427h1M88 416h1M110 414h1M125 404h1M114 406h1M112 404h1M97 426h1M82 416h1M117 414h1M97 415h1M119 436h1M109 428h1M92 421h1M96 427h1M97 423h1M88 410h1M130 408h1M95 429h1M110 418h1M117 410h1M134 415h1M116 408h1M90 420h1M122 408h1M131 413h1M137 401h1M96 423h1M102 409h1M117 426h1M95 424h1M94 406h1M131 409h1M93 424h1M98 416h1M123 413h1M89 400h1M127 397h1M98 420h1M138 396h1M106 408h1M138 419h1M135 415h1M126 419h1M89 426h1M96 389h1M101 401h1M114 433h1M109 422h1M90 438h1M105 414h1M113 401h1M120 399h1M117 399h1M99 430h1M98 402h1M119 404h1M88 402h1M112 422h1M132 412h1M89 423h1M137 424h1M107 417h1M102 406h1M132 416h1M135 404h1M94 413h1M95 402h1M103 431h1M91 424h1M96 412h1M87 423h1M118 413h1M86 398h1M100 421h1M92 418h1M83 391h1M114 409h1M115 407h1M95 406h1M95 421h1M101 420h1M98 406h1M80 388h1M114 427h1M79 403h1M82 418h1M103 411h1M100 394h1M98 412h1M111 406h1M89 417h1M145 403h1M102 403h1M131 416h1M105 426h1M129 406h1M126 389h1M149 412h1M83 415h1M104 427h1M126 399h1M117 424h1M89 392h1M105 409h1M135 412h1M117 419h1M105 400h1M85 416h1M99 413h1M118 415h1M117 415h1M109 408h1M120 422h1M84 427h1M103 416h1M87 409h1M87 419h1M86 414h1M102 416h1M103 379h1M124 414h1M80 437h1M102 423h1M127 401h1M125 413h1M83 385h1M91 402h1M102 401h1M117 408h1M91 438h1M118 407h1M85 412h1M107 397h1M130 427h1M95 403h1M102 407h1M112 414h1M129 395h1M88 418h1M90 409h1M76 437h1M97 422h1M84 409h1M99 434h1M131 439h1M134 432h1M96 406h1M113 407h1M82 411h1M120 412h1M123 409h1M108 402h1M129 390h1M107 421h1M95 410h1M114 441h1M102 427h1M106 409h1M97 405h1M127 441h1M112 396h1M132 439h1M97 419h1M124 416h1M128 421h1M88 408h1M129 418h1M97 424h1M102 426h1M136 416h1M88 400h1M139 419h1M88 413h1M107 410h1M69 439h1M103 388h1M88 414h1M104 401h1M125 421h1M96 400h1M107 423h1M100 434h1M131 395h1M94 435h1M111 429h1M93 415h1M100 431h1M97 430h1M116 420h1M122 415h1M100 409h1M105 429h1M89 427h1M90 410h1M89 436h1M70 399h1M112 407h1M81 399h1M86 417h1M135 418h1M115 432h1M106 418h1M101 414h1M134 410h1M106 411h1M103 434h1M127 408h1M119 414h1M90 402h1M99 384h1M93 409h1M134 394h1M120 410h1M118 406h1M110 424h1M98 413h1M102 410h1M123 400h1M98 417h1M102 422h1M117 407h1M116 425h1M101 407h1M134 429h1M118 409h1M104 404h1M108 421h1M104 438h1M81 430h1M93 425h1M132 396h1M129 417h1M121 415h1M99 399h1M102 420h1M92 431h1M91 422h1M130 406h1M127 413h1M137 411h1M125 426h1M102 440h1M100 407h1M103 414h1M93 412h1M117 411h1M94 407h1M103 435h1M110 410h1M140 410h1M95 440h1M117 429h1M116 421h1M150 402h1M70 391h1M97 383h1M75 389h1M83 373h1M95 375h1M95 395h1M72 386h1M94 386h1M110 377h1M98 368h1M81 404h1M71 372h1M76 383h1M78 382h1M100 419h1M89 386h1M87 378h1M87 389h1M85 380h1M75 388h1M95 404h1M96 396h1M89 371h1M85 398h1M89 380h1M77 394h1M98 374h1M106 373h1M78 389h1M85 407h1M80 404h1M93 390h1M96 394h1M83 431h1M72 384h1M86 387h1M110 383h1M71 390h1M79 383h1M95 394h1M97 375h1M91 390h1M83 374h1M92 396h1M89 428h1M99 362h1M91 393h1M86 383h1M68 398h1M86 402h1M79 382h1M93 392h1M96 376h1M91 389h1M81 390h1M78 390h1M87 381h1M97 391h1M71 396h1M90 370h1M87 384h1M87 387h1M90 400h1M98 394h1M99 401h1M78 380h1M97 392h1M95 399h1M83 387h1M77 383h1M114 387h1M80 386h1M76 390h1M69 378h1M76 382h1M77 382h1M76 380h1M77 385h1M106 402h1M76 371h1M97 389h1M88 406h1M83 389h1M85 382h1M75 384h1M91 406h1M85 386h1M98 397h1M92 388h1M79 396h1M82 406h1M73 394h1M84 376h1M79 375h1M79 386h1M115 375h1M91 383h1M88 385h1M97 366h1M82 385h1M90 390h1M89 414h1M78 407h1M81 408h1M88 381h1M101 402h1M82 393h1M70 397h1M86 377h1M102 369h1M90 386h1M78 393h1M102 397h1M72 391h1M89 405h1M83 392h1M87 399h1M88 390h1M71 394h1M107 382h1M84 389h1M86 401h1M85 420h1M88 421h1M88 387h1M68 381h1M79 394h1M84 369h1M85 390h1M80 394h1M75 405h1M94 390h1M95 388h1M83 379h1M103 387h1M74 401h1M75 401h1M81 402h1M93 403h1M93 402h1M93 401h1M89 402h1M92 399h1M69 406h1M76 403h1M87 403h1M71 398h1M71 399h1M82 398h1M94 399h1M77 401h1M88 404h1M74 404h1M78 404h1M94 395h1M84 400h1M93 406h1M88 401h1M69 399h1M80 400h1M73 401h1M93 399h1M76 402h1M82 401h1M80 402h1M78 405h1M81 401h1M75 400h1M71 403h1M86 396h1M78 398h1M68 401h1M70 403h1M80 405h1M79 401h1M82 407h1M70 400h1M77 399h1M80 403h1M79 397h1M87 401h1M72 402h1M68 404h1M80 399h1M70 401h1M96 399h1M92 400h1M75 402h1M78 403h1M94 402h1M93 407h1M77 402h1M76 400h1M78 400h1M73 399h1M74 394h1M76 399h1M96 402h1M83 399h1M72 401h1M70 404h1M69 400h1M77 403h1M76 398h1M86 397h1M81 400h1M69 407h1M68 402h1M81 398h1M83 403h1M71 404h1M74 402h1M72 399h1M81 406h1M91 400h1M71 400h1M83 397h1M79 395h1M72 404h1M79 402h1M86 395h1M92 404h1M152 372h1M124 363h1M137 371h1M115 363h1M122 389h1M98 375h1M143 409h1M95 437h1M149 416h1M144 406h1M72 374h1M118 362h1M134 386h1M122 375h1M143 430h1M138 380h1M81 373h1M116 368h1M104 418h1M128 422h1M134 401h1M131 386h1M115 358h1M142 411h1M123 372h1M125 391h1M77 387h1M137 377h1M122 405h1M118 433h1M99 395h1M132 405h1M108 365h1M124 400h1M88 395h1M103 406h1M129 402h1M120 373h1M135 436h1M122 439h1M133 376h1M96 388h1M127 437h1M134 406h1M104 406h1M138 371h1M124 367h1M117 413h1M124 376h1M85 369h1M143 373h1M145 390h1M143 381h1" stroke="#000" stroke-width="1" stroke-opacity="0.45" transform="translate(0 .5)" filter="url(#soft)"/>
<path d="M74 409h1M77 420h1M80 417h1M73 421h1M69 419h1M73 427h1M82 421h1M74 425h1M71 419h1M73 416h1M76 416h1M73 422h1M85 410h1M74 423h1M72 425h1M77 423h1M72 419h1M73 415h1M75 414h1M69 413h1M69 424h1M75 409h1M81 425h1M72 416h1M81 422h1M73 425h1M85 419h1M73 426h1M69 412h1M74 422h1M74 420h1M79 426h1M80 419h1M74 428h1M76 427h1M72 420h1M71 420h1M76 418h1M84 412h1M70 414h1M70 420h1M78 428h1M76 424h1M76 420h1M74 426h1M68 415h1M80 416h1M76 417h1M77 412h1M68 418h1M71 421h1M79 412h1M81 423h1M75 419h1M71 418h1M80 415h1M71 411h1M75 420h1M75 421h1M74 414h1M76 414h1M73 418h1M75 417h1M71 423h1M69 417h1M70 423h1M72 415h1M76 409h1M84 417h1M76 413h1M77 416h1M82 414h1M78 427h1M78 421h1M77 424h1M72 424h1M69 418h1M74 421h1M71 422h1M68 421h1M68 426h1M70 413h1M79 424h1M77 414h1M80 424h1M71 407h1M70 419h1M82 422h1M77 426h1M70 422h1M84 424h1M73 429h1M77 429h1M73 424h1M73 420h1M75 422h1M77 413h1M72 414h1M75 425h1M76 419h1M74 415h1M71 414h1M75 424h1M74 418h1M78 414h1M81 420h1M79 423h1M81 417h1M74 427h1M71 424h1M70 417h1M79 416h1M72 417h1M80 425h1M70 418h1M75 411h1M74 417h1M68 425h1M81 418h1M75 427h1M76 421h1M70 427h1M72 429h1M74 419h1M76 426h1M79 428h1M72 428h1M70 421h1M68 420h1M75 423h1M72 413h1M78 418h1M75 418h1M79 419h1M83 423h1M72 410h1M78 420h1M76 415h1M73 402h1M71 428h1M79 422h1M78 419h1M69 420h1M73 423h1M71 426h1M70 415h1M68 416h1M74 407h1M73 419h1M68 422h1M79 413h1M78 422h1M71 417h1M80 420h1M80 414h1M78 413h1M76 408h1M72 418h1M77 418h1M76 423h1M73 414h1M77 421h1M68 419h1M86 408h1M70 410h1M79 425h1M80 422h1M80 412h1M83 418h1M72 403h1M83 417h1M74 413h1M69 427h1M76 422h1M79 417h1M70 408h1M74 416h1M75 410h1M75 416h1M78 415h1M69 416h1M79 418h1M69 414h1M75 426h1M68 409h1M71 413h1M86 419h1M80 406h1M79 408h1M85 405h1M69 404h1M69 410h1M74 429h1M88 392h1M83 414h1M86 404h1M86 410h1M83 401h1M72 400h1M84 407h1M77 406h1M79 407h1M92 414h1M80 410h1M91 413h1M88 423h1M89 403h1M76 407h1M73 404h1M73 398h1M85 406h1M76 401h1M87 424h1M78 387h1M81 413h1M96 410h1M82 400h1M96 420h1M80 423h1M84 402h1M73 410h1M78 401h1M78 399h1M85 401h1M68 413h1M84 401h1M78 409h1M79 404h1M80 428h1M72 394h1M85 424h1M76 406h1M92 419h1M74 403h1M85 400h1M85 427h1M85 402h1M89 399h1M82 402h1M72 398h1M68 405h1M76 396h1M83 398h1M86 418h1M77 404h1M94 418h1M71 402h1M86 409h1M114 390h1M115 392h1M111 394h1M113 390h1M113 391h1M115 389h1M106 394h1M115 394h1M115 395h1M114 395h1M108 393h1M108 389h1M116 393h1M112 389h1M112 392h1M111 390h1M113 392h1M111 393h1M112 395h1M114 388h1M107 391h1M106 392h1M110 390h1M119 394h1M109 393h1M108 391h1M108 387h1M107 392h1M110 393h1M113 393h1M105 396h1M108 390h1M118 391h1M102 394h1M114 394h1M104 394h1M108 394h1M105 390h1M118 393h1M108 396h1M113 394h1M114 392h1M112 393h1M118 394h1M117 389h1M101 393h1M111 392h1M120 393h1M116 394h1M114 393h1M100 393h1M111 391h1M115 396h1M106 393h1M108 395h1M110 392h1M105 392h1M106 391h1M105 391h1M104 387h1M101 395h1M120 389h1M109 392h1M112 388h1M110 394h1M115 393h1M113 395h1M116 396h1M112 394h1M107 388h1M106 390h1M106 389h1M119 392h1M118 389h1M109 389h1M117 392h1M116 392h1M108 392h1M107 390h1M117 395h1M115 390h1M109 391h1M110 395h1M122 391h1M117 393h1M109 395h1M109 394h1M109 390h1M82 404h1M89 413h1M80 409h1M99 404h1M98 407h1M128 417h1M89 404h1M85 425h1M106 428h1M116 423h1M88 410h1M98 416h1M123 413h1M89 400h1M106 408h1M102 406h1M96 412h1M86 398h1M83 391h1M115 407h1M95 406h1M79 403h1M129 406h1M117 424h1M112 414h1M90 409h1M97 422h1M100 409h1M81 399h1M90 402h1M99 399h1M81 404h1M92 396h1M86 402h1M91 406h1M82 406h1M87 399h1M88 390h1M86 401h1M74 401h1M81 402h1M69 406h1M76 403h1M87 403h1M77 401h1M93 406h1M88 401h1M80 400h1M73 401h1M82 401h1M81 401h1M75 400h1M71 403h1M70 403h1M80 405h1M79 401h1M70 400h1M80 403h1M72 402h1M75 402h1M77 402h1M79 402h1M131 386h1" stroke="#000" stroke-width="1" stroke-opacity="0.45" transform="translate(0 .5)" filter="url(#soft)"/>
<path d="M74 409h1M77 420h1M80 417h1M73 421h1M69 419h1M82 421h1M74 425h1M71 419h1M76 416h1M73 422h1M72 425h1M77 423h1M72 419h1M73 415h1M75 414h1M69 424h1M81 425h1M72 416h1M81 422h1M73 425h1M73 426h1M74 422h1M74 420h1M80 419h1M74 428h1M72 420h1M71 420h1M76 418h1M84 412h1M70 414h1M70 420h1M78 428h1M76 424h1M76 420h1M80 416h1M76 417h1M77 412h1M71 421h1M79 412h1M75 419h1M80 415h1M71 411h1M75 420h1M75 421h1M74 414h1M76 414h1M75 417h1M71 423h1M69 417h1M70 423h1M72 415h1M76 409h1M84 417h1M76 413h1M82 414h1M77 424h1M72 424h1M74 421h1M71 422h1M70 413h1M79 424h1M80 424h1M71 407h1M70 419h1M82 422h1M77 426h1M73 429h1M73 420h1M75 422h1M75 425h1M76 419h1M74 415h1M71 414h1M75 424h1M74 418h1M78 414h1M74 427h1M70 417h1M79 416h1M72 417h1M70 418h1M75 411h1M74 417h1M81 418h1M76 421h1M70 427h1M76 426h1M70 421h1M68 420h1M75 418h1M72 410h1M78 420h1M76 415h1M79 422h1M78 419h1M69 420h1M73 423h1M68 416h1M74 407h1M73 419h1M78 422h1M71 417h1M80 420h1M78 413h1M72 418h1M77 418h1M76 423h1M68 419h1M80 412h1M83 418h1M74 413h1M76 422h1M70 408h1M74 416h1M69 416h1M85 405h1M72 400h1M77 406h1M79 407h1M85 406h1M76 401h1M87 424h1M82 400h1M78 401h1M78 399h1M85 401h1M68 413h1M79 404h1M72 394h1M74 403h1M85 427h1M85 402h1M68 405h1M71 402h1M114 390h1M115 392h1M111 394h1M113 391h1M115 389h1M106 394h1M115 394h1M108 393h1M113 392h1M111 393h1M112 395h1M106 392h1M109 393h1M110 393h1M113 393h1M108 390h1M108 394h1M105 390h1M108 396h1M113 394h1M112 393h1M118 394h1M111 392h1M120 393h1M116 394h1M114 393h1M111 391h1M110 392h1M106 391h1M120 389h1M109 392h1M110 394h1M115 393h1M112 394h1M106 390h1M118 389h1M117 392h1M117 395h1M115 390h1M109 391h1M110 395h1M109 394h1M109 390h1M83 391h1M81 399h1M92 396h1M86 402h1M81 402h1M87 403h1M80 400h1M82 401h1" stroke="#000" stroke-width="1" stroke-opacity="0.45" transform="translate(0 .5)" filter="url(#soft)"/>
</g>
<g clip-path="url(#c176_352)">
<ellipse cx="186" cy="402" rx="16.5" ry="12.0" transform="rotate(0 186 402)" fill="#000" fill-opacity="1.0" filter="url(#b3_6)"/>
<ellipse cx="217" cy="394.5" rx="14.0" ry="5.6" transform="rotate(-5 217 394.5)" fill="#000" fill-opacity="1.0" filter="url(#b1_8)"/>
<ellipse cx="188" cy="419" rx="12.0" ry="10.8" transform="rotate(0 188 419)" fill="#000" fill-opacity="0.4" filter="url(#b4_0)"/>
<ellipse cx="215" cy="418" rx="21.6" ry="16.8" transform="rotate(0 215 418)" fill="#000" fill-opacity="0.08" filter="url(#b6_3)"/>
<path d="M188 415h1M190 390h1M192 413h1M205 392h1M181 408h1M181 405h1M192 396h1M190 402h1M182 394h1M183 404h1M183 407h1M191 392h1M186 410h1M192 399h1M188 411h1M185 402h1M189 412h1M196 417h1M180 410h1M188 413h1M180 407h1M193 395h1M186 400h1M180 396h1M186 403h1M184 404h1M178 394h1M190 404h1M191 405h1M178 416h1M192 393h1M196 407h1M187 402h1M189 411h1M193 388h1M179 412h1M209 393h1M198 390h1M199 400h1M198 406h1M186 399h1M191 398h1M193 405h1M181 392h1M185 387h1M203 410h1M181 391h1M199 398h1M200 389h1M196 408h1M188 407h1M181 394h1M179 401h1M200 404h1M182 409h1M197 397h1M191 406h1M187 409h1M187 403h1M197 387h1M216 405h1M210 403h1M200 406h1M191 403h1M184 414h1M195 415h1M192 415h1M198 401h1M189 389h1M189 396h1M188 403h1M193 397h1M186 416h1M180 408h1M177 390h1M189 416h1M193 406h1M191 399h1M196 390h1M204 393h1M181 395h1M183 399h1M190 403h1M200 398h1M184 411h1M187 398h1M188 392h1M181 396h1M191 409h1M187 394h1M209 403h1M185 396h1M193 402h1M192 401h1M197 405h1M182 402h1M197 402h1M178 403h1M192 405h1M183 408h1M188 414h1M203 408h1M188 400h1M184 396h1M186 391h1M186 407h1M196 392h1M191 411h1M194 411h1M195 401h1M179 392h1M189 400h1M185 408h1M196 400h1M184 390h1M198 400h1M186 405h1M179 408h1M188 399h1M195 405h1M186 402h1M190 391h1M187 414h1M190 394h1M189 388h1M184 386h1M180 386h1M178 398h1M196 404h1M205 412h1M180 394h1M196 396h1M189 399h1M196 405h1M214 407h1M203 397h1M179 398h1M198 396h1M178 412h1M192 398h1M178 400h1M187 410h1M184 391h1M180 415h1M195 403h1M183 396h1M193 390h1M196 402h1M194 389h1M182 397h1M180 405h1M197 399h1M177 412h1M189 392h1M184 400h1M192 390h1M195 394h1M202 400h1M203 417h1M207 403h1M200 412h1M199 401h1M200 409h1M189 394h1M194 399h1M211 399h1M185 401h1M181 414h1M178 397h1M203 404h1M179 395h1M180 399h1M184 413h1M193 407h1M183 395h1M189 407h1M184 398h1M200 399h1M184 412h1M183 414h1M185 413h1M194 402h1M196 397h1M207 396h1M189 409h1M202 393h1M182 406h1M190 395h1M180 411h1M189 413h1M203 390h1M186 397h1M180 398h1M189 395h1M197 412h1M191 389h1M196 401h1M186 395h1M190 411h1M182 404h1M189 398h1M182 401h1M201 393h1M182 400h1M197 407h1M180 402h1M178 406h1M190 412h1M182 399h1M201 399h1M185 385h1M178 417h1M204 383h1M203 399h1M194 407h1M190 414h1M184 406h1M213 402h1M187 392h1M204 410h1M202 403h1M185 399h1M187 407h1M199 414h1M195 390h1M198 398h1M182 407h1M177 388h1M189 397h1M196 389h1M190 396h1M190 410h1M184 402h1M183 392h1M197 398h1M190 398h1M194 403h1M185 407h1M198 399h1M188 401h1M188 393h1M178 407h1M198 403h1M182 405h1M178 414h1M185 405h1M193 403h1M192 395h1M178 396h1M206 400h1M197 394h1M200 401h1M198 392h1M182 386h1M187 417h1M188 390h1M177 395h1M179 402h1M185 394h1M222 398h1M193 385h1M183 389h1M195 389h1M205 409h1M183 410h1M197 400h1M180 404h1M198 414h1M184 407h1M212 407h1M202 408h1M195 411h1M201 396h1M199 396h1M182 395h1M189 387h1M187 406h1M226 401h1M181 406h1M184 392h1M182 392h1M204 392h1M205 396h1M203 402h1M195 402h1M180 401h1M193 404h1M199 419h1M193 408h1M194 406h1M184 397h1M193 391h1M184 395h1M192 412h1M178 415h1M194 397h1M194 400h1M198 391h1M178 399h1M186 398h1M208 397h1M181 390h1M181 419h1M188 394h1M196 398h1M179 413h1M190 409h1M179 393h1M184 409h1M181 410h1M208 400h1M208 405h1M192 418h1M190 400h1M197 393h1M196 412h1M182 410h1M182 414h1M195 386h1M190 407h1M186 389h1M188 422h1M181 413h1M209 402h1M187 395h1M202 396h1M195 406h1M191 404h1M199 410h1M182 393h1M188 402h1M207 411h1M179 407h1M187 393h1M190 401h1M181 401h1M181 398h1M184 389h1M183 401h1M185 388h1M181 404h1M188 391h1M185 410h1M178 393h1M203 403h1M210 407h1M183 409h1M193 413h1M188 408h1M192 386h1M193 394h1M183 400h1M179 405h1M198 402h1M201 407h1M183 385h1M178 401h1M196 403h1M186 414h1M185 404h1M184 381h1M209 406h1M194 396h1M195 392h1M205 398h1M180 395h1M183 384h1M187 397h1M183 381h1M198 413h1M178 404h1M177 387h1M193 398h1M203 396h1M179 382h1M197 389h1M195 382h1M205 397h1M181 409h1M187 399h1M181 403h1M187 388h1M195 409h1M179 410h1M199 406h1M184 401h1M178 392h1M195 414h1M188 410h1M188 418h1M192 391h1M178 395h1M187 384h1M191 407h1M199 390h1M182 403h1M186 396h1M185 412h1M201 397h1M182 416h1M185 403h1M186 422h1M183 398h1M189 402h1M177 398h1M182 380h1M217 394h1M197 408h1M200 407h1M184 408h1M192 394h1M202 410h1M194 414h1M200 394h1M207 416h1M179 394h1M190 399h1M188 398h1M185 406h1M186 401h1M182 390h1M183 412h1M185 397h1M181 412h1M196 409h1M211 379h1M189 410h1M207 385h1M200 386h1M188 405h1M210 397h1M193 400h1M209 409h1M196 406h1M197 395h1M182 413h1M191 408h1M185 400h1M203 392h1M205 395h1M180 409h1M199 391h1M187 396h1M184 403h1M191 386h1M183 390h1M178 390h1M207 388h1M192 392h1M199 397h1M192 404h1M181 402h1M180 400h1M208 404h1M178 402h1M204 397h1M180 390h1M212 398h1M204 411h1M193 399h1M197 401h1M200 397h1M191 397h1M211 383h1M186 415h1M199 404h1M200 410h1M196 414h1M201 402h1M185 411h1M192 403h1M187 404h1M187 400h1M192 406h1M199 393h1M193 396h1M179 406h1M200 419h1M187 405h1M178 410h1M203 398h1M208 407h1M182 421h1M179 400h1M184 405h1M194 408h1M180 384h1M186 404h1M200 385h1M192 400h1M189 406h1M190 387h1M194 404h1M184 399h1M197 404h1M194 405h1M195 398h1M200 402h1M199 388h1M191 396h1M181 397h1M202 405h1M210 413h1M189 408h1M207 408h1M191 412h1M202 404h1M188 412h1M202 398h1M209 401h1M201 408h1M200 395h1M199 387h1M191 415h1M194 392h1M191 410h1M191 419h1M189 403h1M186 406h1M195 418h1M209 396h1M188 406h1M199 415h1M195 391h1M226 393h1M234 393h1M210 394h1M219 398h1M211 395h1M223 392h1M218 398h1M222 397h1M211 389h1M208 393h1M221 392h1M220 392h1M228 395h1M220 391h1M234 394h1M226 395h1M213 393h1M214 398h1M221 387h1M222 387h1M211 400h1M217 393h1M214 394h1M203 391h1M215 386h1M224 396h1M206 391h1M208 394h1M205 389h1M224 395h1M203 395h1M218 400h1M230 399h1M213 399h1M209 391h1M238 388h1M229 391h1M211 402h1M197 396h1M221 390h1M205 391h1M237 385h1M205 393h1M207 393h1M215 391h1M219 388h1M215 397h1M225 388h1M201 403h1M224 385h1M225 394h1M221 400h1M215 396h1M212 400h1M223 398h1M220 388h1M216 394h1M219 390h1M210 392h1M204 396h1M209 400h1M210 387h1M217 398h1M227 390h1M211 393h1M221 389h1M214 392h1M206 395h1M204 394h1M221 396h1M209 387h1M205 387h1M217 400h1M224 402h1M220 404h1M235 395h1M234 390h1M232 395h1M224 394h1M211 397h1M224 391h1M230 400h1M203 394h1M218 397h1M222 396h1M219 391h1M223 393h1M217 387h1M219 392h1M235 398h1M237 390h1M221 393h1M209 397h1M210 404h1M212 394h1M213 400h1M223 390h1M220 387h1M214 401h1M211 390h1M209 389h1M220 395h1M215 383h1M214 391h1M206 390h1M194 391h1M206 398h1M212 395h1M217 392h1M221 388h1M207 389h1M232 399h1M216 395h1M212 393h1M236 393h1M216 392h1M220 396h1M223 394h1M211 396h1M208 390h1M225 387h1M208 399h1M201 395h1M210 389h1M218 393h1M227 386h1M213 398h1M222 394h1M213 392h1M202 391h1M196 395h1M220 402h1M220 400h1M225 397h1M213 391h1M232 393h1M231 389h1M235 390h1M228 399h1M217 390h1M232 392h1M204 390h1M211 385h1M231 396h1M213 385h1M222 386h1M212 388h1M230 391h1M208 392h1M216 391h1M210 401h1M232 394h1M229 390h1M235 388h1M222 392h1M239 389h1M224 401h1M224 392h1M218 389h1M211 398h1M229 399h1M232 389h1M221 391h1M210 391h1M214 396h1M227 389h1M224 390h1M231 393h1M224 393h1M239 396h1M219 395h1M239 393h1M218 390h1M226 391h1M215 403h1M211 388h1M209 392h1M215 393h1M227 396h1M208 395h1M212 399h1M202 397h1M212 396h1M201 392h1M206 393h1M195 393h1M228 382h1M225 395h1M225 396h1M219 396h1M219 394h1M219 397h1M215 394h1M234 400h1M218 391h1M230 387h1M232 398h1M206 396h1M209 395h1M207 397h1M225 393h1M204 398h1M218 396h1M229 396h1M222 388h1M199 395h1M227 394h1M214 390h1M198 388h1M218 392h1M225 398h1M227 395h1M212 386h1M208 402h1M214 389h1M229 395h1M228 393h1M205 401h1M213 396h1M220 397h1M222 399h1M215 398h1M232 391h1M205 394h1M229 394h1M197 392h1M202 388h1M222 395h1M233 396h1M222 385h1M227 398h1M215 387h1M225 391h1M213 390h1M220 399h1M215 389h1M214 395h1M216 389h1M244 393h1M237 389h1M215 395h1M228 383h1M223 396h1M230 390h1M213 394h1M225 392h1M228 394h1M238 394h1M200 396h1M236 391h1M220 385h1M221 394h1M204 391h1M233 391h1M225 389h1M211 401h1M220 401h1M205 388h1M228 396h1M203 389h1M228 390h1M219 389h1M206 399h1M227 388h1M227 399h1M207 395h1M201 401h1M214 393h1M226 396h1M197 403h1M194 394h1M209 390h1M237 392h1M216 402h1M223 391h1M224 399h1M202 395h1M233 392h1M229 381h1M214 385h1M231 392h1M213 388h1M216 401h1M234 397h1M217 396h1M229 387h1M206 401h1M221 395h1M211 394h1M229 389h1M224 397h1M215 392h1M209 394h1M213 395h1M210 396h1M222 383h1M218 394h1M219 385h1M222 400h1M204 395h1M234 388h1M217 391h1M223 395h1M212 387h1M206 397h1M231 381h1M216 398h1M235 391h1M230 392h1M217 395h1M235 392h1M195 399h1M226 385h1M231 390h1M242 394h1M223 397h1M207 398h1M223 406h1M210 395h1M213 401h1M226 394h1M227 392h1M226 383h1M214 386h1M232 388h1M226 392h1M205 400h1M207 391h1M216 399h1M212 404h1M202 394h1M214 404h1M233 397h1M221 398h1M228 397h1M215 390h1M234 402h1M221 397h1M220 389h1M204 389h1M211 392h1M227 397h1M242 392h1M211 387h1M228 400h1M234 386h1M207 399h1M212 397h1M231 391h1M220 393h1M216 388h1M208 396h1M196 391h1M239 388h1M234 399h1M207 392h1M213 404h1M223 389h1M219 387h1M218 395h1M193 387h1M240 391h1M184 387h1M223 399h1M228 392h1M214 387h1M214 402h1M208 388h1M209 398h1M198 394h1M222 391h1M222 393h1M230 397h1M220 394h1M236 396h1M214 397h1M228 401h1M207 386h1M235 394h1M201 390h1M210 390h1M224 404h1M214 388h1M209 399h1M231 394h1M224 386h1M217 389h1M206 389h1M234 391h1M222 390h1M212 383h1M213 397h1M218 399h1M227 391h1M216 393h1M213 389h1M216 397h1M220 398h1M208 401h1M210 400h1M219 393h1M223 388h1M235 393h1M214 400h1M216 384h1M224 398h1M182 434h1M191 430h1M202 419h1M197 431h1M184 418h1M183 429h1M180 422h1M184 422h1M194 419h1M188 404h1M183 406h1M181 415h1M196 410h1M189 431h1M202 406h1M179 426h1M189 429h1M185 418h1M200 415h1M192 429h1M181 416h1M207 409h1M183 427h1M211 406h1M193 412h1M202 425h1M191 428h1M189 418h1M187 428h1M193 423h1M187 424h1M185 430h1M186 411h1M194 415h1M205 414h1M189 438h1M187 418h1M193 428h1M186 423h1M179 417h1M184 426h1M200 403h1M198 407h1M179 415h1M197 435h1M193 419h1M193 425h1M190 422h1M193 432h1M194 439h1M184 410h1M201 411h1M203 420h1M197 410h1M190 429h1M193 421h1M197 417h1M211 416h1M188 427h1M192 424h1M205 417h1M189 428h1M206 411h1M188 420h1M201 422h1M210 426h1M186 419h1M181 421h1M197 416h1M198 425h1M192 432h1M191 424h1M186 408h1M195 408h1M188 409h1M205 422h1M192 420h1M189 405h1M191 425h1M179 420h1M188 433h1M190 436h1M201 414h1M178 413h1M179 414h1M217 423h1M192 427h1M179 425h1M197 414h1M177 432h1M187 416h1M206 417h1M182 424h1M191 427h1M201 418h1M179 423h1M191 429h1M203 423h1M188 417h1M198 423h1M190 419h1M187 420h1M202 409h1M188 425h1M191 423h1M195 423h1M183 415h1M186 409h1M193 427h1M183 421h1M186 420h1M191 426h1M187 413h1M183 423h1M199 412h1M198 420h1M178 411h1M190 417h1M194 401h1M199 429h1M207 426h1M184 423h1M199 421h1M197 420h1M197 432h1M190 421h1M178 408h1M188 432h1M178 422h1M178 418h1M185 419h1M204 409h1M179 422h1M186 429h1M179 409h1M180 419h1M178 419h1M179 428h1M187 421h1M205 420h1M180 417h1M183 424h1M206 434h1M199 425h1M188 423h1M187 425h1M206 414h1M185 409h1M193 431h1M195 410h1M177 418h1M179 433h1M196 420h1M200 429h1M191 422h1M201 419h1M190 415h1M186 434h1M191 414h1M189 423h1M202 422h1M189 422h1M189 417h1M182 415h1M184 420h1M192 410h1M189 426h1M200 423h1M185 414h1M181 424h1M196 418h1M197 409h1M202 426h1M191 421h1M185 425h1M195 433h1M183 432h1M194 423h1M185 415h1M195 413h1M178 430h1M186 433h1M202 418h1M192 440h1M183 419h1M195 429h1M194 426h1M194 435h1M191 418h1M185 423h1M185 421h1M200 438h1M181 427h1M207 433h1M199 438h1M198 419h1M189 420h1M182 422h1M179 439h1M191 420h1M200 400h1M198 418h1M200 411h1M186 436h1M188 426h1M210 433h1M178 424h1M204 420h1M188 419h1M187 433h1M204 425h1M187 430h1M199 409h1M180 412h1M182 425h1M179 421h1M185 420h1M191 416h1M198 411h1M202 407h1M202 413h1M190 437h1M181 441h1M196 424h1M205 433h1M200 426h1M181 422h1M192 414h1M181 433h1M193 411h1M220 416h1M199 417h1M186 424h1M210 414h1M191 431h1M207 413h1M186 418h1M190 435h1M183 425h1M190 416h1M195 431h1M195 421h1M193 415h1M197 422h1M202 433h1M212 436h1M199 422h1M196 429h1M195 437h1M203 421h1M196 427h1M206 403h1M190 424h1M203 422h1M184 424h1M203 424h1M222 425h1M183 433h1M193 422h1M187 411h1M201 428h1M180 423h1M188 421h1M194 425h1M181 420h1M190 408h1M179 416h1M201 417h1M195 434h1M187 419h1M192 411h1M201 433h1M183 422h1M213 411h1M180 425h1M199 432h1M204 429h1M201 415h1M198 426h1M183 426h1M182 423h1M182 432h1M186 417h1M194 416h1M206 428h1M193 416h1M180 421h1M196 432h1M182 391h1M188 424h1M204 424h1M206 419h1M192 409h1M195 420h1M203 431h1M183 416h1M252 416h1M205 413h1M241 398h1M248 409h1M224 428h1M199 413h1M228 416h1M193 424h1M230 419h1M235 419h1M202 390h1M205 386h1M237 402h1M230 414h1M181 425h1M195 416h1M213 426h1M216 422h1M225 437h1M220 432h1M197 419h1M240 439h1M236 421h1M198 416h1M208 424h1M226 423h1M222 421h1M243 414h1M205 404h1M216 428h1M246 414h1M222 426h1M196 419h1M221 419h1M226 421h1M225 414h1M227 400h1M227 408h1M209 420h1M206 422h1M194 398h1M244 415h1M227 418h1M190 430h1M229 430h1M243 415h1M217 408h1M207 407h1M217 406h1M203 406h1M210 423h1M233 429h1M211 411h1M209 416h1M214 414h1M243 402h1M246 413h1M227 393h1M216 432h1M213 432h1M218 432h1M251 405h1M217 404h1M179 403h1M222 429h1M214 413h1M224 422h1M247 409h1M198 432h1M237 427h1M219 366h1M215 416h1M234 424h1M231 404h1M220 420h1M235 418h1M233 404h1M193 410h1M253 418h1M225 430h1M217 405h1M218 413h1M207 431h1M238 406h1M228 418h1M203 432h1M228 429h1M215 415h1M209 431h1M259 418h1M260 416h1M235 435h1M242 400h1M228 424h1M230 428h1M195 395h1M233 425h1M245 418h1M211 404h1M242 415h1M229 429h1M184 421h1M193 420h1M225 413h1M213 433h1M253 403h1M207 406h1M194 424h1M203 434h1M236 415h1M194 418h1M213 408h1M238 415h1M210 438h1M202 421h1M204 414h1M204 401h1M214 426h1M203 409h1M220 424h1M219 426h1M185 428h1M226 410h1M216 421h1M217 413h1M209 415h1M206 378h1M217 410h1M208 410h1M241 416h1M216 410h1M204 417h1M225 407h1M208 420h1M230 418h1M206 435h1M207 421h1M197 441h1M204 439h1M214 429h1M201 416h1M229 415h1M242 420h1M192 423h1M215 432h1M224 437h1M241 424h1M215 407h1M221 427h1M216 414h1M212 414h1M228 405h1M226 422h1M217 429h1M224 434h1M201 436h1M223 413h1M230 415h1M234 418h1M196 428h1M230 417h1M243 405h1M184 417h1M219 423h1M229 422h1M226 419h1M241 413h1M203 439h1M226 416h1M200 393h1M206 407h1M205 426h1M240 417h1M198 410h1M210 427h1M245 423h1M209 422h1M232 422h1M220 421h1M222 417h1M212 423h1M210 422h1M214 408h1M230 421h1M216 424h1M217 435h1M229 426h1M213 439h1M204 408h1M236 406h1M218 420h1M214 411h1M183 441h1M209 434h1M212 438h1M241 436h1M203 430h1M228 433h1M219 439h1M208 386h1M234 420h1M216 427h1M217 409h1M210 434h1M214 410h1M217 416h1M216 430h1M216 412h1M240 427h1M237 396h1M198 439h1M199 423h1M242 430h1M198 429h1M195 428h1M233 400h1M232 437h1M243 438h1M228 428h1M218 433h1M228 419h1M197 428h1M219 406h1M244 424h1M209 412h1M240 414h1M210 393h1M233 438h1M236 399h1M223 439h1M213 417h1M216 400h1M210 417h1M221 421h1M218 414h1M251 437h1M231 423h1M243 409h1M232 430h1M191 437h1M198 430h1M223 438h1M231 437h1M239 420h1M186 393h1M236 400h1M206 424h1M208 408h1M211 409h1M218 404h1M225 415h1M210 416h1M217 382h1M220 415h1M247 397h1M237 416h1M215 400h1M221 425h1M217 426h1M224 419h1M246 418h1M196 411h1M213 416h1M208 431h1M208 422h1M178 434h1M200 405h1M224 418h1M229 416h1M242 402h1M226 426h1M208 398h1M210 429h1M192 426h1M200 420h1M216 418h1M221 416h1M208 434h1M224 406h1M207 418h1M206 421h1M200 416h1M217 428h1M222 410h1M196 422h1M228 408h1M206 420h1M212 418h1M231 418h1M219 411h1M198 434h1M237 409h1M214 417h1M223 421h1M199 427h1M225 404h1M214 434h1M217 421h1M225 402h1M203 426h1M198 431h1M221 432h1M218 421h1M202 430h1M221 439h1M219 434h1M219 414h1M219 433h1M189 425h1M235 396h1M205 415h1M215 417h1M211 435h1M214 418h1M223 418h1M203 413h1M231 438h1M191 402h1M209 426h1M193 435h1M219 441h1M230 412h1M194 413h1M213 423h1M230 436h1M205 430h1M212 402h1M232 414h1M262 410h1M252 420h1M242 370h1M187 361h1M183 431h1M207 419h1M192 407h1M260 400h1M193 438h1M224 354h1M241 354h1M227 430h1M217 366h1M188 436h1M201 389h1M202 372h1M228 372h1M234 427h1M251 384h1M235 408h1M249 416h1M197 373h1M241 402h1M184 429h1M233 399h1M183 417h1M261 358h1M220 360h1M205 379h1M236 423h1M222 370h1M220 406h1M259 420h1M226 378h1M196 372h1M199 377h1M239 437h1M182 373h1M201 382h1M259 410h1M235 361h1M215 435h1M234 382h1" stroke="#000" stroke-width="1" stroke-opacity="0.45" transform="translate(0 .5)" filter="url(#soft)"/>
<path d="M188 415h1M190 390h1M192 413h1M205 392h1M181 408h1M181 405h1M192 396h1M190 402h1M183 404h1M183 407h1M191 392h1M186 410h1M192 399h1M189 412h1M196 417h1M180 410h1M188 413h1M180 407h1M193 395h1M186 400h1M186 403h1M184 404h1M190 404h1M191 405h1M178 416h1M192 393h1M196 407h1M189 411h1M193 388h1M209 393h1M199 400h1M198 406h1M186 399h1M191 398h1M193 405h1M203 410h1M199 398h1M200 389h1M196 408h1M188 407h1M182 409h1M197 397h1M191 406h1M187 409h1M187 403h1M197 387h1M216 405h1M210 403h1M200 406h1M191 403h1M184 414h1M195 415h1M192 415h1M189 396h1M188 403h1M186 416h1M180 408h1M177 390h1M189 416h1M193 406h1M191 399h1M204 393h1M183 399h1M190 403h1M200 398h1M184 411h1M187 398h1M191 409h1M187 394h1M185 396h1M193 402h1M192 401h1M197 405h1M182 402h1M178 403h1M192 405h1M183 408h1M188 414h1M203 408h1M188 400h1M186 407h1M196 392h1M191 411h1M195 401h1M189 400h1M185 408h1M196 400h1M184 390h1M198 400h1M186 405h1M179 408h1M186 402h1M187 414h1M190 394h1M178 398h1M196 404h1M180 394h1M196 396h1M196 405h1M203 397h1M179 398h1M198 396h1M192 398h1M187 410h1M195 403h1M183 396h1M193 390h1M196 402h1M194 389h1M182 397h1M197 399h1M177 412h1M189 392h1M195 394h1M200 412h1M199 401h1M200 409h1M189 394h1M194 399h1M211 399h1M185 401h1M181 414h1M179 395h1M184 413h1M193 407h1M183 395h1M184 398h1M184 412h1M185 413h1M194 402h1M196 397h1M207 396h1M189 409h1M202 393h1M182 406h1M190 395h1M180 411h1M189 413h1M203 390h1M186 397h1M180 398h1M191 389h1M196 401h1M190 411h1M182 404h1M189 398h1M182 401h1M201 393h1M182 400h1M197 407h1M180 402h1M190 412h1M182 399h1M201 399h1M203 399h1M194 407h1M190 414h1M184 406h1M213 402h1M204 410h1M202 403h1M185 399h1M187 407h1M199 414h1M198 398h1M182 407h1M189 397h1M190 396h1M190 410h1M183 392h1M197 398h1M194 403h1M185 407h1M188 401h1M178 407h1M198 403h1M182 405h1M185 405h1M193 403h1M192 395h1M178 396h1M206 400h1M197 394h1M200 401h1M187 417h1M188 390h1M185 394h1M222 398h1M197 400h1M180 404h1M198 414h1M184 407h1M202 408h1M201 396h1M182 395h1M187 406h1M182 392h1M204 392h1M205 396h1M203 402h1M195 402h1M180 401h1M193 404h1M199 419h1M194 406h1M184 397h1M192 412h1M194 397h1M194 400h1M198 391h1M178 399h1M188 394h1M196 398h1M179 413h1M190 409h1M179 393h1M184 409h1M181 410h1M190 400h1M182 410h1M182 414h1M190 407h1M188 422h1M181 413h1M187 395h1M202 396h1M195 406h1M199 410h1M188 402h1M207 411h1M179 407h1M187 393h1M190 401h1M181 404h1M188 391h1M185 410h1M203 403h1M210 407h1M183 409h1M193 413h1M183 400h1M179 405h1M198 402h1M178 401h1M196 403h1M186 414h1M194 396h1M195 392h1M198 413h1M178 404h1M193 398h1M179 382h1M205 397h1M181 409h1M181 403h1M199 406h1M195 414h1M188 410h1M188 418h1M191 407h1M186 396h1M185 412h1M201 397h1M186 422h1M183 398h1M189 402h1M217 394h1M197 408h1M192 394h1M202 410h1M194 414h1M200 394h1M207 416h1M190 399h1M185 406h1M183 412h1M185 397h1M189 410h1M200 386h1M188 405h1M193 400h1M197 395h1M182 413h1M191 408h1M203 392h1M205 395h1M180 409h1M199 391h1M187 396h1M192 404h1M181 402h1M204 397h1M193 399h1M186 415h1M199 404h1M200 410h1M196 414h1M192 403h1M187 400h1M192 406h1M203 398h1M179 400h1M194 408h1M189 406h1M197 404h1M194 405h1M181 397h1M189 408h1M191 412h1M202 398h1M200 395h1M191 415h1M191 419h1M189 403h1M195 418h1M226 393h1M234 393h1M210 394h1M211 395h1M223 392h1M218 398h1M222 397h1M208 393h1M221 392h1M220 392h1M228 395h1M220 391h1M234 394h1M226 395h1M213 393h1M214 398h1M221 387h1M217 393h1M214 394h1M206 391h1M208 394h1M205 389h1M224 395h1M218 400h1M213 399h1M209 391h1M229 391h1M211 402h1M197 396h1M205 391h1M205 393h1M215 391h1M219 388h1M215 397h1M225 388h1M201 403h1M225 394h1M215 396h1M223 398h1M220 388h1M216 394h1M210 392h1M204 396h1M209 400h1M210 387h1M217 398h1M211 393h1M214 392h1M206 395h1M204 394h1M221 396h1M209 387h1M205 387h1M217 400h1M235 395h1M234 390h1M224 394h1M211 397h1M230 400h1M218 397h1M222 396h1M219 391h1M223 393h1M219 392h1M237 390h1M221 393h1M209 397h1M212 394h1M213 400h1M223 390h1M214 401h1M211 390h1M220 395h1M214 391h1M212 395h1M217 392h1M207 389h1M216 395h1M212 393h1M236 393h1M216 392h1M220 396h1M223 394h1M211 396h1M225 387h1M208 399h1M201 395h1M218 393h1M227 386h1M213 398h1M222 394h1M213 392h1M220 400h1M213 391h1M232 393h1M217 390h1M232 392h1M231 396h1M230 391h1M208 392h1M216 391h1M210 401h1M232 394h1M222 392h1M224 392h1M218 389h1M211 398h1M221 391h1M210 391h1M214 396h1M227 389h1M224 390h1M224 393h1M219 395h1M218 390h1M211 388h1M209 392h1M215 393h1M227 396h1M208 395h1M212 399h1M202 397h1M212 396h1M201 392h1M206 393h1M225 395h1M225 396h1M219 394h1M219 397h1M215 394h1M218 391h1M206 396h1M209 395h1M225 393h1M218 396h1M229 396h1M222 388h1M218 392h1M225 398h1M227 395h1M214 389h1M229 395h1M228 393h1M213 396h1M220 397h1M222 399h1M232 391h1M229 394h1M222 395h1M233 396h1M222 385h1M227 398h1M225 391h1M213 390h1M215 389h1M214 395h1M216 389h1M223 396h1M225 392h1M228 394h1M221 394h1M225 389h1M220 401h1M205 388h1M207 395h1M226 396h1M197 403h1M216 402h1M224 399h1M233 392h1M213 388h1M217 396h1M221 395h1M211 394h1M229 389h1M224 397h1M215 392h1M209 394h1M210 396h1M218 394h1M217 391h1M223 395h1M217 395h1M210 395h1M213 401h1M226 394h1M226 392h1M207 391h1M216 399h1M212 404h1M221 398h1M215 390h1M211 392h1M228 400h1M212 397h1M220 393h1M240 391h1M223 399h1M214 402h1M209 398h1M217 389h1M222 390h1M216 397h1M194 419h1M183 406h1M189 429h1M185 418h1M181 416h1M207 409h1M211 406h1M191 428h1M189 418h1M193 423h1M187 424h1M194 415h1M187 418h1M179 417h1M200 403h1M179 415h1M197 435h1M193 425h1M190 422h1M203 420h1M197 410h1M188 427h1M192 424h1M188 420h1M186 419h1M191 424h1M195 408h1M192 420h1M179 420h1M182 424h1M191 427h1M179 423h1M191 429h1M188 417h1M198 423h1M187 420h1M202 409h1M188 425h1M186 409h1M183 421h1M186 420h1M191 426h1M187 413h1M183 423h1M199 412h1M198 420h1M178 411h1M190 417h1M199 429h1M184 423h1M197 420h1M190 421h1M188 432h1M178 422h1M185 419h1M204 409h1M187 421h1M205 420h1M180 417h1M183 424h1M187 425h1M193 431h1M191 422h1M201 419h1M190 415h1M186 434h1M191 414h1M189 422h1M182 415h1M184 420h1M192 410h1M189 426h1M181 424h1M196 418h1M191 421h1M186 433h1M202 418h1M195 429h1M194 426h1M194 435h1M185 421h1M207 433h1M198 419h1M189 420h1M186 436h1M188 426h1M204 425h1M182 425h1M198 411h1M202 407h1M181 433h1M186 424h1M191 431h1M207 413h1M186 418h1M193 415h1M196 427h1M222 425h1M187 411h1M194 425h1M201 417h1M187 419h1M192 411h1M213 411h1M204 429h1M198 426h1M192 409h1M195 420h1M183 416h1M230 414h1M195 416h1M225 437h1M220 432h1M216 428h1M226 421h1M225 414h1M227 400h1M227 408h1M209 420h1M227 418h1M217 406h1M211 411h1M214 414h1M216 432h1M222 429h1M215 416h1M234 424h1M193 410h1M238 406h1M215 415h1M202 421h1M217 413h1M217 410h1M216 410h1M229 415h1M230 415h1M209 422h1M220 421h1M212 423h1M216 424h1M204 408h1M214 410h1M216 430h1M209 412h1M216 400h1M211 409h1M225 415h1M247 397h1M221 425h1M224 419h1M226 426h1M200 416h1" stroke="#000" stroke-width="1" stroke-opacity="0.45" transform="translate(0 .5)" filter="url(#soft)"/>
<path d="M181 405h1M183 404h1M183 407h1M192 399h1M180 410h1M186 400h1M186 403h1M184 404h1M190 404h1M196 407h1M189 411h1M193 388h1M209 393h1M199 400h1M186 399h1M203 410h1M196 408h1M188 407h1M197 397h1M191 406h1M187 409h1M187 403h1M200 406h1M191 403h1M184 414h1M195 415h1M192 415h1M189 396h1M188 403h1M193 406h1M204 393h1M183 399h1M187 398h1M185 396h1M197 405h1M192 405h1M203 408h1M188 400h1M186 407h1M191 411h1M185 408h1M196 400h1M198 400h1M186 405h1M179 408h1M190 394h1M178 398h1M196 396h1M203 397h1M187 410h1M195 403h1M183 396h1M195 394h1M200 409h1M189 394h1M211 399h1M184 398h1M184 412h1M185 413h1M194 402h1M196 397h1M207 396h1M202 393h1M182 406h1M180 411h1M186 397h1M190 411h1M182 404h1M182 401h1M201 393h1M201 399h1M203 399h1M190 414h1M204 410h1M202 403h1M185 399h1M187 407h1M199 414h1M198 398h1M182 407h1M197 398h1M198 403h1M182 405h1M185 405h1M193 403h1M192 395h1M187 417h1M180 404h1M202 408h1M187 406h1M204 392h1M205 396h1M195 402h1M180 401h1M194 406h1M184 397h1M194 397h1M194 400h1M188 394h1M196 398h1M190 409h1M179 393h1M184 409h1M181 410h1M190 400h1M182 410h1M188 422h1M181 413h1M202 396h1M199 410h1M179 407h1M187 393h1M181 404h1M185 410h1M203 403h1M210 407h1M183 409h1M193 413h1M179 405h1M198 402h1M196 403h1M186 414h1M193 398h1M205 397h1M181 403h1M188 410h1M186 422h1M183 398h1M217 394h1M207 416h1M183 412h1M189 410h1M197 395h1M182 413h1M191 408h1M203 392h1M205 395h1M187 396h1M192 404h1M193 399h1M200 410h1M187 400h1M194 408h1M226 393h1M210 394h1M211 395h1M223 392h1M208 393h1M221 392h1M220 392h1M228 395h1M220 391h1M226 395h1M213 393h1M214 398h1M217 393h1M214 394h1M208 394h1M224 395h1M213 399h1M215 391h1M215 397h1M225 394h1M215 396h1M216 394h1M210 392h1M217 398h1M214 392h1M204 394h1M209 387h1M211 397h1M218 397h1M222 396h1M219 391h1M223 393h1M219 392h1M221 393h1M209 397h1M212 394h1M223 390h1M214 401h1M220 395h1M214 391h1M212 395h1M217 392h1M207 389h1M212 393h1M216 392h1M220 396h1M223 394h1M211 396h1M225 387h1M208 399h1M201 395h1M218 393h1M227 386h1M213 398h1M222 394h1M213 392h1M217 390h1M230 391h1M232 394h1M222 392h1M211 398h1M221 391h1M224 390h1M219 395h1M218 390h1M215 393h1M227 396h1M208 395h1M212 396h1M201 392h1M206 393h1M225 395h1M219 394h1M219 397h1M206 396h1M218 396h1M218 392h1M225 398h1M229 395h1M213 396h1M232 391h1M229 394h1M222 395h1M213 390h1M225 392h1M225 389h1M233 392h1M213 388h1M221 395h1M224 397h1M215 392h1M209 394h1M210 396h1M218 394h1M210 395h1M212 404h1M211 392h1M212 397h1M183 406h1M185 418h1M181 416h1M211 406h1M191 428h1M189 418h1M187 418h1M179 417h1M186 419h1M188 417h1M198 423h1M187 420h1M188 425h1M186 420h1M190 417h1M190 421h1M178 422h1M190 415h1M182 415h1M186 433h1M204 425h1M186 418h1M192 411h1M202 421h1M217 410h1" stroke="#000" stroke-width="1" stroke-opacity="0.45" transform="translate(0 .5)" filter="url(#soft)"/>
</g>
<g clip-path="url(#c287_354)">
<ellipse cx="296" cy="397" rx="15.9" ry="8.7" transform="rotate(0 296 397)" fill="#000" fill-opacity="1.0" filter="url(#b2_7)"/>
<ellipse cx="324" cy="389.5" rx="12.2" ry="5.4" transform="rotate(-10 324 389.5)" fill="#000" fill-opacity="1.0" filter="url(#b1_8)"/>
<ellipse cx="295" cy="422" rx="9.5" ry="8.8" transform="rotate(0 295 422)" fill="#000" fill-opacity="0.95" filter="url(#b2_9)"/>
<ellipse cx="340" cy="391" rx="28.8" ry="10.8" transform="rotate(0 340 391)" fill="#000" fill-opacity="0.1" filter="url(#b4_0)"/>
<ellipse cx="318" cy="418" rx="14.4" ry="14.4" transform="rotate(0 318 418)" fill="#000" fill-opacity="0.08" filter="url(#b5_4)"/>
<path d="M302 404h1M305 390h1M299 404h1M295 391h1M300 393h1M293 409h1M300 398h1M308 385h1M312 399h1M297 392h1M305 394h1M309 392h1M290 399h1M302 406h1M289 389h1M291 391h1M299 402h1M302 384h1M323 400h1M291 408h1M291 392h1M301 405h1M303 407h1M310 404h1M299 395h1M288 396h1M289 395h1M324 406h1M297 402h1M304 396h1M301 390h1M303 395h1M319 382h1M301 391h1M296 386h1M298 395h1M297 390h1M307 395h1M296 403h1M303 388h1M314 400h1M292 393h1M294 398h1M295 395h1M302 399h1M310 396h1M313 387h1M297 403h1M294 395h1M289 419h1M296 398h1M291 397h1M291 396h1M292 396h1M310 402h1M290 409h1M306 380h1M308 402h1M295 388h1M302 389h1M293 394h1M298 387h1M295 399h1M312 400h1M306 401h1M288 387h1M307 397h1M298 399h1M296 407h1M304 392h1M294 400h1M311 395h1M313 399h1M305 397h1M290 393h1M304 402h1M302 400h1M302 396h1M314 397h1M291 390h1M304 394h1M300 402h1M292 402h1M308 396h1M290 400h1M298 394h1M306 396h1M317 395h1M300 391h1M300 400h1M312 405h1M292 391h1M292 395h1M309 390h1M288 406h1M298 392h1M303 399h1M297 391h1M301 389h1M298 403h1M306 387h1M297 397h1M296 400h1M313 400h1M311 390h1M309 404h1M298 408h1M288 393h1M293 403h1M294 397h1M292 392h1M293 395h1M309 411h1M298 400h1M310 392h1M298 397h1M318 402h1M298 389h1M293 393h1M315 396h1M304 385h1M308 390h1M306 394h1M303 396h1M299 405h1M315 392h1M297 399h1M292 409h1M294 390h1M296 402h1M303 394h1M289 397h1M305 412h1M297 400h1M303 382h1M291 405h1M299 399h1M292 394h1M289 399h1M305 398h1M307 391h1M300 394h1M303 397h1M304 393h1M307 389h1M318 399h1M296 396h1M290 395h1M291 393h1M315 393h1M299 403h1M321 393h1M294 396h1M291 389h1M289 401h1M290 394h1M304 400h1M298 396h1M308 410h1M296 393h1M305 389h1M313 388h1M294 385h1M301 403h1M294 392h1M292 390h1M292 397h1M309 409h1M297 395h1M299 388h1M305 396h1M299 386h1M305 399h1M318 395h1M293 399h1M310 386h1M293 406h1M295 389h1M294 402h1M313 397h1M304 398h1M303 390h1M303 400h1M296 406h1M297 404h1M323 401h1M293 401h1M299 397h1M311 405h1M311 402h1M289 402h1M301 395h1M301 394h1M300 387h1M295 396h1M315 395h1M302 408h1M292 403h1M331 392h1M295 404h1M290 405h1M311 394h1M309 394h1M293 400h1M298 404h1M318 403h1M308 408h1M315 399h1M295 394h1M296 390h1M312 383h1M289 383h1M301 399h1M291 401h1M292 399h1M292 406h1M299 394h1M311 407h1M301 398h1M289 413h1M300 395h1M291 404h1M310 405h1M302 409h1M310 401h1M310 389h1M290 412h1M294 393h1M293 396h1M313 406h1M307 404h1M308 401h1M305 402h1M293 391h1M303 404h1M318 385h1M303 393h1M307 388h1M301 397h1M307 383h1M290 392h1M301 401h1M308 395h1M309 397h1M289 400h1M299 396h1M298 410h1M316 401h1M296 401h1M314 385h1M306 399h1M307 393h1M296 388h1M295 397h1M289 391h1M315 397h1M299 387h1M303 398h1M297 393h1M305 401h1M304 391h1M309 400h1M317 390h1M296 395h1M290 396h1M293 388h1M300 401h1M295 392h1M301 396h1M300 385h1M314 403h1M304 401h1M289 403h1M308 405h1M319 398h1M297 394h1M313 392h1M290 388h1M304 395h1M289 409h1M299 390h1M317 392h1M302 393h1M289 394h1M312 403h1M318 393h1M296 397h1M314 388h1M300 392h1M288 399h1M321 399h1M316 400h1M294 408h1M295 383h1M304 404h1M311 392h1M311 399h1M298 398h1M307 399h1M305 395h1M295 390h1M295 393h1M290 404h1M290 385h1M301 383h1M308 406h1M305 393h1M301 393h1M300 414h1M299 400h1M310 387h1M305 392h1M319 394h1M308 388h1M292 388h1M297 389h1M301 392h1M290 389h1M309 399h1M289 410h1M308 404h1M314 398h1M307 401h1M317 398h1M295 402h1M301 404h1M290 383h1M301 408h1M309 403h1M289 390h1M307 403h1M291 399h1M315 398h1M307 400h1M316 395h1M291 388h1M293 380h1M310 397h1M302 402h1M309 391h1M302 398h1M315 404h1M295 406h1M307 392h1M302 397h1M304 409h1M306 390h1M289 392h1M316 394h1M300 405h1M294 406h1M312 389h1M306 403h1M295 398h1M303 408h1M308 393h1M302 387h1M303 401h1M310 398h1M296 389h1M313 403h1M297 385h1M293 389h1M309 388h1M292 387h1M316 406h1M312 402h1M319 396h1M312 396h1M300 397h1M307 402h1M297 386h1M309 402h1M302 401h1M306 398h1M308 400h1M307 394h1M289 393h1M294 388h1M290 390h1M288 389h1M296 392h1M305 391h1M297 380h1M296 405h1M311 403h1M305 400h1M297 396h1M293 390h1M288 392h1M288 395h1M316 398h1M302 403h1M292 401h1M325 406h1M300 388h1M301 400h1M307 405h1M328 403h1M306 389h1M313 401h1M306 405h1M312 401h1M321 394h1M328 404h1M320 397h1M311 401h1M310 411h1M289 396h1M318 387h1M306 397h1M311 398h1M299 392h1M294 384h1M299 389h1M293 397h1M306 393h1M297 406h1M292 385h1M298 393h1M308 389h1M318 383h1M323 392h1M332 385h1M320 390h1M322 391h1M325 383h1M329 389h1M336 389h1M320 388h1M323 389h1M319 390h1M317 387h1M338 381h1M333 388h1M312 388h1M331 377h1M328 388h1M333 385h1M323 385h1M328 383h1M330 392h1M319 392h1M325 388h1M331 391h1M331 387h1M342 376h1M333 393h1M322 382h1M329 388h1M330 393h1M323 388h1M329 386h1M319 391h1M326 392h1M335 388h1M344 389h1M310 385h1M324 383h1M330 389h1M330 388h1M321 385h1M309 398h1M330 380h1M326 387h1M329 390h1M339 381h1M319 395h1M320 394h1M334 386h1M323 393h1M326 384h1M334 395h1M328 389h1M316 387h1M311 389h1M319 386h1M325 387h1M315 394h1M316 382h1M330 387h1M329 385h1M323 383h1M332 389h1M307 386h1M304 388h1M313 389h1M318 396h1M317 393h1M312 392h1M338 388h1M327 385h1M325 391h1M323 381h1M324 384h1M313 396h1M322 388h1M298 391h1M325 386h1M316 391h1M317 386h1M324 394h1M319 385h1M321 383h1M316 388h1M326 389h1M335 387h1M318 392h1M339 391h1M329 387h1M317 388h1M330 391h1M325 401h1M321 396h1M326 391h1M322 383h1M315 390h1M330 386h1M321 392h1M324 392h1M307 390h1M335 380h1M321 388h1M317 384h1M332 391h1M314 386h1M337 389h1M339 390h1M334 390h1M322 386h1M338 377h1M318 391h1M318 390h1M324 390h1M341 388h1M326 390h1M319 388h1M325 392h1M328 390h1M342 390h1M333 383h1M314 391h1M327 390h1M329 394h1M328 386h1M328 391h1M337 381h1M319 393h1M320 392h1M312 390h1M329 382h1M335 384h1M321 387h1M317 389h1M326 393h1M325 393h1M331 394h1M331 390h1M333 381h1M336 388h1M309 393h1M320 384h1M324 387h1M329 396h1M340 384h1M332 390h1M332 384h1M315 389h1M340 391h1M312 397h1M320 383h1M340 385h1M317 394h1M330 384h1M313 390h1M335 386h1M334 385h1M316 397h1M325 390h1M332 393h1M315 391h1M311 388h1M307 398h1M320 385h1M317 391h1M334 391h1M317 385h1M335 391h1M348 391h1M336 393h1M322 392h1M325 395h1M333 387h1M334 396h1M318 389h1M319 389h1M327 386h1M337 393h1M352 378h1M330 382h1M320 387h1M319 383h1M340 388h1M320 396h1M327 387h1M337 392h1M326 388h1M341 392h1M328 392h1M312 395h1M320 391h1M339 389h1M327 391h1M331 388h1M308 394h1M313 394h1M307 396h1M331 389h1M325 384h1M321 391h1M311 391h1M328 387h1M337 388h1M327 389h1M337 384h1M324 393h1M340 393h1M324 385h1M333 375h1M316 389h1M319 387h1M316 396h1M323 396h1M320 389h1M322 389h1M299 391h1M323 386h1M335 390h1M326 383h1M322 394h1M335 383h1M340 380h1M311 386h1M328 384h1M326 386h1M336 384h1M316 392h1M323 384h1M333 386h1M326 395h1M332 388h1M319 381h1M323 394h1M315 386h1M334 387h1M334 389h1M320 386h1M321 397h1M312 386h1M345 390h1M341 383h1M314 389h1M321 400h1M329 381h1M338 392h1M336 385h1M314 387h1M310 391h1M319 384h1M318 384h1M348 395h1M312 393h1M347 387h1M345 388h1M329 378h1M333 390h1M334 378h1M330 394h1M330 390h1M326 385h1M323 390h1M317 397h1M325 389h1M310 390h1M339 385h1M310 393h1M327 381h1M323 387h1M335 389h1M324 391h1M314 390h1M342 389h1M322 381h1M318 388h1M325 381h1M314 393h1M329 391h1M320 401h1M329 384h1M314 396h1M337 385h1M334 388h1M346 385h1M316 390h1M333 392h1M341 389h1M340 381h1M325 394h1M344 390h1M324 381h1M336 396h1M336 390h1M321 390h1M313 384h1M347 385h1M339 388h1M322 384h1M338 378h1M324 400h1M324 388h1M318 386h1M329 380h1M339 379h1M333 391h1M331 385h1M321 389h1M317 400h1M313 391h1M322 385h1M314 395h1M324 386h1M318 394h1M333 382h1M337 387h1M313 385h1M320 399h1M349 387h1M314 392h1M331 379h1M338 389h1M332 382h1M316 384h1M320 393h1M334 384h1M332 396h1M328 385h1M316 385h1M321 382h1M335 393h1M333 394h1M324 382h1M313 395h1M320 382h1M321 384h1M327 388h1M338 387h1M339 386h1M322 401h1M322 390h1M327 393h1M332 376h1M289 431h1M306 419h1M294 417h1M291 419h1M305 416h1M291 420h1M293 420h1M297 425h1M296 425h1M300 430h1M292 414h1M303 415h1M288 424h1M299 423h1M303 424h1M300 410h1M290 420h1M307 421h1M295 428h1M296 419h1M297 423h1M299 419h1M296 426h1M306 404h1M298 425h1M292 420h1M297 424h1M297 421h1M298 430h1M290 434h1M301 422h1M298 422h1M300 434h1M304 428h1M302 421h1M296 429h1M306 423h1M292 426h1M302 418h1M296 433h1M293 417h1M289 427h1M314 420h1M307 419h1M300 427h1M295 414h1M293 411h1M292 433h1M297 418h1M288 418h1M290 421h1M296 415h1M305 420h1M293 412h1M299 421h1M297 411h1M290 419h1M288 422h1M301 421h1M291 417h1M303 417h1M306 418h1M302 407h1M294 427h1M301 428h1M296 413h1M301 410h1M298 416h1M293 414h1M297 417h1M297 414h1M289 417h1M293 416h1M293 424h1M295 439h1M291 428h1M297 426h1M290 417h1M312 416h1M294 431h1M296 417h1M306 425h1M294 424h1M301 416h1M294 419h1M296 420h1M304 416h1M301 419h1M303 425h1M294 420h1M300 422h1M289 420h1M289 430h1M294 432h1M292 430h1M308 424h1M303 419h1M309 421h1M309 433h1M292 424h1M288 414h1M301 417h1M307 413h1M306 437h1M311 429h1M302 428h1M301 415h1M300 420h1M290 426h1M302 424h1M290 431h1M312 423h1M297 420h1M296 410h1M291 414h1M292 432h1M295 412h1M299 424h1M299 420h1M300 424h1M299 413h1M295 423h1M288 419h1M302 419h1M295 420h1M298 423h1M289 428h1M293 413h1M295 429h1M294 438h1M296 411h1M293 427h1M304 422h1M301 414h1M293 425h1M296 423h1M301 412h1M292 427h1M300 426h1M294 426h1M289 424h1M295 416h1M306 415h1M292 435h1M304 412h1M288 429h1M291 424h1M295 431h1M306 429h1M297 422h1M299 426h1M294 421h1M300 428h1M294 425h1M311 426h1M295 421h1M294 415h1M292 421h1M290 440h1M291 423h1M290 425h1M309 407h1M302 422h1M306 414h1M304 431h1M302 420h1M298 431h1M293 429h1M291 422h1M298 424h1M299 414h1M299 416h1M295 419h1M289 405h1M304 417h1M301 418h1M295 435h1M290 429h1M303 432h1M308 420h1M292 431h1M300 417h1M296 424h1M291 425h1M295 437h1M315 426h1M301 423h1M297 429h1M290 418h1M299 425h1M294 422h1M298 412h1M293 423h1M292 425h1M300 423h1M304 407h1M297 410h1M299 441h1M291 421h1M295 413h1M301 427h1M294 418h1M304 414h1M302 415h1M293 426h1M298 414h1M291 409h1M310 432h1M295 427h1M288 425h1M290 428h1M302 430h1M292 417h1M300 432h1M298 426h1M308 417h1M289 425h1M298 428h1M295 424h1M298 418h1M299 415h1M290 430h1M300 425h1M291 433h1M300 415h1M298 427h1M293 418h1M307 426h1M303 409h1M310 416h1M297 430h1M307 429h1M299 430h1M292 415h1M305 415h1M298 420h1M305 418h1M296 422h1M299 433h1M298 417h1M298 419h1M290 415h1M311 420h1M308 427h1M305 422h1M288 417h1M297 431h1M300 413h1M289 426h1M290 414h1M291 434h1M304 415h1M290 410h1M292 416h1M303 411h1M304 427h1M302 426h1M295 411h1M293 419h1M300 411h1M291 415h1M292 404h1M295 425h1M314 421h1M295 440h1M309 426h1M308 415h1M291 430h1M307 416h1M300 433h1M292 423h1M296 408h1M305 423h1M291 416h1M294 416h1M292 429h1M306 432h1M288 421h1M294 411h1M290 411h1M296 414h1M301 425h1M304 424h1M294 423h1M307 417h1M301 430h1M291 427h1M302 417h1M288 423h1M297 416h1M311 425h1M294 430h1M293 415h1M291 435h1M303 414h1M311 423h1M299 427h1M300 421h1M294 410h1M288 427h1M297 415h1M303 427h1M292 428h1M313 420h1M288 416h1M292 418h1M307 425h1M296 418h1M311 430h1M308 428h1M300 416h1M297 427h1M299 411h1M293 431h1M292 408h1M296 430h1M296 427h1M295 422h1M291 413h1M291 411h1M289 418h1M290 424h1M304 405h1M290 427h1M306 417h1M303 413h1M290 422h1M307 428h1M303 428h1M305 414h1M295 436h1M292 422h1M296 421h1M309 419h1M290 433h1M293 421h1M296 385h1M370 385h1M369 373h1M346 382h1M314 394h1M352 375h1M329 398h1M344 401h1M366 381h1M355 391h1M341 394h1M355 369h1M350 387h1M368 409h1M348 386h1M369 396h1M334 380h1M367 393h1M370 375h1M357 388h1M327 395h1M338 379h1M348 384h1M346 399h1M359 397h1M317 399h1M344 377h1M354 408h1M315 403h1M360 393h1M363 381h1M344 387h1M312 407h1M325 385h1M306 379h1M354 397h1M361 382h1M331 395h1M313 407h1M346 403h1M343 389h1M351 385h1M321 386h1M364 397h1M348 389h1M346 388h1M299 372h1M332 379h1M344 398h1M363 382h1M322 402h1M342 384h1M371 386h1M371 403h1M351 404h1M345 386h1M331 398h1M328 399h1M367 382h1M319 375h1M333 397h1M356 394h1M333 403h1M348 392h1M341 400h1M361 397h1M347 406h1M357 384h1M330 399h1M337 398h1M356 380h1M367 399h1M340 397h1M336 402h1M346 391h1M311 385h1M343 392h1M359 390h1M345 387h1M336 403h1M351 397h1M327 375h1M366 393h1M332 392h1M350 394h1M364 394h1M321 379h1M341 393h1M352 386h1M327 392h1M355 387h1M355 389h1M294 387h1M310 400h1M358 396h1M310 377h1M363 387h1M329 392h1M333 389h1M347 384h1M330 398h1M360 398h1M355 383h1M314 399h1M343 409h1M368 396h1M344 388h1M339 396h1M350 393h1M308 378h1M319 374h1M306 386h1M324 377h1M337 380h1M341 379h1M325 396h1M309 401h1M352 388h1M333 396h1M366 384h1M356 398h1M311 380h1M365 397h1M360 406h1M339 402h1M346 386h1M334 397h1M358 400h1M338 391h1M326 382h1M360 400h1M329 404h1M346 379h1M322 397h1M354 402h1M368 383h1M354 392h1M309 396h1M339 378h1M349 390h1M355 395h1M330 381h1M368 403h1M322 398h1M358 390h1M349 375h1M349 383h1M353 385h1M343 387h1M343 372h1M350 381h1M354 394h1M365 387h1M321 395h1M339 400h1M350 389h1M321 407h1M342 394h1M340 392h1M328 402h1M366 391h1M358 394h1M363 385h1M348 397h1M355 410h1M352 393h1M365 383h1M288 386h1M306 392h1M355 378h1M356 388h1M374 394h1M339 394h1M302 394h1M294 373h1M315 382h1M354 380h1M355 388h1M346 396h1M371 391h1M361 389h1M328 393h1M357 389h1M361 367h1M312 385h1M331 405h1M318 379h1M361 399h1M360 375h1M342 391h1M366 385h1M350 362h1M351 389h1M337 390h1M360 392h1M336 409h1M326 398h1M333 398h1M339 403h1M342 387h1M340 402h1M358 380h1M351 396h1M342 393h1M338 386h1M307 384h1M294 403h1M368 408h1M344 402h1M328 394h1M343 381h1M345 384h1M358 388h1M322 379h1M317 380h1M346 377h1M356 390h1M370 400h1M324 398h1M369 397h1M353 388h1M343 408h1M337 379h1M358 408h1M371 412h1M371 405h1M343 390h1M338 390h1M312 379h1M342 400h1M313 408h1M353 402h1M370 378h1M339 410h1M322 393h1M334 383h1M343 398h1M318 412h1M344 395h1M311 384h1M331 404h1M354 424h1M326 394h1M327 398h1M293 402h1M373 403h1M334 381h1M343 384h1M291 375h1M332 397h1M356 401h1M353 407h1M341 399h1M373 394h1M360 390h1M347 376h1M333 376h1M306 383h1M341 380h1M320 398h1M364 392h1M300 381h1M327 382h1M345 398h1M343 400h1M323 399h1M341 396h1M346 383h1M355 386h1M341 398h1M335 398h1M371 398h1M349 393h1M355 399h1M337 373h1M336 397h1M351 394h1M358 399h1M360 396h1M336 399h1M363 388h1M356 384h1M312 404h1M336 400h1M336 405h1M360 385h1M324 405h1M362 405h1M361 395h1M368 418h1M354 389h1M311 377h1M350 397h1M362 378h1M337 396h1M303 386h1M346 395h1M357 391h1M299 377h1M329 395h1M331 403h1M331 382h1M342 388h1M355 393h1M328 400h1M339 383h1M292 384h1M365 380h1M324 376h1M336 373h1M359 383h1M373 378h1M370 393h1M335 395h1M357 393h1M357 400h1M359 410h1M362 373h1M344 396h1M330 385h1M345 389h1M335 385h1M336 391h1M351 387h1M334 392h1M309 377h1M296 382h1M328 370h1M320 381h1M353 383h1M291 402h1M335 378h1M344 394h1M346 405h1M321 369h1M297 373h1M289 367h1M346 392h1M331 397h1M363 367h1M312 398h1M350 384h1M332 387h1M354 383h1M334 379h1M306 385h1M343 377h1M341 378h1M308 391h1M358 393h1M332 386h1M339 395h1M323 380h1M311 393h1M361 401h1M372 396h1M327 370h1M344 400h1M356 387h1M361 402h1M351 400h1M368 399h1M316 374h1M308 380h1M317 396h1M354 390h1M348 376h1M339 380h1M356 377h1M366 380h1M352 399h1M343 395h1M369 393h1M355 414h1M368 391h1M372 395h1M349 394h1M343 402h1M373 377h1M359 372h1M352 394h1M348 401h1M309 380h1M309 389h1M339 401h1M327 374h1M362 387h1M366 373h1M348 383h1M368 390h1M349 374h1M362 414h1M342 385h1M348 385h1M306 395h1M348 379h1M351 398h1M317 379h1M313 386h1M365 388h1M348 381h1M366 397h1M332 381h1M346 389h1M350 388h1M365 406h1M321 381h1M330 401h1M309 395h1M327 400h1M344 410h1M317 408h1M346 394h1M338 408h1M323 408h1M367 402h1M328 395h1M332 402h1M352 387h1M319 410h1M335 400h1M364 389h1M327 383h1M371 393h1M361 385h1M353 382h1M333 384h1M373 395h1M306 388h1M296 384h1M343 393h1M351 388h1M332 395h1M363 393h1M369 395h1M361 407h1M341 386h1M295 378h1M342 409h1M332 401h1M326 427h1M305 409h1M304 418h1M325 425h1M340 410h1M317 403h1M324 421h1M322 430h1M308 397h1M318 414h1M305 407h1M327 416h1M333 435h1M327 435h1M307 406h1M318 419h1M294 407h1M313 412h1M342 434h1M316 417h1M293 408h1M335 421h1M320 441h1M345 406h1M329 416h1M300 440h1M311 412h1M325 423h1M324 419h1M331 418h1M329 410h1M334 422h1M319 436h1M308 419h1M307 415h1M312 412h1M309 430h1M311 413h1M316 415h1M320 428h1M318 417h1M324 415h1M317 416h1M314 405h1M325 398h1M302 423h1M310 434h1M322 415h1M340 429h1M334 416h1M313 428h1M330 410h1M332 415h1M333 410h1M317 402h1M348 408h1M320 411h1M318 416h1M326 411h1M330 432h1M309 428h1M327 414h1M325 416h1M320 427h1M327 412h1M321 417h1M307 422h1M342 392h1M328 428h1M329 434h1M336 419h1M327 432h1M317 429h1M338 400h1M321 418h1M320 430h1M323 404h1M310 414h1M317 420h1M319 417h1M329 417h1M327 423h1M324 402h1M311 427h1M318 405h1M328 426h1M322 413h1M313 424h1M316 424h1M302 412h1M334 413h1M324 404h1M312 440h1M340 420h1M324 399h1M327 427h1M328 421h1M307 407h1M327 434h1M312 410h1M325 429h1M321 410h1M319 405h1M304 419h1M323 411h1M320 424h1M331 414h1M311 417h1M322 408h1M316 419h1M304 423h1M332 407h1M305 426h1M328 410h1M314 418h1M331 411h1M306 416h1M319 429h1M309 417h1M326 416h1M298 421h1M324 389h1M320 402h1M315 421h1M311 400h1M304 406h1M304 437h1M326 406h1M314 425h1M309 423h1M318 430h1M318 411h1M344 409h1M309 435h1M316 423h1M309 412h1M328 429h1M300 408h1M330 407h1M319 415h1M321 406h1M323 421h1M313 416h1M329 424h1M311 411h1M330 418h1M308 418h1M293 410h1M318 425h1M319 407h1M335 415h1M305 404h1M326 417h1M326 429h1M328 416h1M306 420h1M329 402h1M331 430h1M312 433h1M318 415h1M305 417h1M305 434h1M332 403h1M333 422h1M329 432h1M322 425h1M330 397h1M337 414h1M329 412h1M327 429h1M309 418h1M313 422h1M317 412h1M304 425h1M327 408h1M323 438h1M315 410h1M319 412h1M313 425h1M297 419h1M310 412h1M323 415h1M330 413h1M315 405h1M323 418h1M302 392h1M307 434h1M339 415h1M316 425h1M325 412h1M304 420h1M324 416h1M319 416h1M321 425h1M308 414h1M330 412h1M313 421h1M305 427h1M322 419h1M332 427h1M316 404h1M327 421h1M308 407h1M313 418h1M325 417h1M351 433h1M315 416h1M311 415h1M325 430h1M340 428h1M364 417h1M370 416h1M372 416h1M313 382h1M339 409h1M321 405h1M354 395h1M345 357h1M367 376h1M342 399h1M306 369h1M365 382h1M347 390h1M368 382h1M365 375h1M352 432h1M357 409h1M356 435h1M363 407h1M365 412h1M321 363h1M338 433h1M372 398h1M315 427h1M353 438h1M326 425h1M374 416h1M336 429h1M332 408h1M359 376h1M360 418h1M357 410h1M317 439h1M299 439h1M305 356h1M360 413h1M309 381h1M346 359h1M371 418h1M340 368h1M303 423h1M320 419h1M314 436h1M355 382h1M297 409h1M313 431h1M312 360h1" stroke="#000" stroke-width="1" stroke-opacity="0.45" transform="translate(0 .5)" filter="url(#soft)"/>
<path d="M302 404h1M305 390h1M295 391h1M300 393h1M308 385h1M312 399h1M305 394h1M309 392h1M289 389h1M291 391h1M299 402h1M299 395h1M288 396h1M289 395h1M297 402h1M304 396h1M301 390h1M303 395h1M319 382h1M301 391h1M296 386h1M298 395h1M297 390h1M307 395h1M296 403h1M303 388h1M292 393h1M294 398h1M295 395h1M302 399h1M310 396h1M289 419h1M296 398h1M291 397h1M291 396h1M292 396h1M295 388h1M293 394h1M298 387h1M312 400h1M307 397h1M298 399h1M296 407h1M304 392h1M294 400h1M311 395h1M313 399h1M290 393h1M304 402h1M302 400h1M302 396h1M304 394h1M300 402h1M292 402h1M308 396h1M290 400h1M298 394h1M306 396h1M317 395h1M300 391h1M300 400h1M312 405h1M292 391h1M309 390h1M298 392h1M303 399h1M301 389h1M298 403h1M306 387h1M297 397h1M311 390h1M298 408h1M292 392h1M293 395h1M309 411h1M298 400h1M310 392h1M298 397h1M318 402h1M298 389h1M315 396h1M308 390h1M306 394h1M303 396h1M315 392h1M297 399h1M296 402h1M303 394h1M289 397h1M297 400h1M299 399h1M292 394h1M289 399h1M305 398h1M303 397h1M304 393h1M318 399h1M290 395h1M291 393h1M315 393h1M299 403h1M321 393h1M294 396h1M291 389h1M290 394h1M298 396h1M296 393h1M313 388h1M294 385h1M301 403h1M294 392h1M292 397h1M309 409h1M297 395h1M299 388h1M305 396h1M299 386h1M318 395h1M295 389h1M294 402h1M304 398h1M303 400h1M296 406h1M297 404h1M293 401h1M299 397h1M311 405h1M311 402h1M289 402h1M301 395h1M301 394h1M295 396h1M315 395h1M292 403h1M331 392h1M295 404h1M311 394h1M309 394h1M308 408h1M315 399h1M295 394h1M296 390h1M312 383h1M301 399h1M291 401h1M292 399h1M299 394h1M311 407h1M301 398h1M300 395h1M291 404h1M310 405h1M302 409h1M294 393h1M293 396h1M308 401h1M305 402h1M318 385h1M303 393h1M301 397h1M290 392h1M301 401h1M309 397h1M299 396h1M316 401h1M296 401h1M307 393h1M296 388h1M295 397h1M299 387h1M297 393h1M309 400h1M317 390h1M296 395h1M290 396h1M295 392h1M300 385h1M314 403h1M304 401h1M319 398h1M313 392h1M304 395h1M299 390h1M317 392h1M289 394h1M318 393h1M314 388h1M300 392h1M288 399h1M316 400h1M294 408h1M311 392h1M305 395h1M301 393h1M300 414h1M299 400h1M310 387h1M305 392h1M319 394h1M301 392h1M290 389h1M309 399h1M307 401h1M301 404h1M316 395h1M291 388h1M310 397h1M309 391h1M315 404h1M295 406h1M302 397h1M304 409h1M316 394h1M300 405h1M312 389h1M295 398h1M309 388h1M292 387h1M319 396h1M312 396h1M300 397h1M307 402h1M306 398h1M308 400h1M307 394h1M289 393h1M305 391h1M305 400h1M297 396h1M288 392h1M316 398h1M302 403h1M307 405h1M306 389h1M313 401h1M320 397h1M289 396h1M318 387h1M306 397h1M311 398h1M306 393h1M318 383h1M323 392h1M332 385h1M320 390h1M322 391h1M325 383h1M329 389h1M320 388h1M323 389h1M319 390h1M317 387h1M333 388h1M312 388h1M328 388h1M333 385h1M323 385h1M328 383h1M330 392h1M319 392h1M325 388h1M331 391h1M333 393h1M322 382h1M329 388h1M330 393h1M323 388h1M329 386h1M326 392h1M344 389h1M324 383h1M330 389h1M321 385h1M309 398h1M330 380h1M326 387h1M334 386h1M334 395h1M328 389h1M316 387h1M319 386h1M325 387h1M315 394h1M316 382h1M323 383h1M332 389h1M307 386h1M304 388h1M318 396h1M317 393h1M312 392h1M327 385h1M325 391h1M324 384h1M313 396h1M322 388h1M325 386h1M316 391h1M317 386h1M324 394h1M316 388h1M326 389h1M335 387h1M329 387h1M317 388h1M330 391h1M326 391h1M322 383h1M315 390h1M330 386h1M324 392h1M307 390h1M321 388h1M317 384h1M332 391h1M314 386h1M339 390h1M334 390h1M322 386h1M338 377h1M318 390h1M324 390h1M341 388h1M326 390h1M319 388h1M342 390h1M333 383h1M314 391h1M327 390h1M328 386h1M328 391h1M337 381h1M320 392h1M312 390h1M329 382h1M335 384h1M321 387h1M317 389h1M326 393h1M325 393h1M331 394h1M331 390h1M333 381h1M336 388h1M309 393h1M324 387h1M329 396h1M332 384h1M315 389h1M317 394h1M330 384h1M313 390h1M335 386h1M334 385h1M325 390h1M311 388h1M320 385h1M317 391h1M317 385h1M335 391h1M348 391h1M322 392h1M318 389h1M319 389h1M327 386h1M337 393h1M330 382h1M320 396h1M326 388h1M328 392h1M339 389h1M327 391h1M308 394h1M313 394h1M325 384h1M321 391h1M311 391h1M328 387h1M337 388h1M327 389h1M324 393h1M324 385h1M316 389h1M319 387h1M316 396h1M322 389h1M323 386h1M326 383h1M335 383h1M340 380h1M326 386h1M316 392h1M323 384h1M333 386h1M332 388h1M323 394h1M315 386h1M334 389h1M320 386h1M345 390h1M314 389h1M329 381h1M338 392h1M336 385h1M314 387h1M318 384h1M312 393h1M347 387h1M333 390h1M330 390h1M323 390h1M325 389h1M310 390h1M324 391h1M342 389h1M318 388h1M325 381h1M314 393h1M329 391h1M320 401h1M329 384h1M314 396h1M334 388h1M346 385h1M316 390h1M333 392h1M341 389h1M340 381h1M325 394h1M344 390h1M336 396h1M336 390h1M321 390h1M313 384h1M339 388h1M322 384h1M324 400h1M339 379h1M333 391h1M313 391h1M314 395h1M318 394h1M313 385h1M349 387h1M332 382h1M332 396h1M324 382h1M339 386h1M327 393h1M289 431h1M294 417h1M291 420h1M293 420h1M297 425h1M296 425h1M292 414h1M303 415h1M288 424h1M299 423h1M303 424h1M290 420h1M296 419h1M299 419h1M306 404h1M298 425h1M292 420h1M297 424h1M297 421h1M298 430h1M301 422h1M298 422h1M302 421h1M296 429h1M292 426h1M302 418h1M314 420h1M300 427h1M295 414h1M297 418h1M288 418h1M290 421h1M296 415h1M293 412h1M299 421h1M297 411h1M290 419h1M301 421h1M291 417h1M302 407h1M294 427h1M298 416h1M293 414h1M297 414h1M289 417h1M293 424h1M291 428h1M297 426h1M296 417h1M294 424h1M301 416h1M294 419h1M304 416h1M301 419h1M303 425h1M294 420h1M300 422h1M289 420h1M289 430h1M308 424h1M303 419h1M292 424h1M301 417h1M302 428h1M301 415h1M300 420h1M290 426h1M302 424h1M290 431h1M297 420h1M299 420h1M300 424h1M299 413h1M295 423h1M288 419h1M295 420h1M298 423h1M289 428h1M293 413h1M295 429h1M296 411h1M293 427h1M304 422h1M293 425h1M296 423h1M301 412h1M292 427h1M289 424h1M291 424h1M306 429h1M297 422h1M299 426h1M294 421h1M294 425h1M311 426h1M295 421h1M294 415h1M292 421h1M290 425h1M302 422h1M304 431h1M293 429h1M291 422h1M298 424h1M299 414h1M301 418h1M290 429h1M303 432h1M308 420h1M296 424h1M291 425h1M295 437h1M315 426h1M297 429h1M294 422h1M293 423h1M292 425h1M300 423h1M291 421h1M301 427h1M294 418h1M293 426h1M298 414h1M290 428h1M302 430h1M298 426h1M308 417h1M299 415h1M291 433h1M298 427h1M293 418h1M299 430h1M296 422h1M298 419h1M311 420h1M300 413h1M303 411h1M293 419h1M300 411h1M291 415h1M309 426h1M291 430h1M305 423h1M291 416h1M304 424h1M294 423h1M311 425h1M293 415h1M303 427h1M292 418h1M306 417h1M307 428h1M295 436h1M357 388h1M344 387h1M361 382h1M313 407h1M364 397h1M346 388h1M344 398h1M331 398h1M357 384h1M343 392h1M345 387h1M352 386h1M355 387h1M355 389h1M310 400h1M358 396h1M329 392h1M330 398h1M355 383h1M344 388h1M350 393h1M325 396h1M366 384h1M334 397h1M338 391h1M322 397h1M354 392h1M322 398h1M349 375h1M343 387h1M354 394h1M321 407h1M342 394h1M371 391h1M361 389h1M328 393h1M357 389h1M331 405h1M361 399h1M337 390h1M336 409h1M294 403h1M328 394h1M343 381h1M356 390h1M369 397h1M322 393h1M318 412h1M360 390h1M341 396h1M341 398h1M363 388h1M328 400h1M330 385h1M345 389h1M351 387h1M309 377h1M346 405h1M332 387h1M351 400h1M321 381h1M332 402h1M373 395h1M326 427h1M317 403h1M327 416h1M311 412h1M329 410h1M324 415h1M317 420h1M334 413h1M306 416h1M319 429h1M318 411h1M306 420h1M325 412h1" stroke="#000" stroke-width="1" stroke-opacity="0.45" transform="translate(0 .5)" filter="url(#soft)"/>
<path d="M302 404h1M295 391h1M300 393h1M289 389h1M299 402h1M299 395h1M297 402h1M303 395h1M319 382h1M297 390h1M307 395h1M296 403h1M292 393h1M295 395h1M302 399h1M310 396h1M289 419h1M296 398h1M291 397h1M291 396h1M292 396h1M295 388h1M298 387h1M312 400h1M294 400h1M290 393h1M304 402h1M302 400h1M302 396h1M300 402h1M292 402h1M308 396h1M298 394h1M306 396h1M317 395h1M312 405h1M292 391h1M303 399h1M301 389h1M298 403h1M298 397h1M318 402h1M308 390h1M306 394h1M315 392h1M296 402h1M289 397h1M299 399h1M303 397h1M318 399h1M290 395h1M291 393h1M315 393h1M294 396h1M290 394h1M298 396h1M292 397h1M297 395h1M299 386h1M318 395h1M295 389h1M299 397h1M311 402h1M301 394h1M295 396h1M315 395h1M331 392h1M295 404h1M311 394h1M309 394h1M315 399h1M301 399h1M291 401h1M299 394h1M301 398h1M308 401h1M301 397h1M290 392h1M299 396h1M296 401h1M295 397h1M317 390h1M296 395h1M304 401h1M319 398h1M304 395h1M299 390h1M317 392h1M318 393h1M314 388h1M300 392h1M316 400h1M294 408h1M300 414h1M299 400h1M310 387h1M305 392h1M319 394h1M301 392h1M309 399h1M316 395h1M310 397h1M309 391h1M302 397h1M316 394h1M300 405h1M312 389h1M319 396h1M312 396h1M305 391h1M320 397h1M318 387h1M323 392h1M320 390h1M322 391h1M325 383h1M320 388h1M323 389h1M317 387h1M333 388h1M312 388h1M328 388h1M333 385h1M323 385h1M328 383h1M330 392h1M319 392h1M325 388h1M331 391h1M333 393h1M322 382h1M329 388h1M330 393h1M323 388h1M329 386h1M326 392h1M344 389h1M330 389h1M326 387h1M334 395h1M328 389h1M316 387h1M319 386h1M325 387h1M315 394h1M332 389h1M312 392h1M325 391h1M322 388h1M325 386h1M316 391h1M324 394h1M316 388h1M326 389h1M335 387h1M329 387h1M317 388h1M330 391h1M326 391h1M330 386h1M324 392h1M321 388h1M314 386h1M339 390h1M322 386h1M318 390h1M324 390h1M326 390h1M319 388h1M333 383h1M327 390h1M328 386h1M320 392h1M312 390h1M329 382h1M335 384h1M321 387h1M325 393h1M331 394h1M333 381h1M309 393h1M324 387h1M329 396h1M335 386h1M311 388h1M317 391h1M322 392h1M318 389h1M327 386h1M330 382h1M339 389h1M327 391h1M311 391h1M337 388h1M327 389h1M324 393h1M316 389h1M319 387h1M316 396h1M322 389h1M335 383h1M326 386h1M323 384h1M332 388h1M323 394h1M334 389h1M345 390h1M336 385h1M323 390h1M325 389h1M324 391h1M342 389h1M329 391h1M333 392h1M344 390h1M336 396h1M322 384h1M313 391h1M318 394h1M339 386h1M291 420h1M293 420h1M297 425h1M296 425h1M288 424h1M299 423h1M290 420h1M296 419h1M299 419h1M298 425h1M292 420h1M297 424h1M297 421h1M298 430h1M301 422h1M302 421h1M296 429h1M292 426h1M302 418h1M297 418h1M290 421h1M293 412h1M297 411h1M301 421h1M293 424h1M291 428h1M297 426h1M296 417h1M294 424h1M301 416h1M294 419h1M300 422h1M289 420h1M289 430h1M301 417h1M301 415h1M302 424h1M290 431h1M300 424h1M295 423h1M295 420h1M289 428h1M293 413h1M295 429h1M293 427h1M304 422h1M293 425h1M301 412h1M291 424h1M294 425h1M311 426h1M295 421h1M290 425h1M302 422h1M293 429h1M291 422h1M308 420h1M296 424h1M291 425h1M295 437h1M297 429h1M294 422h1M293 423h1M292 425h1M300 423h1M294 418h1M298 414h1M302 430h1M298 426h1M296 422h1M300 411h1M291 415h1M309 426h1M294 423h1M303 427h1M292 418h1M306 417h1M313 407h1M329 392h1M334 397h1M363 388h1M306 420h1" stroke="#000" stroke-width="1" stroke-opacity="0.45" transform="translate(0 .5)" filter="url(#soft)"/>
</g>
<rect x="177.2" y="428.8" width="16" height="13.8" fill="#fff"/>
<rect x="287.8" y="429.6" width="15.5" height="13.5" fill="#fff"/>
<path d="M67.3 354.2V444.0" stroke="#8a8a8a" stroke-width="1.2"/>
<path d="M67.3 354.2H155.2" stroke="#8a8a8a" stroke-width="1"/>
<path d="M155.2 354.2V444.0" stroke="#9a9a9a" stroke-width="1"/>
<path d="M83.8 443.7H136.3" stroke="#777" stroke-width="1"/>
<path d="M67.3 444.0H83.8M136.3 444.0H155.2" stroke="#ddd" stroke-width="1"/>
<line x1="91.4" y1="354.2" x2="91.4" y2="444.0" stroke="#333" stroke-width="1.2"/>
<line x1="67.3" y1="403.8" x2="155.2" y2="403.8" stroke="#333" stroke-width="1.2"/>
<path d="M176.7 352.7V443.0" stroke="#8a8a8a" stroke-width="1.2"/>
<path d="M176.7 352.7H265.6" stroke="#d8d8d8" stroke-width="1"/>
<path d="M265.6 352.7V443.0" stroke="#b0b0b0" stroke-width="1"/>
<path d="M193.2 442.7H245.7" stroke="#777" stroke-width="1"/>
<path d="M176.7 443.0H193.2M245.7 443.0H265.6" stroke="#ddd" stroke-width="1"/>
<line x1="200.8" y1="352.7" x2="200.8" y2="443.0" stroke="#333" stroke-width="1.2"/>
<line x1="176.7" y1="402.3" x2="265.6" y2="402.3" stroke="#333" stroke-width="1.2"/>
<path d="M287.3 354.2V443.5" stroke="#8a8a8a" stroke-width="1.2"/>
<path d="M287.3 354.2H375.6" stroke="#9a9a9a" stroke-width="1"/>
<path d="M375.6 354.2V443.5" stroke="#dddddd" stroke-width="1"/>
<path d="M303.8 443.2H356.3" stroke="#777" stroke-width="1"/>
<path d="M287.3 443.5H303.8M356.3 443.5H375.6" stroke="#ddd" stroke-width="1"/>
<line x1="311.4" y1="354.2" x2="311.4" y2="443.5" stroke="#333" stroke-width="1.2"/>
<line x1="287.3" y1="404.2" x2="375.6" y2="404.2" stroke="#333" stroke-width="1.2"/>
<text x="70" y="367" font-size="11.2">4.7</text>
<text x="137.9" y="367" font-size="11.2">1.5</text>
<text x="70.6" y="441" font-size="11.2">93</text>
<text x="138" y="441" font-size="11.2">0.4</text>
<text x="179.6" y="367.5" font-size="11.2">21</text>
<text x="246.5" y="367.5" font-size="11.2">9.8</text>
<text x="179.6" y="440.5" font-size="11.2">68</text>
<text x="246.3" y="440.5" font-size="11.2">0.9</text>
<text x="289.6" y="367" font-size="11.2">56</text>
<text x="356" y="367" font-size="11.2">3.6</text>
<text x="289.6" y="441" font-size="11.2">40</text>
<text x="356" y="441" font-size="11.2">0.1</text>
<line x1="75.3" y1="522.6" x2="75.3" y2="633.5" stroke="#111" stroke-width="2.0"/>
<line x1="70.3" y1="526.6" x2="75.3" y2="526.6" stroke="#111" stroke-width="1.5"/>
<text x="65.3" y="530.6" font-size="11.4" text-anchor="end">15</text>
<line x1="70.3" y1="562.2" x2="75.3" y2="562.2" stroke="#111" stroke-width="1.5"/>
<text x="65.3" y="566.2" font-size="11.4" text-anchor="end">10</text>
<line x1="70.3" y1="597.6" x2="75.3" y2="597.6" stroke="#111" stroke-width="1.5"/>
<text x="65.3" y="601.6" font-size="11.4" text-anchor="end">5</text>
<line x1="70.3" y1="632.5" x2="75.3" y2="632.5" stroke="#111" stroke-width="1.5"/>
<text x="65.3" y="636.5" font-size="11.4" text-anchor="end">0</text>
<line x1="74.3" y1="632.5" x2="180.8" y2="632.5" stroke="#111" stroke-width="2.0"/>
<line x1="92.8" y1="632.5" x2="92.8" y2="638.0" stroke="#111" stroke-width="1.5"/>
<line x1="127.9" y1="632.5" x2="127.9" y2="638.0" stroke="#111" stroke-width="1.5"/>
<line x1="162.8" y1="632.5" x2="162.8" y2="638.0" stroke="#111" stroke-width="1.5"/>
<text x="96.1" y="645.7" font-size="12.3" text-anchor="end" fill="#1c1c1c" transform="rotate(-45 96.1 645.7)">BM Only</text>
<text x="131.2" y="645.7" font-size="12.3" text-anchor="end" fill="#1c1c1c" transform="rotate(-45 131.2 645.7)">BM+Sp+Veh</text>
<text x="166.1" y="645.7" font-size="12.3" text-anchor="end" fill="#1c1c1c" transform="rotate(-45 166.1 645.7)">BM+Sp+B-I09</text>
<text x="100.4" y="512.2" font-size="12.8" textLength="55.0" lengthAdjust="spacingAndGlyphs">Live cells</text>
<text x="135.6" y="543.5" font-size="11.0" textLength="35.0" lengthAdjust="spacingAndGlyphs" fill="#333">p=0.02</text>
<circle cx="88.8" cy="625.0" r="2.6" fill="#4f8a35"/>
<circle cx="96.0" cy="623.2" r="2.6" fill="#4f8a35"/>
<line x1="80.8" y1="624.0" x2="104.39999999999999" y2="624.0" stroke="#111" stroke-width="2.1"/>
<rect x="120.40" y="559.40" width="5.6" height="5.6" fill="#2c4a82"/>
<rect x="128.20" y="562.60" width="5.6" height="5.6" fill="#2c4a82"/>
<rect x="125.10" y="590.70" width="5.6" height="5.6" fill="#2c4a82"/>
<line x1="127.6" y1="556.3" x2="127.6" y2="590.8" stroke="#111" stroke-width="2.0"/>
<line x1="121.89999999999999" y1="556.3" x2="133.29999999999998" y2="556.3" stroke="#111" stroke-width="2.0"/>
<line x1="121.89999999999999" y1="590.8" x2="133.29999999999998" y2="590.8" stroke="#111" stroke-width="2.0"/>
<line x1="115.8" y1="573.4" x2="139.4" y2="573.4" stroke="#111" stroke-width="2.1"/>
<polygon points="162.20,598.58 165.20,604.28 159.20,604.28" fill="#9a1640"/>
<polygon points="159.20,611.18 162.20,616.88 156.20,616.88" fill="#9a1640"/>
<polygon points="166.40,609.58 169.40,615.28 163.40,615.28" fill="#9a1640"/>
<line x1="162.6" y1="602.4" x2="162.6" y2="616.6" stroke="#111" stroke-width="2.0"/>
<line x1="157.6" y1="602.4" x2="167.6" y2="602.4" stroke="#111" stroke-width="2.0"/>
<line x1="157.6" y1="616.6" x2="167.6" y2="616.6" stroke="#111" stroke-width="2.0"/>
<line x1="150.79999999999998" y1="609.8" x2="174.4" y2="609.8" stroke="#111" stroke-width="2.1"/>
<text transform="translate(43.0 578) rotate(-90)" font-size="11.9" stroke="#1c1c1c" stroke-width="0.3" text-anchor="middle" fill="#1c1c1c" textLength="92" lengthAdjust="spacingAndGlyphs">%H2K<tspan font-size="8.6" dy="-4.4">b+</tspan><tspan dy="4.4">syndecan-1</tspan><tspan font-size="8.6" dy="-4.4">+</tspan></text>
<line x1="238.3" y1="523.0" x2="238.3" y2="633.6" stroke="#111" stroke-width="2.0"/>
<line x1="233.3" y1="527.0" x2="238.3" y2="527.0" stroke="#111" stroke-width="1.5"/>
<text x="231.8" y="531.0" font-size="11.4" text-anchor="end">15</text>
<line x1="233.3" y1="562.6" x2="238.3" y2="562.6" stroke="#111" stroke-width="1.5"/>
<text x="231.8" y="566.6" font-size="11.4" text-anchor="end">10</text>
<line x1="233.3" y1="597.9" x2="238.3" y2="597.9" stroke="#111" stroke-width="1.5"/>
<text x="231.8" y="601.9" font-size="11.4" text-anchor="end">5</text>
<line x1="233.3" y1="632.6" x2="238.3" y2="632.6" stroke="#111" stroke-width="1.5"/>
<text x="231.8" y="636.6" font-size="11.4" text-anchor="end">0</text>
<line x1="237.3" y1="632.6" x2="343.4" y2="632.6" stroke="#111" stroke-width="2.0"/>
<line x1="255.6" y1="632.6" x2="255.6" y2="638.1" stroke="#111" stroke-width="1.5"/>
<line x1="290.9" y1="632.6" x2="290.9" y2="638.1" stroke="#111" stroke-width="1.5"/>
<line x1="325.8" y1="632.6" x2="325.8" y2="638.1" stroke="#111" stroke-width="1.5"/>
<text x="258.9" y="645.8" font-size="12.3" text-anchor="end" fill="#1c1c1c" transform="rotate(-45 258.9 645.8)">BM Only</text>
<text x="294.2" y="645.8" font-size="12.3" text-anchor="end" fill="#1c1c1c" transform="rotate(-45 294.2 645.8)">BM+Sp+Veh</text>
<text x="329.1" y="645.8" font-size="12.3" text-anchor="end" fill="#1c1c1c" transform="rotate(-45 329.1 645.8)">BM+Sp+B-I09</text>
<text x="263.4" y="512.2" font-size="12.8" textLength="55.0" lengthAdjust="spacingAndGlyphs">Live cells</text>
<text x="296.0" y="540.6" font-size="11.0" textLength="35.6" lengthAdjust="spacingAndGlyphs" fill="#333">p=0.04</text>
<circle cx="251.8" cy="624.2" r="2.6" fill="#4f8a35"/>
<circle cx="259.2" cy="622.0" r="2.6" fill="#4f8a35"/>
<line x1="243.79999999999998" y1="623.1" x2="267.4" y2="623.1" stroke="#111" stroke-width="2.1"/>
<rect x="288.10" y="552.40" width="5.6" height="5.6" fill="#2c4a82"/>
<rect x="288.10" y="560.90" width="5.6" height="5.6" fill="#2c4a82"/>
<rect x="288.10" y="590.50" width="5.6" height="5.6" fill="#2c4a82"/>
<line x1="290.7" y1="551.0" x2="290.7" y2="590.3" stroke="#111" stroke-width="2.0"/>
<line x1="285.09999999999997" y1="551.0" x2="296.3" y2="551.0" stroke="#111" stroke-width="2.0"/>
<line x1="285.09999999999997" y1="590.3" x2="296.3" y2="590.3" stroke="#111" stroke-width="2.0"/>
<line x1="278.9" y1="570.7" x2="302.5" y2="570.7" stroke="#111" stroke-width="2.1"/>
<polygon points="325.20,595.58 328.20,601.28 322.20,601.28" fill="#9a1640"/>
<polygon points="322.20,607.18 325.20,612.88 319.20,612.88" fill="#9a1640"/>
<polygon points="329.00,604.58 332.00,610.28 326.00,610.28" fill="#9a1640"/>
<line x1="325.6" y1="599.7" x2="325.6" y2="612.0" stroke="#111" stroke-width="2.0"/>
<line x1="320.5" y1="599.7" x2="330.70000000000005" y2="599.7" stroke="#111" stroke-width="2.0"/>
<line x1="314.0" y1="605.6" x2="337.6" y2="605.6" stroke="#111" stroke-width="2.1"/>
<text transform="translate(207.2 577.5) rotate(-90)" font-size="11.9" stroke="#1c1c1c" stroke-width="0.3" text-anchor="middle" fill="#1c1c1c" textLength="90" lengthAdjust="spacingAndGlyphs">%syndecan-1<tspan font-size="8.6" dy="-4.4">+</tspan><tspan dy="4.4">IgG1</tspan><tspan font-size="8.6" dy="-4.4">+</tspan></text>
<line x1="404.0" y1="522.6" x2="404.0" y2="633.5" stroke="#111" stroke-width="2.0"/>
<line x1="399.0" y1="527.2" x2="404.0" y2="527.2" stroke="#111" stroke-width="1.5"/>
<text x="395.4" y="531.2" font-size="11.4" text-anchor="end">1.0</text>
<line x1="399.0" y1="548.4" x2="404.0" y2="548.4" stroke="#111" stroke-width="1.5"/>
<text x="395.4" y="552.4" font-size="11.4" text-anchor="end">0.8</text>
<line x1="399.0" y1="569.6" x2="404.0" y2="569.6" stroke="#111" stroke-width="1.5"/>
<text x="395.4" y="573.6" font-size="11.4" text-anchor="end">0.6</text>
<line x1="399.0" y1="590.6" x2="404.0" y2="590.6" stroke="#111" stroke-width="1.5"/>
<text x="395.4" y="594.6" font-size="11.4" text-anchor="end">0.4</text>
<line x1="399.0" y1="611.6" x2="404.0" y2="611.6" stroke="#111" stroke-width="1.5"/>
<text x="395.4" y="615.6" font-size="11.4" text-anchor="end">0.2</text>
<line x1="399.0" y1="632.5" x2="404.0" y2="632.5" stroke="#111" stroke-width="1.5"/>
<text x="395.4" y="636.5" font-size="11.4" text-anchor="end">0.0</text>
<line x1="403.0" y1="632.5" x2="509.4" y2="632.5" stroke="#111" stroke-width="2.0"/>
<line x1="421.3" y1="632.5" x2="421.3" y2="638.0" stroke="#111" stroke-width="1.5"/>
<line x1="456.6" y1="632.5" x2="456.6" y2="638.0" stroke="#111" stroke-width="1.5"/>
<line x1="491.3" y1="632.5" x2="491.3" y2="638.0" stroke="#111" stroke-width="1.5"/>
<text x="424.6" y="645.7" font-size="12.3" text-anchor="end" fill="#1c1c1c" transform="rotate(-45 424.6 645.7)">BM Only</text>
<text x="459.9" y="645.7" font-size="12.3" text-anchor="end" fill="#1c1c1c" transform="rotate(-45 459.9 645.7)">BM+Sp+Veh</text>
<text x="494.6" y="645.7" font-size="12.3" text-anchor="end" fill="#1c1c1c" transform="rotate(-45 494.6 645.7)">BM+Sp+B-I09</text>
<text x="429.4" y="510.6" font-size="12.8" textLength="55.0" lengthAdjust="spacingAndGlyphs">Live cells</text>
<text x="461.1" y="527.6" font-size="11.0" textLength="41.4" lengthAdjust="spacingAndGlyphs" fill="#333">p=0.009</text>
<polygon points="421.30,588.81 424.10,594.13 418.50,594.13" fill="#4f8a35"/>
<polygon points="421.30,597.31 424.10,602.63 418.50,602.63" fill="#4f8a35"/>
<line x1="421.2" y1="588.4" x2="421.2" y2="603.4" stroke="#111" stroke-width="2.0"/>
<line x1="415.4" y1="588.4" x2="427.0" y2="588.4" stroke="#111" stroke-width="2.0"/>
<line x1="415.4" y1="603.4" x2="427.0" y2="603.4" stroke="#111" stroke-width="2.0"/>
<line x1="409.59999999999997" y1="595.8" x2="433.2" y2="595.8" stroke="#111" stroke-width="2.1"/>
<rect x="453.80" y="535.00" width="5.6" height="5.6" fill="#2c4a82"/>
<rect x="453.80" y="556.20" width="5.6" height="5.6" fill="#2c4a82"/>
<rect x="453.80" y="577.40" width="5.6" height="5.6" fill="#2c4a82"/>
<line x1="456.6" y1="537.8" x2="456.6" y2="580.2" stroke="#111" stroke-width="2.0"/>
<line x1="451.20000000000005" y1="537.8" x2="462.0" y2="537.8" stroke="#111" stroke-width="2.0"/>
<line x1="451.20000000000005" y1="580.2" x2="462.0" y2="580.2" stroke="#111" stroke-width="2.0"/>
<line x1="444.8" y1="559.0" x2="468.40000000000003" y2="559.0" stroke="#111" stroke-width="2.1"/>
<polygon points="491.20,607.58 494.20,613.28 488.20,613.28" fill="#9a1640"/>
<polygon points="487.70,619.08 490.70,624.78 484.70,624.78" fill="#9a1640"/>
<polygon points="494.60,619.08 497.60,624.78 491.60,624.78" fill="#9a1640"/>
<line x1="491.4" y1="612.5" x2="491.4" y2="624.6" stroke="#111" stroke-width="2.0"/>
<line x1="485.59999999999997" y1="612.5" x2="497.2" y2="612.5" stroke="#111" stroke-width="2.0"/>
<line x1="485.59999999999997" y1="624.6" x2="497.2" y2="624.6" stroke="#111" stroke-width="2.0"/>
<line x1="479.7" y1="618.3" x2="503.3" y2="618.3" stroke="#111" stroke-width="2.1"/>
<text transform="translate(368.7 576) rotate(-90)" font-size="11.9" stroke="#1c1c1c" stroke-width="0.3" text-anchor="middle" fill="#1c1c1c" textLength="93" lengthAdjust="spacingAndGlyphs">%syndecan-1<tspan font-size="8.6" dy="-4.4">+</tspan><tspan dy="4.4">IgG1</tspan><tspan font-size="8.6" dy="-4.4">-</tspan></text>
<rect x="1" y="1" width="518" height="711" fill="none" stroke="#000" stroke-width="2"/>
</svg>
</body></html>
